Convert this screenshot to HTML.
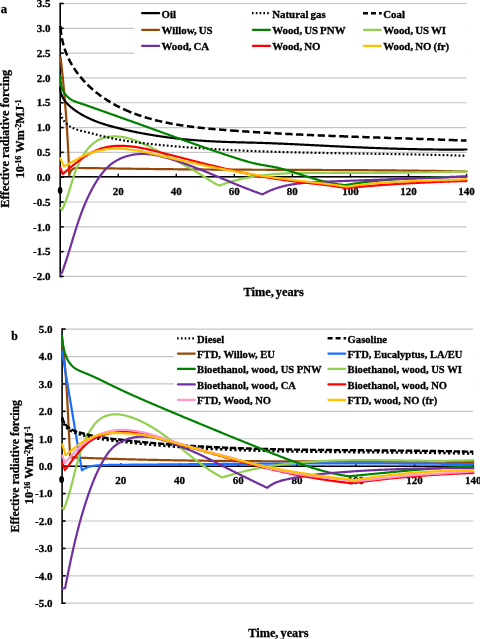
<!DOCTYPE html>
<html><head><meta charset="utf-8"><style>
html,body{margin:0;padding:0;background:#fff;}
body{width:480px;height:639px;overflow:hidden;}
svg{display:block;will-change:transform;}
text{font-family:"Liberation Serif", serif;font-weight:bold;fill:#000;stroke:#000;stroke-width:0.3px;}
</style></head><body>
<svg width="480" height="639" viewBox="0 0 480 639">
<rect width="480" height="639" fill="#fff"/>
<line x1="60.20" y1="3.50" x2="466.50" y2="3.50" stroke="#C6C6C6" stroke-width="1.2"/>
<line x1="60.20" y1="28.31" x2="466.50" y2="28.31" stroke="#C6C6C6" stroke-width="1.2"/>
<line x1="60.20" y1="53.13" x2="466.50" y2="53.13" stroke="#C6C6C6" stroke-width="1.2"/>
<line x1="60.20" y1="77.94" x2="466.50" y2="77.94" stroke="#C6C6C6" stroke-width="1.2"/>
<line x1="60.20" y1="102.75" x2="466.50" y2="102.75" stroke="#C6C6C6" stroke-width="1.2"/>
<line x1="60.20" y1="127.57" x2="466.50" y2="127.57" stroke="#C6C6C6" stroke-width="1.2"/>
<line x1="60.20" y1="152.38" x2="466.50" y2="152.38" stroke="#C6C6C6" stroke-width="1.2"/>
<line x1="60.20" y1="177.20" x2="466.50" y2="177.20" stroke="#C6C6C6" stroke-width="1.2"/>
<line x1="60.20" y1="202.01" x2="466.50" y2="202.01" stroke="#C6C6C6" stroke-width="1.2"/>
<line x1="60.20" y1="226.82" x2="466.50" y2="226.82" stroke="#C6C6C6" stroke-width="1.2"/>
<line x1="60.20" y1="251.64" x2="466.50" y2="251.64" stroke="#C6C6C6" stroke-width="1.2"/>
<line x1="60.20" y1="276.45" x2="466.50" y2="276.45" stroke="#C6C6C6" stroke-width="1.2"/>
<rect x="134" y="6" width="332" height="50" fill="#fff"/>
<line x1="60.20" y1="2.70" x2="60.20" y2="277.25" stroke="#000" stroke-width="1.6"/>
<line x1="60.20" y1="3.50" x2="63.70" y2="3.50" stroke="#000" stroke-width="1.6"/>
<text x="50.50" y="7.24" text-anchor="end" font-size="11.00">3.5</text>
<line x1="60.20" y1="28.31" x2="63.70" y2="28.31" stroke="#000" stroke-width="1.6"/>
<text x="50.50" y="32.05" text-anchor="end" font-size="11.00">3.0</text>
<line x1="60.20" y1="53.13" x2="63.70" y2="53.13" stroke="#000" stroke-width="1.6"/>
<text x="50.50" y="56.87" text-anchor="end" font-size="11.00">2.5</text>
<line x1="60.20" y1="77.94" x2="63.70" y2="77.94" stroke="#000" stroke-width="1.6"/>
<text x="50.50" y="81.68" text-anchor="end" font-size="11.00">2.0</text>
<line x1="60.20" y1="102.75" x2="63.70" y2="102.75" stroke="#000" stroke-width="1.6"/>
<text x="50.50" y="106.49" text-anchor="end" font-size="11.00">1.5</text>
<line x1="60.20" y1="127.57" x2="63.70" y2="127.57" stroke="#000" stroke-width="1.6"/>
<text x="50.50" y="131.31" text-anchor="end" font-size="11.00">1.0</text>
<line x1="60.20" y1="152.38" x2="63.70" y2="152.38" stroke="#000" stroke-width="1.6"/>
<text x="50.50" y="156.12" text-anchor="end" font-size="11.00">0.5</text>
<line x1="60.20" y1="177.20" x2="63.70" y2="177.20" stroke="#000" stroke-width="1.6"/>
<text x="50.50" y="180.94" text-anchor="end" font-size="11.00">0.0</text>
<line x1="60.20" y1="202.01" x2="63.70" y2="202.01" stroke="#000" stroke-width="1.6"/>
<text x="50.50" y="205.75" text-anchor="end" font-size="11.00">-0.5</text>
<line x1="60.20" y1="226.82" x2="63.70" y2="226.82" stroke="#000" stroke-width="1.6"/>
<text x="50.50" y="230.56" text-anchor="end" font-size="11.00">-1.0</text>
<line x1="60.20" y1="251.64" x2="63.70" y2="251.64" stroke="#000" stroke-width="1.6"/>
<text x="50.50" y="255.38" text-anchor="end" font-size="11.00">-1.5</text>
<line x1="60.20" y1="276.45" x2="63.70" y2="276.45" stroke="#000" stroke-width="1.6"/>
<text x="50.50" y="280.19" text-anchor="end" font-size="11.00">-2.0</text>
<line x1="60.20" y1="176.80" x2="466.50" y2="176.80" stroke="#000" stroke-width="1.6"/>
<line x1="118.24" y1="176.80" x2="118.24" y2="173.80" stroke="#000" stroke-width="1.4"/>
<text x="118.24" y="194.50" text-anchor="middle" font-size="11.00">20</text>
<line x1="176.29" y1="176.80" x2="176.29" y2="173.80" stroke="#000" stroke-width="1.4"/>
<text x="176.29" y="194.50" text-anchor="middle" font-size="11.00">40</text>
<line x1="234.33" y1="176.80" x2="234.33" y2="173.80" stroke="#000" stroke-width="1.4"/>
<text x="234.33" y="194.50" text-anchor="middle" font-size="11.00">60</text>
<line x1="292.37" y1="176.80" x2="292.37" y2="173.80" stroke="#000" stroke-width="1.4"/>
<text x="292.37" y="194.50" text-anchor="middle" font-size="11.00">80</text>
<line x1="350.41" y1="176.80" x2="350.41" y2="173.80" stroke="#000" stroke-width="1.4"/>
<text x="350.41" y="194.50" text-anchor="middle" font-size="11.00">100</text>
<line x1="408.46" y1="176.80" x2="408.46" y2="173.80" stroke="#000" stroke-width="1.4"/>
<text x="408.46" y="194.50" text-anchor="middle" font-size="11.00">120</text>
<line x1="466.50" y1="176.80" x2="466.50" y2="173.80" stroke="#000" stroke-width="1.4"/>
<text x="466.50" y="194.50" text-anchor="middle" font-size="11.00">140</text>
<path d="M60.60,57.50 L60.71,58.49 L60.83,59.49 L60.94,60.49 L61.05,61.48 L61.16,62.48 L61.27,63.47 L61.38,64.47 L61.49,65.46 L61.60,66.46 L61.71,67.45 L61.81,68.45 L61.92,69.44 L62.02,70.44 L62.13,71.44 L62.23,72.43 L62.34,73.43 L62.44,74.42 L62.54,75.42 L62.64,76.41 L62.74,77.41 L62.84,78.41 L62.94,79.40 L63.04,80.40 L63.14,81.40 L63.23,82.39 L63.33,83.39 L63.43,84.39 L63.52,85.38 L63.61,86.38 L63.71,87.38 L63.80,88.37 L63.89,89.37 L63.98,90.37 L64.07,91.36 L64.16,92.36 L64.25,93.36 L64.34,94.35 L64.43,95.35 L64.52,96.35 L64.60,97.34 L64.69,98.34 L64.77,99.34 L64.86,100.34 L64.94,101.33 L65.03,102.33 L65.11,103.33 L65.19,104.33 L65.27,105.32 L65.35,106.32 L65.43,107.32 L65.51,108.32 L65.59,109.32 L65.66,110.31 L65.74,111.31 L65.82,112.31 L65.89,113.31 L65.97,114.31 L66.04,115.30 L66.11,116.30 L66.19,117.30 L66.26,118.30 L66.33,119.30 L66.40,120.30 L66.47,121.29 L66.54,122.29 L66.61,123.29 L66.68,124.29 L66.74,125.29 L66.81,126.29 L66.87,127.29 L66.94,128.29 L67.00,129.29 L67.07,130.28 L67.13,131.28 L67.19,132.28 L67.25,133.28 L67.31,134.28 L67.37,135.28 L67.43,136.28 L67.49,137.28 L67.55,138.28 L67.61,139.28 L67.66,140.28 L67.72,141.28 L67.77,142.28 L67.83,143.28 L67.88,144.28 L67.93,145.28 L67.99,146.28 L68.04,147.28 L68.09,148.28 L68.14,149.28 L68.19,150.28 L68.24,151.28 L68.29,152.28 L68.33,153.28 L68.38,154.28 L68.43,155.28 L68.47,156.28 L68.52,157.28 L68.56,158.28 L68.60,159.28 L68.65,160.28 L68.69,161.28 L68.73,162.28 L68.77,163.28 L68.81,164.29 L68.85,165.29 L68.89,166.29 L68.92,167.29 L68.96,168.29 L69.00,169.29 L69.03,170.29 L69.07,171.29 L69.10,172.30 L69.14,173.30 L69.17,174.30 L69.20,175.30 L69.47,174.09 L69.85,172.96 L70.33,171.92 L70.88,170.98 L71.51,170.16 L72.21,169.48 L72.97,168.94 L73.78,168.54 L74.63,168.27 L75.52,168.11 L76.44,168.02 L77.38,167.99 L78.33,167.99 L79.28,168.00 L80.24,168.00 L81.20,168.01 L82.16,168.02 L83.12,168.03 L84.08,168.04 L85.05,168.05 L86.02,168.06 L86.99,168.07 L87.96,168.08 L88.93,168.09 L89.90,168.10 L90.88,168.12 L91.86,168.13 L92.84,168.14 L93.82,168.15 L94.80,168.17 L95.78,168.18 L96.77,168.19 L97.76,168.20 L98.74,168.22 L99.73,168.23 L100.72,168.25 L101.71,168.26 L102.71,168.28 L103.70,168.29 L104.69,168.31 L105.69,168.32 L106.69,168.34 L107.68,168.35 L108.68,168.37 L109.68,168.38 L110.68,168.40 L111.68,168.41 L112.69,168.43 L113.69,168.44 L114.69,168.46 L115.70,168.48 L116.70,168.49 L117.71,168.51 L118.71,168.52 L119.72,168.54 L120.72,168.55 L121.73,168.57 L122.74,168.59 L123.75,168.60 L124.75,168.62 L125.76,168.63 L126.77,168.65 L127.78,168.67 L128.79,168.68 L129.80,168.70 L130.81,168.71 L131.82,168.73 L132.83,168.74 L133.84,168.76 L134.85,168.77 L135.85,168.79 L136.86,168.80 L137.87,168.82 L138.88,168.83 L139.89,168.84 L140.90,168.86 L141.91,168.87 L142.91,168.88 L143.92,168.90 L144.93,168.91 L145.94,168.92 L146.95,168.94 L147.96,168.95 L148.96,168.96 L149.97,168.98 L150.98,168.99 L151.99,169.00 L152.99,169.01 L154.00,169.03 L155.01,169.04 L156.01,169.05 L157.02,169.06 L158.03,169.07 L159.03,169.08 L160.04,169.09 L161.05,169.11 L162.05,169.12 L163.06,169.13 L164.07,169.14 L165.07,169.15 L166.08,169.16 L167.09,169.17 L168.09,169.18 L169.10,169.19 L170.10,169.20 L171.11,169.21 L172.11,169.22 L173.12,169.23 L174.12,169.24 L175.13,169.25 L176.13,169.26 L177.14,169.27 L178.15,169.28 L179.15,169.29 L180.15,169.30 L181.16,169.30 L182.16,169.31 L183.17,169.32 L184.17,169.33 L185.18,169.34 L186.18,169.35 L187.19,169.36 L188.19,169.36 L189.20,169.37 L190.20,169.38 L191.20,169.39 L192.21,169.40 L193.21,169.40 L194.21,169.41 L195.22,169.42 L196.22,169.43 L197.23,169.43 L198.23,169.44 L199.23,169.45 L200.24,169.45 L201.24,169.46 L202.24,169.47 L203.25,169.47 L204.25,169.48 L205.25,169.49 L206.25,169.49 L207.26,169.50 L208.26,169.51 L209.26,169.51 L210.27,169.52 L211.27,169.53 L212.27,169.53 L213.27,169.54 L214.28,169.54 L215.28,169.55 L216.28,169.56 L217.28,169.56 L218.28,169.57 L219.29,169.57 L220.29,169.58 L221.29,169.58 L222.29,169.59 L223.29,169.59 L224.30,169.60 L225.30,169.60 L226.30,169.61 L227.30,169.61 L228.30,169.62 L229.30,169.62 L230.31,169.63 L231.31,169.63 L232.31,169.64 L233.31,169.64 L234.31,169.65 L235.31,169.65 L236.31,169.66 L237.32,169.66 L238.32,169.67 L239.32,169.67 L240.32,169.68 L241.32,169.68 L242.32,169.68 L243.32,169.69 L244.32,169.69 L245.32,169.70 L246.32,169.70 L247.32,169.71 L248.32,169.71 L249.33,169.71 L250.33,169.72 L251.33,169.72 L252.33,169.73 L253.33,169.73 L254.33,169.73 L255.33,169.74 L256.33,169.74 L257.33,169.74 L258.33,169.75 L259.33,169.75 L260.33,169.76 L261.33,169.76 L262.33,169.76 L263.33,169.77 L264.33,169.77 L265.33,169.77 L266.33,169.78 L267.33,169.78 L268.33,169.78 L269.33,169.79 L270.33,169.79 L271.33,169.80 L272.33,169.80 L273.33,169.80 L274.33,169.81 L275.33,169.81 L276.33,169.81 L277.33,169.82 L278.33,169.82 L279.33,169.82 L280.33,169.83 L281.33,169.83 L282.33,169.83 L283.32,169.84 L284.32,169.84 L285.32,169.84 L286.32,169.85 L287.32,169.85 L288.32,169.85 L289.32,169.86 L290.32,169.86 L291.32,169.86 L292.32,169.87 L293.32,169.87 L294.32,169.87 L295.32,169.88 L296.32,169.88 L297.32,169.88 L298.32,169.89 L299.32,169.89 L300.31,169.89 L301.31,169.90 L302.31,169.90 L303.31,169.91 L304.31,169.91 L305.31,169.91 L306.31,169.92 L307.31,169.92 L308.31,169.92 L309.31,169.93 L310.31,169.93 L311.31,169.94 L312.30,169.94 L313.30,169.94 L314.30,169.95 L315.30,169.95 L316.30,169.95 L317.30,169.96 L318.30,169.96 L319.30,169.97 L320.30,169.97 L321.30,169.97 L322.30,169.98 L323.30,169.98 L324.29,169.99 L325.29,169.99 L326.29,170.00 L327.29,170.00 L328.29,170.00 L329.29,170.01 L330.29,170.01 L331.29,170.02 L332.29,170.02 L333.29,170.03 L334.29,170.03 L335.29,170.04 L336.29,170.04 L337.28,170.05 L338.28,170.05 L339.28,170.06 L340.28,170.06 L341.28,170.07 L342.28,170.07 L343.28,170.08 L344.28,170.08 L345.28,170.09 L346.28,170.09 L347.28,170.10 L348.28,170.10 L349.28,170.11 L350.28,170.12 L351.28,170.12 L352.28,170.13 L353.28,170.13 L354.27,170.14 L355.27,170.14 L356.27,170.15 L357.27,170.16 L358.27,170.16 L359.27,170.17 L360.27,170.18 L361.27,170.18 L362.27,170.19 L363.27,170.20 L364.27,170.20 L365.27,170.21 L366.27,170.22 L367.27,170.22 L368.27,170.23 L369.27,170.24 L370.27,170.24 L371.27,170.25 L372.27,170.26 L373.27,170.27 L374.27,170.27 L375.27,170.28 L376.27,170.29 L377.27,170.30 L378.27,170.30 L379.27,170.31 L380.27,170.32 L381.27,170.33 L382.27,170.34 L383.27,170.35 L384.27,170.35 L385.27,170.36 L386.27,170.37 L387.28,170.38 L388.28,170.39 L389.28,170.40 L390.28,170.41 L391.28,170.42 L392.28,170.43 L393.28,170.44 L394.28,170.45 L395.28,170.46 L396.28,170.47 L397.28,170.48 L398.28,170.49 L399.29,170.50 L400.29,170.51 L401.29,170.52 L402.29,170.53 L403.29,170.54 L404.29,170.55 L405.29,170.56 L406.30,170.57 L407.30,170.58 L408.30,170.59 L409.30,170.60 L410.30,170.62 L411.30,170.63 L412.30,170.64 L413.31,170.65 L414.31,170.66 L415.31,170.68 L416.31,170.69 L417.31,170.70 L418.32,170.71 L419.32,170.73 L420.32,170.74 L421.32,170.75 L422.33,170.77 L423.33,170.78 L424.33,170.79 L425.33,170.81 L426.34,170.82 L427.34,170.83 L428.34,170.85 L429.34,170.86 L430.35,170.88 L431.35,170.89 L432.35,170.91 L433.36,170.92 L434.36,170.94 L435.36,170.95 L436.37,170.97 L437.37,170.98 L438.37,171.00 L439.38,171.01 L440.38,171.03 L441.38,171.05 L442.39,171.06 L443.39,171.08 L444.40,171.09 L445.40,171.11 L446.40,171.13 L447.41,171.15 L448.41,171.16 L449.42,171.18 L450.42,171.20 L451.42,171.22 L452.43,171.23 L453.43,171.25 L454.44,171.27 L455.44,171.29 L456.45,171.31 L457.45,171.33 L458.46,171.34 L459.46,171.36 L460.47,171.38 L461.47,171.40 L462.48,171.42 L463.48,171.44 L464.49,171.46 L465.50,171.48 L466.50,171.50" fill="none" stroke="#974706" stroke-width="2.20" stroke-linejoin="round" stroke-linecap="round"/>
<path d="M60.40,87.00 L60.37,88.08 L60.40,89.14 L60.48,90.18 L60.61,91.19 L60.80,92.18 L61.03,93.15 L61.31,94.09 L61.63,95.02 L61.99,95.92 L62.40,96.81 L62.84,97.67 L63.32,98.52 L63.84,99.35 L64.38,100.16 L64.96,100.95 L65.57,101.72 L66.20,102.48 L66.85,103.22 L67.53,103.94 L68.23,104.65 L68.95,105.34 L69.69,106.02 L70.44,106.69 L71.21,107.34 L71.99,107.97 L72.78,108.60 L73.58,109.21 L74.39,109.81 L75.20,110.40 L76.03,110.97 L76.85,111.54 L77.69,112.09 L78.53,112.63 L79.37,113.16 L80.22,113.69 L81.08,114.20 L81.94,114.70 L82.80,115.19 L83.68,115.67 L84.55,116.14 L85.43,116.60 L86.32,117.05 L87.21,117.50 L88.10,117.93 L89.00,118.36 L89.91,118.77 L90.81,119.18 L91.72,119.58 L92.64,119.98 L93.56,120.36 L94.48,120.74 L95.41,121.11 L96.34,121.47 L97.27,121.82 L98.21,122.17 L99.15,122.51 L100.09,122.85 L101.04,123.17 L101.98,123.49 L102.93,123.81 L103.89,124.12 L104.84,124.42 L105.80,124.72 L106.76,125.02 L107.72,125.30 L108.69,125.59 L109.65,125.87 L110.62,126.14 L111.59,126.41 L112.56,126.67 L113.54,126.93 L114.51,127.19 L115.48,127.44 L116.46,127.69 L117.44,127.94 L118.42,128.18 L119.39,128.42 L120.37,128.66 L121.35,128.89 L122.33,129.13 L123.31,129.36 L124.29,129.58 L125.27,129.81 L126.26,130.03 L127.24,130.25 L128.22,130.47 L129.20,130.68 L130.18,130.90 L131.17,131.11 L132.15,131.32 L133.13,131.52 L134.12,131.73 L135.10,131.93 L136.08,132.13 L137.07,132.32 L138.05,132.52 L139.04,132.71 L140.02,132.90 L141.01,133.09 L142.00,133.28 L142.98,133.46 L143.97,133.64 L144.95,133.82 L145.94,134.00 L146.93,134.17 L147.92,134.34 L148.90,134.51 L149.89,134.68 L150.88,134.85 L151.87,135.01 L152.86,135.18 L153.85,135.34 L154.83,135.49 L155.82,135.65 L156.81,135.80 L157.80,135.95 L158.79,136.10 L159.78,136.25 L160.77,136.40 L161.76,136.54 L162.76,136.68 L163.75,136.82 L164.74,136.96 L165.73,137.09 L166.72,137.23 L167.71,137.36 L168.70,137.49 L169.70,137.61 L170.69,137.74 L171.68,137.86 L172.67,137.98 L173.67,138.10 L174.66,138.22 L175.65,138.34 L176.65,138.45 L177.64,138.56 L178.63,138.67 L179.63,138.78 L180.62,138.89 L181.62,138.99 L182.61,139.09 L183.60,139.19 L184.60,139.29 L185.59,139.39 L186.59,139.49 L187.58,139.58 L188.58,139.67 L189.57,139.76 L190.57,139.85 L191.56,139.94 L192.56,140.02 L193.55,140.10 L194.55,140.18 L195.55,140.26 L196.54,140.34 L197.54,140.42 L198.53,140.49 L199.53,140.56 L200.53,140.63 L201.52,140.70 L202.52,140.77 L203.52,140.84 L204.51,140.90 L205.51,140.96 L206.51,141.03 L207.50,141.09 L208.50,141.14 L209.50,141.20 L210.50,141.25 L211.49,141.31 L212.49,141.36 L213.49,141.41 L214.48,141.46 L215.48,141.50 L216.48,141.55 L217.48,141.59 L218.47,141.64 L219.47,141.68 L220.47,141.72 L221.47,141.76 L222.47,141.80 L223.46,141.84 L224.46,141.87 L225.46,141.91 L226.46,141.94 L227.46,141.98 L228.45,142.01 L229.45,142.04 L230.45,142.07 L231.45,142.11 L232.45,142.14 L233.44,142.17 L234.44,142.19 L235.44,142.22 L236.44,142.25 L237.44,142.28 L238.44,142.31 L239.44,142.33 L240.43,142.36 L241.43,142.38 L242.43,142.41 L243.43,142.44 L244.43,142.46 L245.43,142.49 L246.43,142.51 L247.43,142.54 L248.43,142.56 L249.43,142.59 L250.42,142.62 L251.42,142.64 L252.42,142.67 L253.42,142.69 L254.42,142.72 L255.42,142.75 L256.42,142.77 L257.42,142.80 L258.42,142.83 L259.42,142.86 L260.42,142.89 L261.42,142.92 L262.42,142.95 L263.42,142.98 L264.42,143.01 L265.42,143.05 L266.42,143.08 L267.42,143.11 L268.42,143.15 L269.42,143.18 L270.42,143.22 L271.42,143.26 L272.42,143.30 L273.42,143.33 L274.42,143.37 L275.42,143.41 L276.42,143.45 L277.42,143.49 L278.42,143.54 L279.42,143.58 L280.42,143.62 L281.42,143.66 L282.42,143.71 L283.42,143.75 L284.42,143.80 L285.42,143.84 L286.42,143.89 L287.42,143.93 L288.42,143.98 L289.42,144.02 L290.42,144.07 L291.42,144.12 L292.42,144.17 L293.42,144.21 L294.42,144.26 L295.43,144.31 L296.43,144.36 L297.43,144.41 L298.43,144.46 L299.43,144.51 L300.43,144.56 L301.43,144.61 L302.43,144.66 L303.43,144.71 L304.43,144.76 L305.43,144.81 L306.43,144.86 L307.43,144.91 L308.44,144.96 L309.44,145.01 L310.44,145.06 L311.44,145.11 L312.44,145.16 L313.44,145.21 L314.44,145.26 L315.44,145.31 L316.44,145.36 L317.44,145.41 L318.45,145.46 L319.45,145.51 L320.45,145.56 L321.45,145.61 L322.45,145.66 L323.45,145.71 L324.45,145.76 L325.45,145.81 L326.45,145.86 L327.46,145.91 L328.46,145.96 L329.46,146.01 L330.46,146.05 L331.46,146.10 L332.46,146.15 L333.46,146.20 L334.46,146.25 L335.47,146.29 L336.47,146.34 L337.47,146.39 L338.47,146.44 L339.47,146.48 L340.47,146.53 L341.47,146.58 L342.47,146.62 L343.48,146.67 L344.48,146.72 L345.48,146.76 L346.48,146.81 L347.48,146.85 L348.48,146.90 L349.48,146.94 L350.48,146.99 L351.49,147.03 L352.49,147.08 L353.49,147.12 L354.49,147.16 L355.49,147.21 L356.49,147.25 L357.49,147.29 L358.49,147.34 L359.49,147.38 L360.50,147.42 L361.50,147.46 L362.50,147.51 L363.50,147.55 L364.50,147.59 L365.50,147.63 L366.50,147.67 L367.50,147.71 L368.51,147.75 L369.51,147.79 L370.51,147.83 L371.51,147.87 L372.51,147.91 L373.51,147.94 L374.51,147.98 L375.51,148.02 L376.51,148.06 L377.52,148.09 L378.52,148.13 L379.52,148.17 L380.52,148.20 L381.52,148.24 L382.52,148.27 L383.52,148.31 L384.52,148.34 L385.52,148.38 L386.52,148.41 L387.52,148.44 L388.53,148.48 L389.53,148.51 L390.53,148.54 L391.53,148.57 L392.53,148.60 L393.53,148.63 L394.53,148.66 L395.53,148.70 L396.53,148.72 L397.53,148.75 L398.53,148.78 L399.53,148.81 L400.53,148.84 L401.53,148.87 L402.54,148.89 L403.54,148.92 L404.54,148.95 L405.54,148.97 L406.54,149.00 L407.54,149.02 L408.54,149.05 L409.54,149.07 L410.54,149.09 L411.54,149.12 L412.54,149.14 L413.54,149.16 L414.54,149.18 L415.54,149.20 L416.54,149.22 L417.54,149.24 L418.54,149.26 L419.54,149.28 L420.54,149.30 L421.54,149.32 L422.54,149.33 L423.54,149.35 L424.54,149.37 L425.54,149.38 L426.54,149.40 L427.54,149.41 L428.54,149.42 L429.54,149.44 L430.54,149.45 L431.54,149.46 L432.54,149.47 L433.54,149.49 L434.54,149.50 L435.54,149.51 L436.54,149.52 L437.54,149.52 L438.54,149.53 L439.53,149.54 L440.53,149.55 L441.53,149.55 L442.53,149.56 L443.53,149.56 L444.53,149.57 L445.53,149.57 L446.53,149.58 L447.53,149.58 L448.53,149.58 L449.53,149.58 L450.52,149.58 L451.52,149.58 L452.52,149.58 L453.52,149.58 L454.52,149.58 L455.52,149.57 L456.52,149.57 L457.52,149.57 L458.51,149.56 L459.51,149.56 L460.51,149.55 L461.51,149.54 L462.51,149.54 L463.51,149.53 L464.50,149.52 L465.50,149.51 L466.50,149.50" fill="none" stroke="#000" stroke-width="2.20" stroke-linejoin="round" stroke-linecap="round"/>
<path d="M60.30,208.00 L62.10,209.80 L62.55,208.85 L62.99,207.89 L63.42,206.94 L63.83,205.99 L64.23,205.04 L64.62,204.09 L65.00,203.15 L65.37,202.20 L65.72,201.26 L66.07,200.31 L66.41,199.37 L66.75,198.43 L67.07,197.49 L67.39,196.55 L67.70,195.61 L68.01,194.67 L68.31,193.73 L68.61,192.80 L68.90,191.86 L69.19,190.92 L69.48,189.99 L69.77,189.05 L70.05,188.12 L70.33,187.18 L70.61,186.25 L70.89,185.31 L71.17,184.38 L71.46,183.45 L71.74,182.51 L72.03,181.58 L72.32,180.64 L72.61,179.71 L72.91,178.77 L73.21,177.84 L73.52,176.90 L73.83,175.96 L74.15,175.03 L74.47,174.09 L74.80,173.15 L75.14,172.21 L75.49,171.27 L75.85,170.33 L76.22,169.39 L76.59,168.44 L76.98,167.50 L77.38,166.55 L77.79,165.61 L78.22,164.66 L78.65,163.71 L79.10,162.77 L79.56,161.83 L80.03,160.89 L80.52,159.95 L81.02,159.02 L81.53,158.09 L82.05,157.18 L82.59,156.27 L83.14,155.37 L83.70,154.47 L84.28,153.60 L84.86,152.73 L85.46,151.87 L86.08,151.03 L86.71,150.21 L87.35,149.40 L88.00,148.61 L88.67,147.84 L89.35,147.08 L90.05,146.35 L90.75,145.64 L91.48,144.94 L92.21,144.28 L92.96,143.63 L93.72,143.01 L94.50,142.42 L95.29,141.86 L96.10,141.32 L96.92,140.81 L97.75,140.33 L98.60,139.89 L99.46,139.47 L100.33,139.08 L101.22,138.72 L102.11,138.38 L103.02,138.08 L103.94,137.80 L104.86,137.55 L105.80,137.33 L106.74,137.13 L107.69,136.95 L108.65,136.80 L109.61,136.68 L110.58,136.58 L111.55,136.50 L112.53,136.44 L113.51,136.41 L114.50,136.40 L115.49,136.41 L116.47,136.44 L117.46,136.50 L118.46,136.57 L119.45,136.66 L120.44,136.77 L121.43,136.90 L122.41,137.05 L123.40,137.21 L124.38,137.39 L125.36,137.59 L126.34,137.81 L127.32,138.04 L128.29,138.28 L129.27,138.54 L130.24,138.82 L131.21,139.11 L132.18,139.41 L133.14,139.72 L134.11,140.05 L135.07,140.39 L136.03,140.74 L136.98,141.10 L137.94,141.47 L138.89,141.85 L139.84,142.24 L140.79,142.64 L141.74,143.04 L142.69,143.46 L143.63,143.88 L144.57,144.31 L145.51,144.75 L146.44,145.19 L147.38,145.64 L148.31,146.09 L149.24,146.55 L150.17,147.01 L151.09,147.48 L152.02,147.94 L152.94,148.42 L153.86,148.89 L154.77,149.36 L155.69,149.84 L156.60,150.32 L157.51,150.79 L158.42,151.27 L159.32,151.75 L160.22,152.22 L161.13,152.70 L162.02,153.17 L162.92,153.64 L163.81,154.11 L164.70,154.58 L165.59,155.04 L166.48,155.51 L167.37,155.97 L168.25,156.44 L169.13,156.90 L170.01,157.36 L170.89,157.82 L171.77,158.29 L172.65,158.75 L173.52,159.21 L174.39,159.67 L175.26,160.13 L176.13,160.60 L177.00,161.06 L177.87,161.52 L178.74,161.99 L179.60,162.45 L180.47,162.92 L181.33,163.39 L182.19,163.86 L183.06,164.33 L183.92,164.80 L184.78,165.27 L185.64,165.75 L186.50,166.23 L187.36,166.71 L188.22,167.19 L189.08,167.67 L189.93,168.16 L190.79,168.65 L191.65,169.14 L192.51,169.64 L193.36,170.13 L194.22,170.64 L195.08,171.14 L195.94,171.65 L196.80,172.16 L197.66,172.67 L198.51,173.19 L199.37,173.72 L200.23,174.24 L201.09,174.77 L201.96,175.31 L202.82,175.85 L203.68,176.39 L204.54,176.94 L205.41,177.50 L206.27,178.05 L207.14,178.61 L208.00,179.17 L208.87,179.73 L209.74,180.29 L210.61,180.84 L211.48,181.38 L212.36,181.91 L213.23,182.43 L214.11,182.94 L214.99,183.43 L215.87,183.91 L216.75,184.36 L217.63,184.80 L218.51,185.21 L219.40,185.60 L220.36,185.24 L221.32,184.89 L222.28,184.55 L223.24,184.21 L224.20,183.88 L225.17,183.56 L226.13,183.24 L227.10,182.93 L228.06,182.63 L229.03,182.33 L229.99,182.04 L230.96,181.75 L231.93,181.47 L232.90,181.19 L233.87,180.93 L234.84,180.66 L235.81,180.41 L236.78,180.15 L237.75,179.91 L238.72,179.67 L239.69,179.43 L240.66,179.20 L241.64,178.98 L242.61,178.76 L243.59,178.54 L244.56,178.34 L245.54,178.13 L246.51,177.93 L247.49,177.74 L248.47,177.55 L249.45,177.37 L250.42,177.19 L251.40,177.01 L252.38,176.84 L253.36,176.68 L254.34,176.52 L255.32,176.36 L256.30,176.21 L257.29,176.06 L258.27,175.92 L259.25,175.78 L260.24,175.65 L261.22,175.51 L262.20,175.39 L263.19,175.27 L264.17,175.15 L265.16,175.03 L266.14,174.92 L267.13,174.81 L268.12,174.71 L269.11,174.61 L270.09,174.51 L271.08,174.42 L272.07,174.33 L273.06,174.24 L274.05,174.16 L275.04,174.08 L276.03,174.00 L277.02,173.93 L278.01,173.86 L279.00,173.79 L279.99,173.73 L280.99,173.67 L281.98,173.61 L282.97,173.55 L283.97,173.50 L284.96,173.45 L285.95,173.40 L286.95,173.35 L287.94,173.31 L288.94,173.27 L289.93,173.23 L290.93,173.20 L291.93,173.16 L292.92,173.13 L293.92,173.10 L294.92,173.07 L295.91,173.05 L296.91,173.02 L297.91,173.00 L298.91,172.98 L299.91,172.96 L300.91,172.94 L301.91,172.93 L302.91,172.92 L303.91,172.90 L304.91,172.89 L305.91,172.88 L306.91,172.87 L307.91,172.87 L308.91,172.86 L309.91,172.86 L310.91,172.85 L311.92,172.85 L312.92,172.85 L313.92,172.85 L314.92,172.84 L315.93,172.85 L316.93,172.85 L317.93,172.85 L318.94,172.85 L319.94,172.85 L320.95,172.86 L321.95,172.86 L322.95,172.86 L323.96,172.87 L324.96,172.87 L325.97,172.87 L326.97,172.88 L327.98,172.88 L328.99,172.89 L329.99,172.89 L331.00,172.89 L332.00,172.90 L333.01,172.90 L334.02,172.90 L335.02,172.91 L336.03,172.91 L337.04,172.91 L338.04,172.92 L339.05,172.92 L340.06,172.92 L341.07,172.92 L342.07,172.92 L343.08,172.93 L344.09,172.93 L345.10,172.93 L346.10,172.93 L347.11,172.93 L348.12,172.93 L349.13,172.93 L350.14,172.93 L351.14,172.93 L352.15,172.93 L353.16,172.93 L354.17,172.93 L355.18,172.93 L356.19,172.93 L357.20,172.93 L358.21,172.92 L359.21,172.92 L360.22,172.92 L361.23,172.92 L362.24,172.92 L363.25,172.91 L364.26,172.91 L365.27,172.91 L366.28,172.90 L367.29,172.90 L368.30,172.90 L369.30,172.89 L370.31,172.89 L371.32,172.89 L372.33,172.88 L373.34,172.88 L374.35,172.87 L375.36,172.87 L376.37,172.86 L377.38,172.86 L378.39,172.85 L379.39,172.84 L380.40,172.84 L381.41,172.83 L382.42,172.82 L383.43,172.82 L384.44,172.81 L385.45,172.80 L386.45,172.80 L387.46,172.79 L388.47,172.78 L389.48,172.77 L390.49,172.76 L391.50,172.76 L392.50,172.75 L393.51,172.74 L394.52,172.73 L395.53,172.72 L396.53,172.71 L397.54,172.70 L398.55,172.69 L399.56,172.68 L400.56,172.67 L401.57,172.66 L402.58,172.64 L403.58,172.63 L404.59,172.62 L405.59,172.61 L406.60,172.60 L407.61,172.58 L408.61,172.57 L409.62,172.56 L410.62,172.55 L411.63,172.53 L412.63,172.52 L413.64,172.51 L414.64,172.49 L415.65,172.48 L416.65,172.46 L417.65,172.45 L418.66,172.43 L419.66,172.42 L420.67,172.40 L421.67,172.39 L422.67,172.37 L423.67,172.35 L424.68,172.34 L425.68,172.32 L426.68,172.30 L427.68,172.28 L428.68,172.27 L429.68,172.25 L430.68,172.23 L431.69,172.21 L432.69,172.19 L433.69,172.17 L434.69,172.16 L435.68,172.14 L436.68,172.12 L437.68,172.10 L438.68,172.08 L439.68,172.06 L440.68,172.03 L441.67,172.01 L442.67,171.99 L443.67,171.97 L444.67,171.95 L445.66,171.93 L446.66,171.90 L447.65,171.88 L448.65,171.86 L449.64,171.84 L450.64,171.81 L451.63,171.79 L452.63,171.76 L453.62,171.74 L454.61,171.72 L455.61,171.69 L456.60,171.67 L457.59,171.64 L458.58,171.61 L459.57,171.59 L460.56,171.56 L461.55,171.54 L462.54,171.51 L463.53,171.48 L464.52,171.45 L465.51,171.43 L466.50,171.40" fill="none" stroke="#92D050" stroke-width="2.20" stroke-linejoin="round" stroke-linecap="round"/>
<path d="M60.50,113.00 L60.73,114.02 L61.00,115.02 L61.33,115.99 L61.70,116.94 L62.12,117.86 L62.58,118.76 L63.10,119.63 L63.66,120.46 L64.27,121.27 L64.92,122.05 L65.61,122.80 L66.34,123.51 L67.10,124.19 L67.89,124.84 L68.70,125.46 L69.54,126.05 L70.39,126.60 L71.26,127.11 L72.14,127.59 L73.03,128.04 L73.93,128.45 L74.83,128.83 L75.73,129.18 L76.64,129.51 L77.56,129.81 L78.48,130.09 L79.41,130.36 L80.34,130.61 L81.27,130.85 L82.21,131.08 L83.16,131.31 L84.10,131.53 L85.05,131.76 L86.01,131.98 L86.97,132.21 L87.93,132.45 L88.89,132.69 L89.86,132.93 L90.83,133.18 L91.80,133.43 L92.77,133.68 L93.75,133.93 L94.73,134.18 L95.71,134.44 L96.69,134.69 L97.68,134.95 L98.66,135.20 L99.65,135.45 L100.64,135.70 L101.62,135.95 L102.61,136.20 L103.60,136.44 L104.59,136.68 L105.58,136.91 L106.57,137.14 L107.56,137.37 L108.55,137.59 L109.54,137.81 L110.53,138.02 L111.52,138.23 L112.52,138.44 L113.51,138.64 L114.50,138.84 L115.49,139.03 L116.48,139.22 L117.47,139.41 L118.46,139.59 L119.45,139.77 L120.44,139.95 L121.44,140.12 L122.43,140.29 L123.42,140.46 L124.41,140.62 L125.40,140.78 L126.40,140.94 L127.39,141.10 L128.38,141.25 L129.37,141.40 L130.37,141.55 L131.36,141.69 L132.35,141.83 L133.34,141.97 L134.34,142.11 L135.33,142.24 L136.32,142.37 L137.32,142.50 L138.31,142.63 L139.30,142.75 L140.30,142.88 L141.29,143.00 L142.28,143.12 L143.28,143.23 L144.27,143.35 L145.27,143.46 L146.26,143.58 L147.25,143.69 L148.25,143.79 L149.24,143.90 L150.24,144.01 L151.23,144.11 L152.23,144.21 L153.22,144.32 L154.22,144.42 L155.21,144.52 L156.21,144.62 L157.20,144.71 L158.20,144.81 L159.19,144.90 L160.19,145.00 L161.18,145.09 L162.18,145.19 L163.17,145.28 L164.17,145.37 L165.16,145.46 L166.16,145.55 L167.16,145.64 L168.15,145.73 L169.15,145.82 L170.14,145.91 L171.14,146.00 L172.14,146.08 L173.13,146.17 L174.13,146.25 L175.13,146.34 L176.12,146.42 L177.12,146.50 L178.12,146.59 L179.11,146.67 L180.11,146.75 L181.11,146.83 L182.10,146.91 L183.10,146.99 L184.10,147.07 L185.10,147.14 L186.09,147.22 L187.09,147.30 L188.09,147.37 L189.09,147.45 L190.08,147.52 L191.08,147.59 L192.08,147.67 L193.08,147.74 L194.07,147.81 L195.07,147.88 L196.07,147.95 L197.07,148.02 L198.07,148.09 L199.06,148.16 L200.06,148.23 L201.06,148.30 L202.06,148.36 L203.06,148.43 L204.06,148.49 L205.06,148.56 L206.05,148.62 L207.05,148.69 L208.05,148.75 L209.05,148.81 L210.05,148.87 L211.05,148.93 L212.05,148.99 L213.05,149.05 L214.05,149.11 L215.05,149.17 L216.04,149.23 L217.04,149.29 L218.04,149.35 L219.04,149.40 L220.04,149.46 L221.04,149.51 L222.04,149.57 L223.04,149.62 L224.04,149.68 L225.04,149.73 L226.04,149.78 L227.04,149.84 L228.04,149.89 L229.04,149.94 L230.04,149.99 L231.04,150.04 L232.04,150.09 L233.04,150.14 L234.04,150.19 L235.04,150.24 L236.04,150.28 L237.04,150.33 L238.04,150.38 L239.04,150.42 L240.04,150.47 L241.05,150.51 L242.05,150.56 L243.05,150.60 L244.05,150.65 L245.05,150.69 L246.05,150.73 L247.05,150.78 L248.05,150.82 L249.05,150.86 L250.05,150.90 L251.05,150.94 L252.06,150.98 L253.06,151.02 L254.06,151.06 L255.06,151.10 L256.06,151.14 L257.06,151.18 L258.06,151.21 L259.06,151.25 L260.07,151.29 L261.07,151.32 L262.07,151.36 L263.07,151.40 L264.07,151.43 L265.07,151.47 L266.08,151.50 L267.08,151.53 L268.08,151.57 L269.08,151.60 L270.08,151.63 L271.08,151.67 L272.09,151.70 L273.09,151.73 L274.09,151.76 L275.09,151.79 L276.09,151.82 L277.10,151.85 L278.10,151.89 L279.10,151.91 L280.10,151.94 L281.10,151.97 L282.11,152.00 L283.11,152.03 L284.11,152.06 L285.11,152.09 L286.12,152.11 L287.12,152.14 L288.12,152.17 L289.12,152.20 L290.12,152.22 L291.13,152.25 L292.13,152.27 L293.13,152.30 L294.13,152.32 L295.14,152.35 L296.14,152.37 L297.14,152.40 L298.14,152.42 L299.15,152.45 L300.15,152.47 L301.15,152.49 L302.16,152.52 L303.16,152.54 L304.16,152.56 L305.16,152.59 L306.17,152.61 L307.17,152.63 L308.17,152.65 L309.17,152.67 L310.18,152.69 L311.18,152.72 L312.18,152.74 L313.19,152.76 L314.19,152.78 L315.19,152.80 L316.19,152.82 L317.20,152.84 L318.20,152.86 L319.20,152.88 L320.21,152.90 L321.21,152.92 L322.21,152.93 L323.21,152.95 L324.22,152.97 L325.22,152.99 L326.22,153.01 L327.23,153.03 L328.23,153.05 L329.23,153.06 L330.24,153.08 L331.24,153.10 L332.24,153.12 L333.24,153.13 L334.25,153.15 L335.25,153.17 L336.25,153.19 L337.26,153.20 L338.26,153.22 L339.26,153.24 L340.27,153.25 L341.27,153.27 L342.27,153.28 L343.27,153.30 L344.28,153.32 L345.28,153.33 L346.28,153.35 L347.29,153.37 L348.29,153.38 L349.29,153.40 L350.30,153.41 L351.30,153.43 L352.30,153.44 L353.30,153.46 L354.31,153.48 L355.31,153.49 L356.31,153.51 L357.32,153.52 L358.32,153.54 L359.32,153.55 L360.33,153.57 L361.33,153.58 L362.33,153.60 L363.33,153.61 L364.34,153.63 L365.34,153.64 L366.34,153.66 L367.35,153.67 L368.35,153.69 L369.35,153.70 L370.35,153.72 L371.36,153.73 L372.36,153.75 L373.36,153.77 L374.37,153.78 L375.37,153.80 L376.37,153.81 L377.37,153.83 L378.38,153.84 L379.38,153.86 L380.38,153.87 L381.38,153.89 L382.39,153.90 L383.39,153.92 L384.39,153.94 L385.40,153.95 L386.40,153.97 L387.40,153.98 L388.40,154.00 L389.41,154.02 L390.41,154.03 L391.41,154.05 L392.41,154.06 L393.42,154.08 L394.42,154.10 L395.42,154.11 L396.42,154.13 L397.43,154.15 L398.43,154.16 L399.43,154.18 L400.43,154.20 L401.43,154.22 L402.44,154.23 L403.44,154.25 L404.44,154.27 L405.44,154.29 L406.44,154.31 L407.45,154.32 L408.45,154.34 L409.45,154.36 L410.45,154.38 L411.46,154.40 L412.46,154.42 L413.46,154.44 L414.46,154.46 L415.46,154.48 L416.46,154.49 L417.47,154.51 L418.47,154.53 L419.47,154.56 L420.47,154.58 L421.47,154.60 L422.47,154.62 L423.48,154.64 L424.48,154.66 L425.48,154.68 L426.48,154.70 L427.48,154.73 L428.48,154.75 L429.48,154.77 L430.49,154.79 L431.49,154.82 L432.49,154.84 L433.49,154.86 L434.49,154.89 L435.49,154.91 L436.49,154.93 L437.49,154.96 L438.49,154.98 L439.49,155.01 L440.50,155.03 L441.50,155.06 L442.50,155.09 L443.50,155.11 L444.50,155.14 L445.50,155.16 L446.50,155.19 L447.50,155.22 L448.50,155.25 L449.50,155.27 L450.50,155.30 L451.50,155.33 L452.50,155.36 L453.50,155.39 L454.50,155.42 L455.50,155.45 L456.50,155.48 L457.50,155.51 L458.50,155.54 L459.50,155.57 L460.50,155.60 L461.50,155.63 L462.50,155.67 L463.50,155.70 L464.50,155.73 L465.50,155.77 L466.50,155.80" fill="none" stroke="#000" stroke-width="2.20" stroke-linejoin="round" stroke-linecap="butt" stroke-dasharray="1.8 2.2"/>
<path d="M60.49,25.98 L60.54,27.06 L60.61,28.14 L60.68,29.21 L60.77,30.27 L60.88,31.33 L60.99,32.38 L61.12,33.43 L61.26,34.47 L61.42,35.50 L61.58,36.53 L61.76,37.55 L61.95,38.57 L62.16,39.58 L62.37,40.58 L62.60,41.58 L62.84,42.58 L63.09,43.56 L63.35,44.55 L63.62,45.52 L63.91,46.49 L64.20,47.46 L64.51,48.41 L64.83,49.37 L65.15,50.31 L65.49,51.25 L65.84,52.19 L66.21,53.11 L66.58,54.04 L66.96,54.95 L67.35,55.86 L67.75,56.77 L68.16,57.67 L68.59,58.56 L69.02,59.44 L69.46,60.33 L69.91,61.20 L70.37,62.07 L70.84,62.93 L71.32,63.79 L71.81,64.64 L72.31,65.48 L72.82,66.32 L73.33,67.15 L73.86,67.98 L74.39,68.80 L74.94,69.61 L75.49,70.42 L76.05,71.22 L76.62,72.02 L77.19,72.81 L77.78,73.59 L78.37,74.37 L78.97,75.14 L79.58,75.91 L80.19,76.67 L80.81,77.42 L81.45,78.17 L82.08,78.91 L82.73,79.64 L83.38,80.37 L84.04,81.09 L84.71,81.81 L85.38,82.52 L86.06,83.22 L86.75,83.92 L87.44,84.61 L88.14,85.30 L88.85,85.98 L89.56,86.65 L90.28,87.31 L91.01,87.97 L91.74,88.63 L92.47,89.28 L93.22,89.92 L93.97,90.55 L94.72,91.18 L95.48,91.81 L96.24,92.42 L97.01,93.03 L97.79,93.64 L98.57,94.23 L99.35,94.83 L100.14,95.41 L100.94,95.99 L101.73,96.56 L102.54,97.13 L103.35,97.69 L104.16,98.24 L104.97,98.79 L105.79,99.33 L106.62,99.86 L107.45,100.39 L108.28,100.91 L109.11,101.43 L109.95,101.94 L110.80,102.44 L111.64,102.94 L112.49,103.43 L113.35,103.91 L114.20,104.39 L115.06,104.86 L115.92,105.32 L116.79,105.78 L117.66,106.24 L118.53,106.68 L119.41,107.12 L120.28,107.56 L121.17,107.99 L122.05,108.41 L122.94,108.83 L123.83,109.24 L124.72,109.65 L125.62,110.05 L126.52,110.44 L127.42,110.83 L128.32,111.22 L129.23,111.60 L130.14,111.97 L131.05,112.34 L131.97,112.70 L132.88,113.06 L133.80,113.41 L134.73,113.76 L135.65,114.10 L136.58,114.44 L137.51,114.77 L138.44,115.10 L139.38,115.42 L140.32,115.74 L141.26,116.05 L142.20,116.36 L143.14,116.66 L144.09,116.96 L145.04,117.25 L145.99,117.54 L146.94,117.83 L147.90,118.11 L148.86,118.38 L149.82,118.65 L150.78,118.92 L151.74,119.18 L152.71,119.44 L153.67,119.70 L154.64,119.95 L155.61,120.19 L156.58,120.44 L157.56,120.67 L158.54,120.91 L159.51,121.14 L160.49,121.37 L161.47,121.59 L162.46,121.81 L163.44,122.02 L164.43,122.23 L165.41,122.44 L166.40,122.65 L167.39,122.85 L168.38,123.05 L169.38,123.24 L170.37,123.43 L171.37,123.62 L172.36,123.80 L173.36,123.98 L174.36,124.16 L175.36,124.33 L176.36,124.51 L177.37,124.67 L178.37,124.84 L179.38,125.00 L180.38,125.16 L181.39,125.32 L182.40,125.47 L183.41,125.62 L184.42,125.77 L185.43,125.92 L186.44,126.06 L187.45,126.20 L188.46,126.34 L189.48,126.47 L190.49,126.61 L191.51,126.74 L192.52,126.86 L193.54,126.99 L194.55,127.11 L195.57,127.24 L196.59,127.35 L197.61,127.47 L198.63,127.59 L199.65,127.70 L200.67,127.81 L201.69,127.92 L202.71,128.03 L203.73,128.13 L204.75,128.24 L205.77,128.34 L206.79,128.44 L207.81,128.54 L208.83,128.64 L209.85,128.73 L210.87,128.83 L211.89,128.92 L212.92,129.01 L213.94,129.10 L214.96,129.19 L215.98,129.28 L217.00,129.37 L218.02,129.45 L219.04,129.54 L220.06,129.62 L221.08,129.70 L222.10,129.78 L223.12,129.86 L224.14,129.94 L225.16,130.02 L226.18,130.10 L227.19,130.18 L228.21,130.25 L229.23,130.33 L230.24,130.40 L231.26,130.48 L232.27,130.55 L233.29,130.63 L234.30,130.70 L235.31,130.77 L236.33,130.84 L237.34,130.92 L238.35,130.99 L239.36,131.06 L240.37,131.13 L241.38,131.20 L242.39,131.27 L243.39,131.34 L244.40,131.41 L245.41,131.47 L246.42,131.54 L247.42,131.61 L248.43,131.67 L249.43,131.74 L250.44,131.81 L251.44,131.87 L252.45,131.94 L253.45,132.00 L254.45,132.06 L255.45,132.13 L256.45,132.19 L257.46,132.25 L258.46,132.31 L259.46,132.38 L260.46,132.44 L261.46,132.50 L262.45,132.56 L263.45,132.62 L264.45,132.68 L265.45,132.74 L266.45,132.79 L267.44,132.85 L268.44,132.91 L269.43,132.97 L270.43,133.03 L271.43,133.08 L272.42,133.14 L273.41,133.19 L274.41,133.25 L275.40,133.30 L276.40,133.36 L277.39,133.41 L278.38,133.47 L279.37,133.52 L280.37,133.57 L281.36,133.63 L282.35,133.68 L283.34,133.73 L284.33,133.78 L285.32,133.84 L286.31,133.89 L287.30,133.94 L288.29,133.99 L289.28,134.04 L290.27,134.09 L291.26,134.14 L292.25,134.19 L293.23,134.24 L294.22,134.28 L295.21,134.33 L296.20,134.38 L297.18,134.43 L298.17,134.47 L299.16,134.52 L300.14,134.57 L301.13,134.61 L302.12,134.66 L303.10,134.71 L304.09,134.75 L305.07,134.80 L306.06,134.84 L307.04,134.89 L308.03,134.93 L309.01,134.98 L310.00,135.02 L310.98,135.06 L311.97,135.11 L312.95,135.15 L313.94,135.19 L314.92,135.23 L315.90,135.28 L316.89,135.32 L317.87,135.36 L318.85,135.40 L319.84,135.44 L320.82,135.48 L321.80,135.52 L322.79,135.57 L323.77,135.61 L324.75,135.65 L325.74,135.69 L326.72,135.73 L327.70,135.76 L328.68,135.80 L329.67,135.84 L330.65,135.88 L331.63,135.92 L332.62,135.96 L333.60,136.00 L334.58,136.04 L335.56,136.07 L336.55,136.11 L337.53,136.15 L338.51,136.19 L339.49,136.22 L340.48,136.26 L341.46,136.30 L342.44,136.33 L343.42,136.37 L344.41,136.41 L345.39,136.44 L346.37,136.48 L347.36,136.51 L348.34,136.55 L349.32,136.59 L350.31,136.62 L351.29,136.66 L352.27,136.69 L353.26,136.73 L354.24,136.76 L355.22,136.80 L356.21,136.83 L357.19,136.87 L358.18,136.90 L359.16,136.93 L360.14,136.97 L361.13,137.00 L362.11,137.04 L363.10,137.07 L364.08,137.10 L365.07,137.14 L366.05,137.17 L367.04,137.20 L368.03,137.24 L369.01,137.27 L370.00,137.30 L370.98,137.34 L371.97,137.37 L372.96,137.40 L373.94,137.44 L374.93,137.47 L375.92,137.50 L376.91,137.54 L377.89,137.57 L378.88,137.60 L379.87,137.63 L380.86,137.67 L381.85,137.70 L382.84,137.73 L383.83,137.76 L384.82,137.80 L385.81,137.83 L386.80,137.86 L387.79,137.89 L388.78,137.93 L389.77,137.96 L390.76,137.99 L391.76,138.02 L392.75,138.05 L393.74,138.09 L394.73,138.12 L395.73,138.15 L396.72,138.18 L397.72,138.22 L398.71,138.25 L399.70,138.28 L400.70,138.31 L401.70,138.34 L402.69,138.38 L403.69,138.41 L404.69,138.44 L405.68,138.47 L406.68,138.51 L407.68,138.54 L408.68,138.57 L409.68,138.60 L410.68,138.64 L411.68,138.67 L412.68,138.70 L413.68,138.74 L414.68,138.77 L415.68,138.80 L416.68,138.83 L417.68,138.87 L418.69,138.90 L419.69,138.93 L420.70,138.97 L421.70,139.00 L422.71,139.03 L423.71,139.07 L424.72,139.10 L425.73,139.14 L426.73,139.17 L427.74,139.20 L428.75,139.24 L429.76,139.27 L430.77,139.31 L431.78,139.34 L432.79,139.38 L433.80,139.41 L434.81,139.44 L435.82,139.48 L436.84,139.51 L437.85,139.55 L438.86,139.59 L439.88,139.62 L440.90,139.66 L441.91,139.69 L442.93,139.73 L443.95,139.76 L444.96,139.80 L445.98,139.84 L447.00,139.87 L448.02,139.91 L449.04,139.95 L450.06,139.98 L451.09,140.02 L452.11,140.06 L453.13,140.10 L454.16,140.13 L455.18,140.17 L456.21,140.21 L457.23,140.25 L458.26,140.29 L459.29,140.32 L460.31,140.36 L461.34,140.40 L462.37,140.44 L463.40,140.48 L464.44,140.52 L465.47,140.56 L466.50,140.60" fill="none" stroke="#000" stroke-width="2.50" stroke-linejoin="round" stroke-linecap="butt" stroke-dasharray="9 3.3 7.3 3.5 7.3 3.5 7.3 3.5 7.3 3.5 7.3 3.5 7.3 3.5 7.3 3.5 7.3 3.5 7.3 3.5"/>
<path d="M60.40,76.00 L60.37,77.00 L60.37,78.01 L60.40,79.02 L60.45,80.03 L60.53,81.04 L60.65,82.05 L60.79,83.05 L60.97,84.05 L61.17,85.04 L61.42,86.02 L61.69,86.99 L62.00,87.95 L62.35,88.89 L62.73,89.81 L63.15,90.71 L63.60,91.60 L64.10,92.46 L64.63,93.30 L65.21,94.11 L65.82,94.89 L66.46,95.64 L67.14,96.36 L67.85,97.05 L68.59,97.71 L69.36,98.32 L70.16,98.90 L70.98,99.44 L71.84,99.94 L72.71,100.40 L73.60,100.84 L74.51,101.24 L75.44,101.62 L76.38,101.98 L77.32,102.33 L78.28,102.66 L79.24,102.98 L80.20,103.29 L81.17,103.61 L82.13,103.92 L83.09,104.24 L84.05,104.56 L85.00,104.88 L85.95,105.21 L86.89,105.54 L87.84,105.87 L88.78,106.20 L89.72,106.54 L90.66,106.87 L91.60,107.21 L92.54,107.55 L93.48,107.88 L94.42,108.22 L95.36,108.56 L96.30,108.90 L97.24,109.23 L98.19,109.57 L99.13,109.90 L100.07,110.24 L101.02,110.57 L101.96,110.91 L102.91,111.24 L103.85,111.58 L104.80,111.91 L105.75,112.25 L106.70,112.58 L107.64,112.91 L108.59,113.25 L109.54,113.58 L110.49,113.91 L111.44,114.25 L112.38,114.58 L113.33,114.91 L114.28,115.25 L115.23,115.58 L116.18,115.91 L117.13,116.25 L118.08,116.58 L119.03,116.92 L119.97,117.25 L120.92,117.59 L121.87,117.92 L122.82,118.26 L123.76,118.59 L124.71,118.93 L125.65,119.26 L126.60,119.60 L127.55,119.94 L128.49,120.27 L129.44,120.61 L130.38,120.95 L131.32,121.29 L132.27,121.62 L133.21,121.96 L134.16,122.30 L135.10,122.64 L136.04,122.98 L136.98,123.32 L137.93,123.65 L138.87,123.99 L139.81,124.33 L140.75,124.67 L141.69,125.01 L142.64,125.35 L143.58,125.69 L144.52,126.03 L145.46,126.37 L146.40,126.71 L147.34,127.05 L148.28,127.39 L149.22,127.73 L150.16,128.07 L151.10,128.41 L152.04,128.75 L152.98,129.10 L153.92,129.44 L154.86,129.78 L155.80,130.12 L156.74,130.46 L157.68,130.80 L158.62,131.14 L159.56,131.48 L160.50,131.82 L161.44,132.16 L162.38,132.50 L163.32,132.84 L164.26,133.18 L165.20,133.52 L166.13,133.86 L167.07,134.20 L168.01,134.54 L168.95,134.88 L169.89,135.22 L170.83,135.56 L171.77,135.90 L172.71,136.24 L173.65,136.58 L174.59,136.92 L175.53,137.26 L176.47,137.60 L177.41,137.93 L178.35,138.27 L179.29,138.61 L180.23,138.95 L181.17,139.29 L182.11,139.62 L183.06,139.96 L184.00,140.30 L184.94,140.63 L185.88,140.97 L186.82,141.31 L187.76,141.64 L188.71,141.98 L189.65,142.31 L190.59,142.65 L191.53,142.98 L192.48,143.31 L193.42,143.65 L194.36,143.98 L195.31,144.32 L196.25,144.65 L197.20,144.98 L198.14,145.31 L199.09,145.64 L200.03,145.98 L200.98,146.31 L201.92,146.64 L202.87,146.97 L203.82,147.30 L204.77,147.62 L205.71,147.95 L206.66,148.28 L207.61,148.61 L208.56,148.94 L209.51,149.26 L210.46,149.59 L211.41,149.92 L212.36,150.24 L213.31,150.56 L214.26,150.89 L215.21,151.21 L216.16,151.54 L217.11,151.86 L218.07,152.18 L219.02,152.50 L219.97,152.82 L220.93,153.14 L221.88,153.46 L222.84,153.78 L223.79,154.10 L224.75,154.42 L225.71,154.73 L226.66,155.05 L227.62,155.37 L228.58,155.68 L229.54,156.00 L230.50,156.31 L231.46,156.62 L232.42,156.94 L233.38,157.25 L234.34,157.56 L235.31,157.87 L236.27,158.18 L237.23,158.49 L238.20,158.79 L239.16,159.10 L240.13,159.40 L241.09,159.70 L242.06,160.00 L243.03,160.29 L244.00,160.58 L244.96,160.87 L245.93,161.15 L246.90,161.43 L247.87,161.70 L248.84,161.96 L249.81,162.23 L250.78,162.48 L251.75,162.73 L252.72,162.97 L253.69,163.20 L254.66,163.43 L255.63,163.64 L256.61,163.85 L257.58,164.05 L258.55,164.25 L259.52,164.44 L260.50,164.63 L261.47,164.81 L262.44,164.98 L263.41,165.16 L264.39,165.33 L265.36,165.50 L266.33,165.67 L267.31,165.83 L268.28,166.00 L269.25,166.17 L270.22,166.34 L271.20,166.52 L272.17,166.70 L273.14,166.88 L274.11,167.06 L275.09,167.25 L276.06,167.45 L277.03,167.65 L278.00,167.86 L278.98,168.08 L279.95,168.31 L280.92,168.54 L281.89,168.79 L282.86,169.04 L283.83,169.30 L284.80,169.57 L285.77,169.84 L286.74,170.12 L287.71,170.41 L288.68,170.70 L289.64,171.00 L290.61,171.30 L291.58,171.60 L292.54,171.91 L293.51,172.22 L294.48,172.53 L295.44,172.84 L296.41,173.15 L297.37,173.47 L298.33,173.79 L299.30,174.10 L300.26,174.41 L301.22,174.73 L302.18,175.04 L303.14,175.35 L304.10,175.66 L305.06,175.96 L306.02,176.26 L306.98,176.56 L307.94,176.86 L308.90,177.16 L309.86,177.45 L310.81,177.74 L311.77,178.03 L312.73,178.31 L313.69,178.60 L314.65,178.87 L315.61,179.15 L316.57,179.42 L317.53,179.69 L318.49,179.95 L319.46,180.21 L320.42,180.47 L321.39,180.72 L322.35,180.97 L323.32,181.21 L324.28,181.45 L325.25,181.68 L326.22,181.91 L327.20,182.13 L328.17,182.35 L329.14,182.57 L330.12,182.78 L331.10,182.98 L332.08,183.18 L333.06,183.37 L334.04,183.56 L335.02,183.74 L336.01,183.91 L337.00,184.08 L337.99,184.25 L338.99,184.40 L339.98,184.55 L340.98,184.70 L341.98,184.83 L342.98,184.96 L343.99,185.08 L345.00,185.20 L345.99,185.02 L346.99,184.85 L347.98,184.68 L348.98,184.51 L349.97,184.35 L350.97,184.19 L351.97,184.03 L352.96,183.87 L353.96,183.71 L354.96,183.56 L355.95,183.41 L356.95,183.27 L357.95,183.12 L358.95,182.98 L359.94,182.84 L360.94,182.70 L361.94,182.57 L362.94,182.44 L363.94,182.31 L364.94,182.18 L365.94,182.05 L366.94,181.93 L367.94,181.81 L368.94,181.69 L369.94,181.57 L370.94,181.46 L371.94,181.35 L372.94,181.24 L373.94,181.13 L374.94,181.02 L375.95,180.92 L376.95,180.82 L377.95,180.72 L378.95,180.62 L379.95,180.52 L380.96,180.43 L381.96,180.34 L382.96,180.24 L383.97,180.16 L384.97,180.07 L385.97,179.98 L386.98,179.90 L387.98,179.82 L388.98,179.74 L389.99,179.66 L390.99,179.58 L392.00,179.51 L393.00,179.43 L394.01,179.36 L395.01,179.29 L396.02,179.22 L397.02,179.15 L398.03,179.09 L399.03,179.02 L400.04,178.96 L401.04,178.90 L402.05,178.83 L403.05,178.77 L404.06,178.72 L405.07,178.66 L406.07,178.60 L407.08,178.55 L408.08,178.50 L409.09,178.44 L410.10,178.39 L411.10,178.34 L412.11,178.29 L413.12,178.24 L414.12,178.20 L415.13,178.15 L416.14,178.11 L417.14,178.06 L418.15,178.02 L419.16,177.98 L420.17,177.94 L421.17,177.90 L422.18,177.86 L423.19,177.82 L424.20,177.78 L425.20,177.74 L426.21,177.70 L427.22,177.67 L428.23,177.63 L429.23,177.60 L430.24,177.56 L431.25,177.53 L432.26,177.50 L433.26,177.46 L434.27,177.43 L435.28,177.40 L436.29,177.37 L437.29,177.34 L438.30,177.31 L439.31,177.28 L440.32,177.25 L441.32,177.22 L442.33,177.19 L443.34,177.16 L444.35,177.13 L445.35,177.10 L446.36,177.07 L447.37,177.04 L448.38,177.02 L449.38,176.99 L450.39,176.96 L451.40,176.93 L452.41,176.90 L453.41,176.88 L454.42,176.85 L455.43,176.82 L456.43,176.79 L457.44,176.76 L458.45,176.74 L459.45,176.71 L460.46,176.68 L461.47,176.65 L462.47,176.62 L463.48,176.59 L464.49,176.56 L465.49,176.53 L466.50,176.50" fill="none" stroke="#008000" stroke-width="2.20" stroke-linejoin="round" stroke-linecap="round"/>
<path d="M60.50,274.30 L62.00,272.60 L62.35,271.64 L62.70,270.69 L63.04,269.73 L63.38,268.77 L63.71,267.82 L64.04,266.86 L64.37,265.91 L64.69,264.95 L65.01,264.00 L65.33,263.04 L65.65,262.09 L65.96,261.14 L66.27,260.18 L66.58,259.23 L66.88,258.28 L67.18,257.33 L67.48,256.38 L67.78,255.43 L68.08,254.48 L68.38,253.53 L68.67,252.58 L68.96,251.63 L69.25,250.68 L69.54,249.73 L69.83,248.78 L70.12,247.83 L70.41,246.88 L70.69,245.94 L70.98,244.99 L71.27,244.04 L71.55,243.10 L71.84,242.15 L72.12,241.21 L72.41,240.26 L72.70,239.31 L72.98,238.37 L73.27,237.43 L73.56,236.48 L73.85,235.54 L74.14,234.59 L74.43,233.65 L74.72,232.71 L75.01,231.76 L75.31,230.82 L75.61,229.88 L75.90,228.94 L76.20,228.00 L76.51,227.05 L76.81,226.11 L77.12,225.17 L77.43,224.23 L77.74,223.29 L78.05,222.35 L78.37,221.41 L78.69,220.47 L79.01,219.53 L79.34,218.59 L79.67,217.65 L80.00,216.71 L80.34,215.78 L80.68,214.84 L81.02,213.90 L81.37,212.96 L81.72,212.02 L82.08,211.08 L82.44,210.15 L82.80,209.21 L83.17,208.27 L83.55,207.34 L83.93,206.40 L84.31,205.46 L84.70,204.53 L85.10,203.59 L85.50,202.65 L85.91,201.72 L86.32,200.78 L86.73,199.85 L87.16,198.91 L87.59,197.97 L88.02,197.04 L88.46,196.11 L88.91,195.18 L89.36,194.25 L89.82,193.32 L90.29,192.40 L90.76,191.48 L91.23,190.56 L91.72,189.64 L92.21,188.73 L92.70,187.83 L93.20,186.93 L93.71,186.03 L94.22,185.14 L94.74,184.26 L95.26,183.38 L95.79,182.51 L96.32,181.64 L96.87,180.78 L97.41,179.93 L97.97,179.09 L98.53,178.26 L99.09,177.43 L99.66,176.62 L100.24,175.81 L100.82,175.01 L101.42,174.22 L102.02,173.45 L102.63,172.68 L103.25,171.92 L103.87,171.18 L104.51,170.45 L105.16,169.73 L105.82,169.02 L106.49,168.32 L107.17,167.64 L107.86,166.97 L108.57,166.32 L109.29,165.68 L110.03,165.05 L110.77,164.44 L111.54,163.84 L112.32,163.26 L113.11,162.70 L113.92,162.15 L114.74,161.62 L115.58,161.10 L116.44,160.61 L117.31,160.12 L118.19,159.66 L119.08,159.21 L119.98,158.78 L120.90,158.37 L121.82,157.97 L122.76,157.60 L123.70,157.24 L124.65,156.89 L125.61,156.57 L126.57,156.26 L127.54,155.98 L128.51,155.71 L129.49,155.46 L130.48,155.22 L131.46,155.01 L132.45,154.82 L133.44,154.64 L134.43,154.49 L135.43,154.35 L136.42,154.24 L137.41,154.14 L138.40,154.06 L139.39,154.00 L140.38,153.95 L141.37,153.93 L142.36,153.92 L143.35,153.93 L144.34,153.95 L145.33,153.99 L146.32,154.04 L147.31,154.11 L148.29,154.19 L149.28,154.29 L150.27,154.40 L151.25,154.52 L152.24,154.65 L153.22,154.80 L154.21,154.96 L155.19,155.13 L156.17,155.31 L157.15,155.50 L158.13,155.70 L159.11,155.92 L160.09,156.14 L161.07,156.36 L162.05,156.60 L163.02,156.85 L164.00,157.10 L164.97,157.36 L165.94,157.62 L166.91,157.90 L167.88,158.17 L168.85,158.46 L169.82,158.74 L170.79,159.04 L171.75,159.33 L172.72,159.63 L173.68,159.94 L174.64,160.24 L175.60,160.55 L176.56,160.87 L177.52,161.18 L178.47,161.50 L179.43,161.82 L180.38,162.15 L181.34,162.47 L182.29,162.80 L183.24,163.14 L184.19,163.47 L185.14,163.81 L186.08,164.15 L187.03,164.49 L187.97,164.83 L188.92,165.18 L189.86,165.53 L190.80,165.88 L191.75,166.24 L192.69,166.59 L193.63,166.95 L194.57,167.31 L195.50,167.67 L196.44,168.03 L197.38,168.40 L198.31,168.76 L199.25,169.13 L200.18,169.50 L201.12,169.87 L202.05,170.24 L202.98,170.61 L203.92,170.99 L204.85,171.36 L205.78,171.74 L206.71,172.12 L207.64,172.50 L208.57,172.88 L209.50,173.26 L210.43,173.64 L211.35,174.02 L212.28,174.41 L213.21,174.79 L214.14,175.17 L215.06,175.56 L215.99,175.94 L216.92,176.33 L217.84,176.72 L218.77,177.10 L219.69,177.49 L220.62,177.88 L221.55,178.26 L222.47,178.65 L223.40,179.04 L224.32,179.42 L225.25,179.81 L226.17,180.19 L227.10,180.58 L228.02,180.97 L228.95,181.35 L229.87,181.73 L230.80,182.12 L231.72,182.50 L232.65,182.88 L233.58,183.27 L234.50,183.65 L235.43,184.03 L236.36,184.41 L237.28,184.79 L238.21,185.16 L239.14,185.54 L240.07,185.91 L240.99,186.29 L241.92,186.66 L242.85,187.03 L243.78,187.40 L244.71,187.77 L245.64,188.14 L246.57,188.50 L247.50,188.86 L248.44,189.23 L249.37,189.59 L250.30,189.94 L251.24,190.30 L252.17,190.65 L253.11,191.01 L254.04,191.36 L254.98,191.70 L255.92,192.05 L256.85,192.39 L257.79,192.73 L258.73,193.07 L259.67,193.41 L260.61,193.74 L261.56,194.07 L262.50,194.40 L263.40,193.89 L264.31,193.40 L265.23,192.92 L266.14,192.46 L267.06,192.01 L267.98,191.58 L268.90,191.16 L269.83,190.75 L270.76,190.36 L271.69,189.98 L272.62,189.61 L273.55,189.25 L274.49,188.91 L275.43,188.57 L276.37,188.25 L277.31,187.94 L278.26,187.65 L279.20,187.36 L280.15,187.08 L281.10,186.82 L282.05,186.56 L283.00,186.31 L283.96,186.08 L284.92,185.85 L285.88,185.63 L286.84,185.43 L287.80,185.23 L288.76,185.03 L289.73,184.85 L290.69,184.68 L291.66,184.51 L292.63,184.35 L293.60,184.20 L294.57,184.05 L295.55,183.91 L296.52,183.78 L297.50,183.66 L298.48,183.54 L299.45,183.42 L300.43,183.31 L301.41,183.21 L302.40,183.11 L303.38,183.02 L304.36,182.93 L305.35,182.85 L306.33,182.77 L307.32,182.70 L308.31,182.63 L309.30,182.56 L310.28,182.49 L311.27,182.43 L312.26,182.37 L313.26,182.32 L314.25,182.26 L315.24,182.21 L316.23,182.16 L317.23,182.11 L318.22,182.07 L319.22,182.02 L320.21,181.97 L321.21,181.93 L322.20,181.89 L323.20,181.84 L324.20,181.80 L325.19,181.75 L326.19,181.71 L327.19,181.67 L328.19,181.63 L329.18,181.58 L330.18,181.54 L331.18,181.50 L332.18,181.46 L333.18,181.42 L334.18,181.38 L335.18,181.34 L336.18,181.30 L337.18,181.26 L338.18,181.22 L339.18,181.18 L340.18,181.14 L341.19,181.10 L342.19,181.06 L343.19,181.02 L344.19,180.98 L345.19,180.95 L346.20,180.91 L347.20,180.87 L348.20,180.83 L349.21,180.80 L350.21,180.76 L351.22,180.72 L352.22,180.69 L353.22,180.65 L354.23,180.61 L355.23,180.58 L356.24,180.54 L357.24,180.50 L358.25,180.47 L359.25,180.43 L360.26,180.40 L361.26,180.36 L362.27,180.33 L363.28,180.29 L364.28,180.26 L365.29,180.22 L366.29,180.19 L367.30,180.15 L368.31,180.12 L369.31,180.08 L370.32,180.05 L371.33,180.02 L372.33,179.98 L373.34,179.95 L374.35,179.91 L375.35,179.88 L376.36,179.85 L377.37,179.81 L378.37,179.78 L379.38,179.74 L380.39,179.71 L381.40,179.68 L382.40,179.64 L383.41,179.61 L384.42,179.58 L385.42,179.54 L386.43,179.51 L387.44,179.48 L388.45,179.44 L389.45,179.41 L390.46,179.38 L391.47,179.34 L392.47,179.31 L393.48,179.28 L394.49,179.24 L395.50,179.21 L396.50,179.18 L397.51,179.14 L398.52,179.11 L399.52,179.08 L400.53,179.04 L401.54,179.01 L402.54,178.97 L403.55,178.94 L404.56,178.91 L405.56,178.87 L406.57,178.84 L407.57,178.81 L408.58,178.77 L409.58,178.74 L410.59,178.70 L411.60,178.67 L412.60,178.63 L413.61,178.60 L414.61,178.57 L415.61,178.53 L416.62,178.50 L417.62,178.46 L418.63,178.43 L419.63,178.39 L420.64,178.35 L421.64,178.32 L422.64,178.28 L423.65,178.25 L424.65,178.21 L425.65,178.18 L426.65,178.14 L427.66,178.10 L428.66,178.07 L429.66,178.03 L430.66,177.99 L431.66,177.95 L432.66,177.92 L433.66,177.88 L434.66,177.84 L435.66,177.80 L436.66,177.77 L437.66,177.73 L438.66,177.69 L439.66,177.65 L440.66,177.61 L441.66,177.57 L442.66,177.53 L443.66,177.49 L444.65,177.45 L445.65,177.41 L446.65,177.37 L447.64,177.33 L448.64,177.29 L449.63,177.25 L450.63,177.21 L451.62,177.16 L452.62,177.12 L453.61,177.08 L454.61,177.04 L455.60,176.99 L456.59,176.95 L457.59,176.91 L458.58,176.86 L459.57,176.82 L460.56,176.77 L461.55,176.73 L462.54,176.68 L463.53,176.64 L464.52,176.59 L465.51,176.55 L466.50,176.50" fill="none" stroke="#7030A0" stroke-width="2.20" stroke-linejoin="round" stroke-linecap="round"/>
<path d="M60.30,167.60 L62.70,174.00 L63.44,173.40 L64.17,172.79 L64.91,172.17 L65.66,171.55 L66.41,170.92 L67.16,170.29 L67.91,169.66 L68.67,169.02 L69.44,168.38 L70.21,167.74 L70.98,167.10 L71.76,166.45 L72.54,165.81 L73.32,165.17 L74.11,164.53 L74.91,163.89 L75.71,163.26 L76.51,162.62 L77.32,162.00 L78.14,161.37 L78.96,160.75 L79.78,160.14 L80.61,159.53 L81.44,158.93 L82.28,158.34 L83.13,157.75 L83.98,157.17 L84.83,156.60 L85.69,156.05 L86.56,155.50 L87.43,154.96 L88.30,154.43 L89.18,153.92 L90.07,153.42 L90.96,152.93 L91.85,152.46 L92.75,152.00 L93.65,151.55 L94.56,151.12 L95.47,150.71 L96.39,150.31 L97.31,149.93 L98.24,149.57 L99.17,149.23 L100.11,148.90 L101.05,148.60 L101.99,148.31 L102.94,148.04 L103.89,147.78 L104.84,147.54 L105.80,147.32 L106.76,147.12 L107.72,146.93 L108.69,146.76 L109.66,146.60 L110.63,146.46 L111.60,146.33 L112.57,146.21 L113.55,146.12 L114.53,146.03 L115.51,145.96 L116.49,145.90 L117.47,145.86 L118.45,145.82 L119.44,145.80 L120.42,145.80 L121.41,145.80 L122.39,145.82 L123.38,145.84 L124.36,145.88 L125.35,145.93 L126.33,145.99 L127.32,146.06 L128.30,146.14 L129.29,146.23 L130.27,146.33 L131.26,146.44 L132.24,146.56 L133.23,146.68 L134.22,146.81 L135.20,146.96 L136.19,147.11 L137.17,147.26 L138.16,147.43 L139.15,147.60 L140.13,147.77 L141.12,147.96 L142.10,148.15 L143.09,148.34 L144.08,148.54 L145.06,148.74 L146.05,148.95 L147.03,149.17 L148.02,149.39 L149.00,149.61 L149.99,149.84 L150.97,150.06 L151.96,150.30 L152.94,150.53 L153.93,150.77 L154.91,151.01 L155.90,151.25 L156.88,151.49 L157.87,151.74 L158.85,151.98 L159.84,152.23 L160.82,152.48 L161.80,152.73 L162.79,152.97 L163.77,153.22 L164.75,153.47 L165.73,153.72 L166.72,153.97 L167.70,154.22 L168.68,154.47 L169.66,154.72 L170.64,154.97 L171.63,155.22 L172.61,155.47 L173.59,155.72 L174.57,155.97 L175.55,156.23 L176.53,156.48 L177.51,156.73 L178.49,156.98 L179.47,157.23 L180.45,157.49 L181.43,157.74 L182.41,157.99 L183.39,158.24 L184.37,158.49 L185.35,158.75 L186.33,159.00 L187.31,159.25 L188.29,159.50 L189.27,159.75 L190.25,160.00 L191.23,160.25 L192.21,160.51 L193.19,160.76 L194.16,161.01 L195.14,161.26 L196.12,161.51 L197.10,161.76 L198.08,162.01 L199.06,162.25 L200.03,162.50 L201.01,162.75 L201.99,163.00 L202.97,163.25 L203.95,163.49 L204.92,163.74 L205.90,163.98 L206.88,164.23 L207.86,164.47 L208.84,164.72 L209.81,164.96 L210.79,165.21 L211.77,165.45 L212.75,165.69 L213.72,165.93 L214.70,166.17 L215.68,166.41 L216.66,166.65 L217.64,166.89 L218.61,167.12 L219.59,167.36 L220.57,167.60 L221.55,167.83 L222.52,168.06 L223.50,168.30 L224.48,168.53 L225.46,168.76 L226.43,168.99 L227.41,169.22 L228.39,169.45 L229.37,169.67 L230.35,169.90 L231.32,170.12 L232.30,170.35 L233.28,170.57 L234.26,170.79 L235.24,171.01 L236.21,171.23 L237.19,171.45 L238.17,171.67 L239.15,171.88 L240.13,172.10 L241.11,172.31 L242.08,172.52 L243.06,172.73 L244.04,172.94 L245.02,173.15 L246.00,173.35 L246.98,173.56 L247.96,173.76 L248.94,173.97 L249.92,174.17 L250.90,174.36 L251.88,174.56 L252.86,174.76 L253.84,174.95 L254.82,175.14 L255.80,175.34 L256.78,175.53 L257.76,175.71 L258.74,175.90 L259.72,176.08 L260.70,176.27 L261.68,176.45 L262.66,176.63 L263.64,176.80 L264.62,176.98 L265.61,177.15 L266.59,177.33 L267.57,177.50 L268.55,177.66 L269.53,177.83 L270.52,177.99 L271.50,178.16 L272.48,178.32 L273.47,178.48 L274.45,178.63 L275.43,178.79 L276.42,178.94 L277.40,179.09 L278.39,179.24 L279.37,179.38 L280.35,179.53 L281.34,179.67 L282.32,179.81 L283.31,179.95 L284.30,180.08 L285.28,180.21 L286.27,180.35 L287.25,180.48 L288.24,180.61 L289.23,180.73 L290.21,180.86 L291.20,180.98 L292.19,181.11 L293.18,181.23 L294.16,181.35 L295.15,181.47 L296.14,181.59 L297.13,181.71 L298.12,181.83 L299.11,181.94 L300.10,182.06 L301.09,182.17 L302.08,182.29 L303.07,182.40 L304.06,182.52 L305.05,182.63 L306.04,182.75 L307.04,182.86 L308.03,182.97 L309.02,183.09 L310.01,183.20 L311.01,183.32 L312.00,183.43 L312.99,183.55 L313.99,183.66 L314.98,183.78 L315.98,183.90 L316.97,184.01 L317.97,184.13 L318.96,184.25 L319.96,184.37 L320.96,184.49 L321.95,184.62 L322.95,184.74 L323.95,184.86 L324.95,184.99 L325.95,185.12 L326.94,185.25 L327.94,185.38 L328.94,185.51 L329.94,185.65 L330.94,185.78 L331.95,185.92 L332.95,186.06 L333.95,186.20 L334.95,186.35 L335.95,186.49 L336.96,186.64 L337.96,186.79 L338.96,186.95 L339.97,187.10 L340.97,187.26 L341.98,187.42 L342.98,187.59 L343.99,187.76 L344.99,187.93 L346.00,188.10 L347.00,188.00 L348.00,187.90 L349.00,187.81 L350.01,187.71 L351.01,187.61 L352.01,187.52 L353.01,187.42 L354.01,187.33 L355.02,187.24 L356.02,187.15 L357.02,187.06 L358.02,186.97 L359.03,186.88 L360.03,186.79 L361.03,186.70 L362.03,186.61 L363.03,186.53 L364.04,186.44 L365.04,186.36 L366.04,186.27 L367.04,186.19 L368.05,186.11 L369.05,186.02 L370.05,185.94 L371.06,185.86 L372.06,185.78 L373.06,185.70 L374.07,185.63 L375.07,185.55 L376.07,185.47 L377.07,185.40 L378.08,185.32 L379.08,185.25 L380.08,185.17 L381.09,185.10 L382.09,185.03 L383.09,184.95 L384.10,184.88 L385.10,184.81 L386.10,184.74 L387.11,184.67 L388.11,184.60 L389.12,184.54 L390.12,184.47 L391.12,184.40 L392.13,184.34 L393.13,184.27 L394.14,184.21 L395.14,184.14 L396.14,184.08 L397.15,184.02 L398.15,183.96 L399.16,183.89 L400.16,183.83 L401.16,183.77 L402.17,183.71 L403.17,183.65 L404.18,183.60 L405.18,183.54 L406.19,183.48 L407.19,183.42 L408.19,183.37 L409.20,183.31 L410.20,183.26 L411.21,183.20 L412.21,183.15 L413.22,183.10 L414.22,183.04 L415.23,182.99 L416.23,182.94 L417.24,182.89 L418.24,182.84 L419.25,182.79 L420.25,182.74 L421.25,182.69 L422.26,182.64 L423.26,182.60 L424.27,182.55 L425.27,182.50 L426.28,182.46 L427.28,182.41 L428.29,182.37 L429.29,182.32 L430.30,182.28 L431.31,182.23 L432.31,182.19 L433.32,182.15 L434.32,182.11 L435.33,182.06 L436.33,182.02 L437.34,181.98 L438.34,181.94 L439.35,181.90 L440.35,181.86 L441.36,181.83 L442.36,181.79 L443.37,181.75 L444.37,181.71 L445.38,181.68 L446.39,181.64 L447.39,181.60 L448.40,181.57 L449.40,181.53 L450.41,181.50 L451.41,181.46 L452.42,181.43 L453.42,181.40 L454.43,181.36 L455.44,181.33 L456.44,181.30 L457.45,181.27 L458.45,181.24 L459.46,181.21 L460.46,181.18 L461.47,181.15 L462.48,181.12 L463.48,181.09 L464.49,181.06 L465.49,181.03 L466.50,181.00" fill="none" stroke="#FF0000" stroke-width="2.20" stroke-linejoin="round" stroke-linecap="round"/>
<path d="M60.30,158.20 L63.90,166.40 L64.74,166.00 L65.59,165.58 L66.45,165.14 L67.30,164.69 L68.16,164.23 L69.03,163.76 L69.90,163.28 L70.78,162.79 L71.66,162.30 L72.54,161.80 L73.42,161.29 L74.31,160.79 L75.21,160.28 L76.11,159.78 L77.01,159.28 L77.91,158.78 L78.82,158.29 L79.73,157.81 L80.65,157.33 L81.56,156.87 L82.48,156.42 L83.41,155.98 L84.33,155.55 L85.26,155.13 L86.19,154.73 L87.13,154.34 L88.06,153.96 L89.00,153.60 L89.94,153.25 L90.88,152.91 L91.83,152.58 L92.78,152.27 L93.72,151.97 L94.67,151.68 L95.63,151.41 L96.58,151.15 L97.53,150.90 L98.49,150.67 L99.45,150.45 L100.41,150.24 L101.37,150.05 L102.33,149.87 L103.29,149.70 L104.25,149.54 L105.22,149.40 L106.19,149.27 L107.15,149.15 L108.12,149.05 L109.09,148.95 L110.06,148.87 L111.03,148.80 L112.00,148.74 L112.98,148.69 L113.95,148.65 L114.93,148.63 L115.90,148.61 L116.88,148.61 L117.86,148.62 L118.84,148.63 L119.81,148.66 L120.79,148.70 L121.78,148.75 L122.76,148.81 L123.74,148.87 L124.72,148.95 L125.71,149.04 L126.69,149.13 L127.67,149.24 L128.66,149.35 L129.64,149.47 L130.63,149.59 L131.62,149.73 L132.61,149.87 L133.59,150.02 L134.58,150.18 L135.57,150.34 L136.56,150.51 L137.55,150.68 L138.54,150.86 L139.53,151.05 L140.52,151.24 L141.51,151.43 L142.50,151.63 L143.49,151.83 L144.48,152.04 L145.47,152.25 L146.46,152.47 L147.45,152.68 L148.44,152.90 L149.43,153.13 L150.43,153.35 L151.42,153.58 L152.41,153.81 L153.40,154.04 L154.39,154.27 L155.38,154.50 L156.37,154.74 L157.36,154.97 L158.35,155.20 L159.35,155.44 L160.34,155.67 L161.33,155.90 L162.32,156.13 L163.30,156.37 L164.29,156.60 L165.28,156.83 L166.27,157.06 L167.26,157.29 L168.25,157.51 L169.24,157.74 L170.22,157.97 L171.21,158.20 L172.20,158.42 L173.19,158.65 L174.17,158.87 L175.16,159.10 L176.15,159.32 L177.14,159.55 L178.12,159.77 L179.11,159.99 L180.09,160.21 L181.08,160.43 L182.07,160.65 L183.05,160.87 L184.04,161.09 L185.02,161.31 L186.01,161.52 L186.99,161.74 L187.98,161.96 L188.96,162.17 L189.95,162.39 L190.93,162.60 L191.91,162.81 L192.90,163.03 L193.88,163.24 L194.87,163.45 L195.85,163.66 L196.83,163.87 L197.82,164.08 L198.80,164.28 L199.78,164.49 L200.77,164.70 L201.75,164.90 L202.73,165.11 L203.72,165.31 L204.70,165.52 L205.68,165.72 L206.66,165.92 L207.65,166.12 L208.63,166.32 L209.61,166.52 L210.59,166.72 L211.58,166.92 L212.56,167.11 L213.54,167.31 L214.52,167.51 L215.51,167.70 L216.49,167.89 L217.47,168.09 L218.45,168.28 L219.43,168.47 L220.41,168.66 L221.40,168.85 L222.38,169.04 L223.36,169.23 L224.34,169.41 L225.32,169.60 L226.31,169.79 L227.29,169.97 L228.27,170.15 L229.25,170.34 L230.23,170.52 L231.21,170.70 L232.20,170.88 L233.18,171.06 L234.16,171.23 L235.14,171.41 L236.12,171.59 L237.10,171.76 L238.09,171.94 L239.07,172.11 L240.05,172.28 L241.03,172.45 L242.01,172.62 L243.00,172.79 L243.98,172.96 L244.96,173.13 L245.94,173.30 L246.92,173.46 L247.91,173.63 L248.89,173.79 L249.87,173.95 L250.85,174.11 L251.84,174.28 L252.82,174.43 L253.80,174.59 L254.78,174.75 L255.77,174.91 L256.75,175.06 L257.73,175.22 L258.71,175.37 L259.70,175.52 L260.68,175.67 L261.66,175.82 L262.65,175.97 L263.63,176.12 L264.62,176.27 L265.60,176.41 L266.58,176.56 L267.57,176.70 L268.55,176.85 L269.54,176.99 L270.52,177.13 L271.51,177.27 L272.49,177.41 L273.48,177.54 L274.46,177.68 L275.45,177.81 L276.43,177.95 L277.42,178.08 L278.40,178.21 L279.39,178.34 L280.37,178.47 L281.36,178.60 L282.35,178.73 L283.33,178.85 L284.32,178.98 L285.31,179.10 L286.29,179.22 L287.28,179.35 L288.27,179.47 L289.26,179.59 L290.24,179.71 L291.23,179.83 L292.22,179.94 L293.21,180.06 L294.20,180.18 L295.19,180.30 L296.18,180.41 L297.17,180.53 L298.16,180.64 L299.15,180.76 L300.14,180.87 L301.13,180.99 L302.12,181.10 L303.11,181.22 L304.10,181.33 L305.09,181.44 L306.08,181.56 L307.07,181.67 L308.07,181.78 L309.06,181.90 L310.05,182.01 L311.04,182.13 L312.04,182.24 L313.03,182.35 L314.02,182.47 L315.02,182.58 L316.01,182.70 L317.01,182.82 L318.00,182.93 L319.00,183.05 L319.99,183.17 L320.99,183.28 L321.99,183.40 L322.98,183.52 L323.98,183.64 L324.98,183.76 L325.97,183.88 L326.97,184.01 L327.97,184.13 L328.97,184.25 L329.97,184.38 L330.97,184.51 L331.97,184.63 L332.97,184.76 L333.97,184.89 L334.97,185.02 L335.97,185.15 L336.97,185.29 L337.97,185.42 L338.97,185.56 L339.97,185.69 L340.98,185.83 L341.98,185.97 L342.98,186.12 L343.99,186.26 L344.99,186.40 L346.00,186.55 L347.00,186.70 L347.99,186.54 L348.99,186.38 L349.98,186.23 L350.98,186.07 L351.97,185.93 L352.97,185.78 L353.97,185.64 L354.96,185.50 L355.96,185.36 L356.96,185.23 L357.96,185.10 L358.95,184.97 L359.95,184.85 L360.95,184.72 L361.95,184.60 L362.95,184.49 L363.95,184.37 L364.95,184.26 L365.95,184.15 L366.95,184.04 L367.95,183.94 L368.95,183.84 L369.95,183.74 L370.95,183.64 L371.95,183.54 L372.95,183.45 L373.95,183.36 L374.96,183.27 L375.96,183.18 L376.96,183.10 L377.96,183.01 L378.97,182.93 L379.97,182.86 L380.97,182.78 L381.98,182.70 L382.98,182.63 L383.98,182.56 L384.99,182.49 L385.99,182.42 L387.00,182.36 L388.00,182.29 L389.01,182.23 L390.01,182.17 L391.02,182.11 L392.02,182.05 L393.03,181.99 L394.03,181.94 L395.04,181.89 L396.04,181.83 L397.05,181.78 L398.06,181.73 L399.06,181.68 L400.07,181.64 L401.08,181.59 L402.08,181.54 L403.09,181.50 L404.09,181.46 L405.10,181.41 L406.11,181.37 L407.12,181.33 L408.12,181.29 L409.13,181.26 L410.14,181.22 L411.14,181.18 L412.15,181.14 L413.16,181.11 L414.17,181.07 L415.17,181.04 L416.18,181.01 L417.19,180.97 L418.20,180.94 L419.20,180.91 L420.21,180.88 L421.22,180.84 L422.23,180.81 L423.23,180.78 L424.24,180.75 L425.25,180.72 L426.26,180.69 L427.26,180.66 L428.27,180.63 L429.28,180.60 L430.29,180.57 L431.29,180.54 L432.30,180.51 L433.31,180.48 L434.32,180.45 L435.32,180.42 L436.33,180.39 L437.34,180.36 L438.34,180.33 L439.35,180.30 L440.36,180.27 L441.37,180.24 L442.37,180.21 L443.38,180.17 L444.39,180.14 L445.39,180.11 L446.40,180.07 L447.40,180.04 L448.41,180.00 L449.42,179.96 L450.42,179.93 L451.43,179.89 L452.43,179.85 L453.44,179.81 L454.45,179.77 L455.45,179.73 L456.46,179.69 L457.46,179.64 L458.47,179.60 L459.47,179.55 L460.48,179.51 L461.48,179.46 L462.48,179.41 L463.49,179.36 L464.49,179.31 L465.50,179.25 L466.50,179.20" fill="none" stroke="#FFC000" stroke-width="2.20" stroke-linejoin="round" stroke-linecap="round"/>
<ellipse cx="60.1" cy="190.4" rx="2.3" ry="3.4" fill="#000"/>
<line x1="142.10" y1="13.20" x2="159.20" y2="13.20" stroke="#000" stroke-width="2.2" stroke-linecap="round"/>
<text x="161.50" y="17.50" font-size="10.90" word-spacing="-0.70">Oil</text>
<line x1="252.00" y1="13.20" x2="270.70" y2="13.20" stroke="#000" stroke-width="2.2" stroke-dasharray="1.6 2.2"/>
<text x="272.20" y="17.50" font-size="10.90" word-spacing="-0.70">Natural gas</text>
<line x1="363.00" y1="13.20" x2="381.70" y2="13.20" stroke="#000" stroke-width="2.4" stroke-dasharray="5 3"/>
<text x="383.20" y="17.50" font-size="10.90" word-spacing="-0.70">Coal</text>
<line x1="142.10" y1="29.80" x2="159.20" y2="29.80" stroke="#974706" stroke-width="2.2" stroke-linecap="round"/>
<text x="161.50" y="34.10" font-size="10.90" word-spacing="-0.70">Willow, US</text>
<line x1="252.80" y1="29.80" x2="269.90" y2="29.80" stroke="#008000" stroke-width="2.2" stroke-linecap="round"/>
<text x="272.20" y="34.10" font-size="10.90" word-spacing="-0.70">Wood, US PNW</text>
<line x1="363.80" y1="29.80" x2="380.90" y2="29.80" stroke="#92D050" stroke-width="2.2" stroke-linecap="round"/>
<text x="383.20" y="34.10" font-size="10.90" word-spacing="-0.70">Wood, US WI</text>
<line x1="142.10" y1="45.90" x2="159.20" y2="45.90" stroke="#7030A0" stroke-width="2.2" stroke-linecap="round"/>
<text x="161.50" y="50.20" font-size="10.90" word-spacing="-0.70">Wood, CA</text>
<line x1="252.80" y1="45.90" x2="269.90" y2="45.90" stroke="#FF0000" stroke-width="2.2" stroke-linecap="round"/>
<text x="272.20" y="50.20" font-size="10.90" word-spacing="-0.70">Wood, NO</text>
<line x1="363.80" y1="45.90" x2="380.90" y2="45.90" stroke="#FFC000" stroke-width="2.2" stroke-linecap="round"/>
<text x="383.20" y="50.20" font-size="10.90" word-spacing="-0.70">Wood, NO (fr)</text>
<text x="0.7" y="12.6" font-size="12.6">a</text>
<text x="273.7" y="296.3" text-anchor="middle" font-size="12.3" word-spacing="-1">Time, years</text>
<text transform="translate(9.2,138.8) rotate(-90)" text-anchor="middle" font-size="12.4">Effective radiative forcing</text>
<text transform="translate(24.3,138.9) rotate(-90)" text-anchor="middle" font-size="12.4">10<tspan dy="-3.4" font-size="7.7">-16</tspan><tspan dy="3.4"> Wm</tspan><tspan dy="-3.4" font-size="7.7">-2</tspan><tspan dy="3.4">MJ</tspan><tspan dy="-3.4" font-size="7.7">-1</tspan></text>
<line x1="62.10" y1="329.12" x2="473.30" y2="329.12" stroke="#C6C6C6" stroke-width="1.2"/>
<line x1="62.10" y1="356.53" x2="473.30" y2="356.53" stroke="#C6C6C6" stroke-width="1.2"/>
<line x1="62.10" y1="383.94" x2="473.30" y2="383.94" stroke="#C6C6C6" stroke-width="1.2"/>
<line x1="62.10" y1="411.35" x2="473.30" y2="411.35" stroke="#C6C6C6" stroke-width="1.2"/>
<line x1="62.10" y1="438.76" x2="473.30" y2="438.76" stroke="#C6C6C6" stroke-width="1.2"/>
<line x1="62.10" y1="466.17" x2="473.30" y2="466.17" stroke="#C6C6C6" stroke-width="1.2"/>
<line x1="62.10" y1="493.58" x2="473.30" y2="493.58" stroke="#C6C6C6" stroke-width="1.2"/>
<line x1="62.10" y1="520.99" x2="473.30" y2="520.99" stroke="#C6C6C6" stroke-width="1.2"/>
<line x1="62.10" y1="548.40" x2="473.30" y2="548.40" stroke="#C6C6C6" stroke-width="1.2"/>
<line x1="62.10" y1="575.81" x2="473.30" y2="575.81" stroke="#C6C6C6" stroke-width="1.2"/>
<line x1="62.10" y1="603.22" x2="473.30" y2="603.22" stroke="#C6C6C6" stroke-width="1.2"/>
<rect x="174" y="331" width="299" height="77" fill="#fff"/>
<line x1="62.10" y1="328.32" x2="62.10" y2="604.02" stroke="#000" stroke-width="1.6"/>
<line x1="62.10" y1="329.12" x2="65.60" y2="329.12" stroke="#000" stroke-width="1.6"/>
<text x="52.50" y="332.86" text-anchor="end" font-size="11.00">5.0</text>
<line x1="62.10" y1="356.53" x2="65.60" y2="356.53" stroke="#000" stroke-width="1.6"/>
<text x="52.50" y="360.27" text-anchor="end" font-size="11.00">4.0</text>
<line x1="62.10" y1="383.94" x2="65.60" y2="383.94" stroke="#000" stroke-width="1.6"/>
<text x="52.50" y="387.68" text-anchor="end" font-size="11.00">3.0</text>
<line x1="62.10" y1="411.35" x2="65.60" y2="411.35" stroke="#000" stroke-width="1.6"/>
<text x="52.50" y="415.09" text-anchor="end" font-size="11.00">2.0</text>
<line x1="62.10" y1="438.76" x2="65.60" y2="438.76" stroke="#000" stroke-width="1.6"/>
<text x="52.50" y="442.50" text-anchor="end" font-size="11.00">1.0</text>
<line x1="62.10" y1="466.17" x2="65.60" y2="466.17" stroke="#000" stroke-width="1.6"/>
<text x="52.50" y="469.91" text-anchor="end" font-size="11.00">0.0</text>
<line x1="62.10" y1="493.58" x2="65.60" y2="493.58" stroke="#000" stroke-width="1.6"/>
<text x="52.50" y="497.32" text-anchor="end" font-size="11.00">-1.0</text>
<line x1="62.10" y1="520.99" x2="65.60" y2="520.99" stroke="#000" stroke-width="1.6"/>
<text x="52.50" y="524.73" text-anchor="end" font-size="11.00">-2.0</text>
<line x1="62.10" y1="548.40" x2="65.60" y2="548.40" stroke="#000" stroke-width="1.6"/>
<text x="52.50" y="552.14" text-anchor="end" font-size="11.00">-3.0</text>
<line x1="62.10" y1="575.81" x2="65.60" y2="575.81" stroke="#000" stroke-width="1.6"/>
<text x="52.50" y="579.55" text-anchor="end" font-size="11.00">-4.0</text>
<line x1="62.10" y1="603.22" x2="65.60" y2="603.22" stroke="#000" stroke-width="1.6"/>
<text x="52.50" y="606.96" text-anchor="end" font-size="11.00">-5.0</text>
<line x1="62.10" y1="466.30" x2="473.30" y2="466.30" stroke="#000" stroke-width="1.6"/>
<line x1="120.84" y1="466.30" x2="120.84" y2="463.30" stroke="#000" stroke-width="1.4"/>
<text x="120.84" y="483.50" text-anchor="middle" font-size="11.00">20</text>
<line x1="179.59" y1="466.30" x2="179.59" y2="463.30" stroke="#000" stroke-width="1.4"/>
<text x="179.59" y="483.50" text-anchor="middle" font-size="11.00">40</text>
<line x1="238.33" y1="466.30" x2="238.33" y2="463.30" stroke="#000" stroke-width="1.4"/>
<text x="238.33" y="483.50" text-anchor="middle" font-size="11.00">60</text>
<line x1="297.07" y1="466.30" x2="297.07" y2="463.30" stroke="#000" stroke-width="1.4"/>
<text x="297.07" y="483.50" text-anchor="middle" font-size="11.00">80</text>
<line x1="355.81" y1="466.30" x2="355.81" y2="463.30" stroke="#000" stroke-width="1.4"/>
<text x="355.81" y="483.50" text-anchor="middle" font-size="11.00">100</text>
<line x1="414.56" y1="466.30" x2="414.56" y2="463.30" stroke="#000" stroke-width="1.4"/>
<text x="414.56" y="483.50" text-anchor="middle" font-size="11.00">120</text>
<line x1="473.30" y1="466.30" x2="473.30" y2="463.30" stroke="#000" stroke-width="1.4"/>
<text x="473.30" y="483.50" text-anchor="middle" font-size="11.00">140</text>
<path d="M62.10,338.00 L62.22,339.00 L62.34,340.00 L62.46,340.99 L62.58,341.99 L62.70,342.99 L62.81,343.99 L62.93,344.99 L63.04,345.99 L63.15,346.99 L63.26,347.99 L63.36,348.98 L63.47,349.98 L63.57,350.98 L63.68,351.98 L63.78,352.98 L63.88,353.98 L63.97,354.98 L64.07,355.98 L64.17,356.98 L64.26,357.98 L64.35,358.98 L64.45,359.99 L64.54,360.99 L64.63,361.99 L64.71,362.99 L64.80,363.99 L64.89,364.99 L64.97,365.99 L65.05,366.99 L65.14,367.99 L65.22,369.00 L65.30,370.00 L65.38,371.00 L65.45,372.00 L65.53,373.00 L65.61,374.00 L65.68,375.01 L65.75,376.01 L65.83,377.01 L65.90,378.01 L65.97,379.02 L66.04,380.02 L66.11,381.02 L66.18,382.02 L66.24,383.03 L66.31,384.03 L66.37,385.03 L66.44,386.04 L66.50,387.04 L66.57,388.04 L66.63,389.04 L66.69,390.05 L66.75,391.05 L66.81,392.05 L66.87,393.06 L66.93,394.06 L66.99,395.06 L67.05,396.07 L67.11,397.07 L67.16,398.08 L67.22,399.08 L67.27,400.08 L67.33,401.09 L67.38,402.09 L67.44,403.09 L67.49,404.10 L67.55,405.10 L67.60,406.11 L67.65,407.11 L67.70,408.11 L67.75,409.12 L67.81,410.12 L67.86,411.12 L67.91,412.13 L67.96,413.13 L68.01,414.14 L68.06,415.14 L68.11,416.15 L68.16,417.15 L68.21,418.15 L68.26,419.16 L68.31,420.16 L68.36,421.17 L68.40,422.17 L68.45,423.17 L68.50,424.18 L68.55,425.18 L68.60,426.19 L68.65,427.19 L68.70,428.19 L68.75,429.20 L68.79,430.20 L68.84,431.21 L68.89,432.21 L68.94,433.21 L68.99,434.22 L69.04,435.22 L69.09,436.23 L69.14,437.23 L69.19,438.23 L69.24,439.24 L69.29,440.24 L69.34,441.25 L69.39,442.25 L69.44,443.25 L69.49,444.26 L69.55,445.26 L69.60,446.26 L69.65,447.27 L69.70,448.27 L69.76,449.27 L69.81,450.28 L69.86,451.28 L69.92,452.28 L69.97,453.29 L70.03,454.29 L70.09,455.29 L70.14,456.30 L70.20,457.30 L71.20,457.34 L72.20,457.38 L73.20,457.42 L74.20,457.46 L75.20,457.51 L76.20,457.55 L77.20,457.59 L78.20,457.63 L79.20,457.67 L80.20,457.71 L81.20,457.74 L82.20,457.78 L83.19,457.82 L84.19,457.86 L85.19,457.90 L86.19,457.94 L87.19,457.97 L88.19,458.01 L89.19,458.05 L90.19,458.08 L91.19,458.12 L92.19,458.16 L93.19,458.19 L94.19,458.23 L95.19,458.26 L96.19,458.30 L97.19,458.33 L98.19,458.37 L99.19,458.40 L100.19,458.44 L101.19,458.47 L102.19,458.50 L103.19,458.54 L104.19,458.57 L105.19,458.60 L106.19,458.63 L107.19,458.67 L108.19,458.70 L109.19,458.73 L110.19,458.76 L111.19,458.79 L112.19,458.82 L113.19,458.85 L114.19,458.88 L115.19,458.91 L116.19,458.94 L117.19,458.97 L118.19,459.00 L119.19,459.03 L120.19,459.06 L121.19,459.09 L122.19,459.12 L123.19,459.15 L124.19,459.17 L125.19,459.20 L126.19,459.23 L127.19,459.26 L128.19,459.28 L129.19,459.31 L130.19,459.34 L131.19,459.36 L132.19,459.39 L133.19,459.41 L134.19,459.44 L135.19,459.47 L136.19,459.49 L137.19,459.52 L138.19,459.54 L139.19,459.57 L140.19,459.59 L141.19,459.61 L142.19,459.64 L143.19,459.66 L144.19,459.68 L145.19,459.71 L146.19,459.73 L147.19,459.75 L148.19,459.78 L149.19,459.80 L150.19,459.82 L151.19,459.84 L152.19,459.86 L153.19,459.89 L154.19,459.91 L155.19,459.93 L156.19,459.95 L157.19,459.97 L158.19,459.99 L159.19,460.01 L160.19,460.03 L161.19,460.05 L162.19,460.07 L163.19,460.09 L164.19,460.11 L165.19,460.13 L166.19,460.15 L167.19,460.17 L168.19,460.18 L169.19,460.20 L170.19,460.22 L171.19,460.24 L172.19,460.26 L173.19,460.27 L174.19,460.29 L175.19,460.31 L176.19,460.33 L177.19,460.34 L178.19,460.36 L179.19,460.38 L180.19,460.39 L181.19,460.41 L182.19,460.42 L183.19,460.44 L184.19,460.46 L185.19,460.47 L186.19,460.49 L187.19,460.50 L188.19,460.52 L189.19,460.53 L190.19,460.55 L191.19,460.56 L192.19,460.58 L193.19,460.59 L194.19,460.60 L195.19,460.62 L196.19,460.63 L197.19,460.64 L198.19,460.66 L199.19,460.67 L200.19,460.68 L201.19,460.70 L202.19,460.71 L203.19,460.72 L204.19,460.73 L205.19,460.75 L206.19,460.76 L207.20,460.77 L208.20,460.78 L209.20,460.79 L210.20,460.81 L211.20,460.82 L212.20,460.83 L213.20,460.84 L214.20,460.85 L215.20,460.86 L216.20,460.87 L217.20,460.88 L218.20,460.89 L219.20,460.90 L220.20,460.91 L221.20,460.92 L222.20,460.93 L223.20,460.94 L224.20,460.95 L225.20,460.96 L226.20,460.97 L227.20,460.98 L228.20,460.99 L229.20,461.00 L230.20,461.01 L231.20,461.01 L232.20,461.02 L233.20,461.03 L234.20,461.04 L235.20,461.05 L236.20,461.06 L237.20,461.06 L238.21,461.07 L239.21,461.08 L240.21,461.09 L241.21,461.09 L242.21,461.10 L243.21,461.11 L244.21,461.12 L245.21,461.12 L246.21,461.13 L247.21,461.14 L248.21,461.14 L249.21,461.15 L250.21,461.16 L251.21,461.16 L252.21,461.17 L253.21,461.18 L254.21,461.18 L255.21,461.19 L256.21,461.19 L257.21,461.20 L258.21,461.21 L259.21,461.21 L260.21,461.22 L261.21,461.22 L262.21,461.23 L263.22,461.23 L264.22,461.24 L265.22,461.24 L266.22,461.25 L267.22,461.25 L268.22,461.26 L269.22,461.26 L270.22,461.27 L271.22,461.27 L272.22,461.28 L273.22,461.28 L274.22,461.28 L275.22,461.29 L276.22,461.29 L277.22,461.30 L278.22,461.30 L279.22,461.31 L280.22,461.31 L281.22,461.31 L282.22,461.32 L283.22,461.32 L284.22,461.32 L285.23,461.33 L286.23,461.33 L287.23,461.33 L288.23,461.34 L289.23,461.34 L290.23,461.34 L291.23,461.35 L292.23,461.35 L293.23,461.35 L294.23,461.36 L295.23,461.36 L296.23,461.36 L297.23,461.37 L298.23,461.37 L299.23,461.37 L300.23,461.37 L301.23,461.38 L302.23,461.38 L303.23,461.38 L304.23,461.38 L305.23,461.39 L306.24,461.39 L307.24,461.39 L308.24,461.39 L309.24,461.40 L310.24,461.40 L311.24,461.40 L312.24,461.40 L313.24,461.40 L314.24,461.41 L315.24,461.41 L316.24,461.41 L317.24,461.41 L318.24,461.41 L319.24,461.42 L320.24,461.42 L321.24,461.42 L322.24,461.42 L323.24,461.42 L324.24,461.42 L325.24,461.43 L326.24,461.43 L327.25,461.43 L328.25,461.43 L329.25,461.43 L330.25,461.43 L331.25,461.44 L332.25,461.44 L333.25,461.44 L334.25,461.44 L335.25,461.44 L336.25,461.44 L337.25,461.45 L338.25,461.45 L339.25,461.45 L340.25,461.45 L341.25,461.45 L342.25,461.45 L343.25,461.45 L344.25,461.46 L345.25,461.46 L346.25,461.46 L347.25,461.46 L348.26,461.46 L349.26,461.46 L350.26,461.47 L351.26,461.47 L352.26,461.47 L353.26,461.47 L354.26,461.47 L355.26,461.47 L356.26,461.47 L357.26,461.48 L358.26,461.48 L359.26,461.48 L360.26,461.48 L361.26,461.48 L362.26,461.48 L363.26,461.49 L364.26,461.49 L365.26,461.49 L366.26,461.49 L367.26,461.49 L368.26,461.49 L369.26,461.50 L370.27,461.50 L371.27,461.50 L372.27,461.50 L373.27,461.50 L374.27,461.50 L375.27,461.51 L376.27,461.51 L377.27,461.51 L378.27,461.51 L379.27,461.51 L380.27,461.52 L381.27,461.52 L382.27,461.52 L383.27,461.52 L384.27,461.52 L385.27,461.53 L386.27,461.53 L387.27,461.53 L388.27,461.53 L389.27,461.54 L390.27,461.54 L391.27,461.54 L392.28,461.54 L393.28,461.55 L394.28,461.55 L395.28,461.55 L396.28,461.55 L397.28,461.56 L398.28,461.56 L399.28,461.56 L400.28,461.57 L401.28,461.57 L402.28,461.57 L403.28,461.57 L404.28,461.58 L405.28,461.58 L406.28,461.58 L407.28,461.59 L408.28,461.59 L409.28,461.59 L410.28,461.60 L411.28,461.60 L412.28,461.61 L413.28,461.61 L414.28,461.61 L415.28,461.62 L416.28,461.62 L417.28,461.62 L418.29,461.63 L419.29,461.63 L420.29,461.64 L421.29,461.64 L422.29,461.65 L423.29,461.65 L424.29,461.65 L425.29,461.66 L426.29,461.66 L427.29,461.67 L428.29,461.67 L429.29,461.68 L430.29,461.68 L431.29,461.69 L432.29,461.69 L433.29,461.70 L434.29,461.71 L435.29,461.71 L436.29,461.72 L437.29,461.72 L438.29,461.73 L439.29,461.73 L440.29,461.74 L441.29,461.75 L442.29,461.75 L443.29,461.76 L444.29,461.77 L445.29,461.77 L446.29,461.78 L447.29,461.78 L448.29,461.79 L449.29,461.80 L450.30,461.81 L451.30,461.81 L452.30,461.82 L453.30,461.83 L454.30,461.83 L455.30,461.84 L456.30,461.85 L457.30,461.86 L458.30,461.87 L459.30,461.87 L460.30,461.88 L461.30,461.89 L462.30,461.90 L463.30,461.91 L464.30,461.92 L465.30,461.93 L466.30,461.93 L467.30,461.94 L468.30,461.95 L469.30,461.96 L470.30,461.97 L471.30,461.98 L472.30,461.99 L473.30,462.00" fill="none" stroke="#974706" stroke-width="2.20" stroke-linejoin="round" stroke-linecap="round"/>
<path d="M62.00,351.25 L81.90,470.30 L82.81,469.69 L83.74,469.13 L84.67,468.63 L85.60,468.17 L86.54,467.76 L87.48,467.39 L88.42,467.06 L89.36,466.77 L90.31,466.52 L91.26,466.29 L92.22,466.10 L93.17,465.93 L94.13,465.79 L95.09,465.66 L96.06,465.56 L97.03,465.47 L97.99,465.40 L98.97,465.34 L99.94,465.28 L100.91,465.23 L101.89,465.18 L102.87,465.14 L103.85,465.10 L104.83,465.07 L105.82,465.03 L106.80,465.00 L107.79,464.98 L108.77,464.95 L109.76,464.93 L110.75,464.91 L111.74,464.90 L112.73,464.88 L113.73,464.87 L114.72,464.86 L115.71,464.84 L116.71,464.83 L117.70,464.83 L118.70,464.82 L119.69,464.81 L120.69,464.80 L121.68,464.79 L122.68,464.78 L123.67,464.77 L124.67,464.76 L125.66,464.76 L126.66,464.75 L127.66,464.74 L128.65,464.73 L129.65,464.72 L130.64,464.71 L131.64,464.70 L132.64,464.69 L133.63,464.69 L134.63,464.68 L135.63,464.67 L136.62,464.66 L137.62,464.65 L138.62,464.64 L139.62,464.63 L140.61,464.63 L141.61,464.62 L142.61,464.61 L143.60,464.60 L144.60,464.59 L145.60,464.58 L146.60,464.57 L147.60,464.56 L148.59,464.56 L149.59,464.55 L150.59,464.54 L151.59,464.53 L152.59,464.52 L153.59,464.51 L154.58,464.50 L155.58,464.50 L156.58,464.49 L157.58,464.48 L158.58,464.47 L159.58,464.46 L160.58,464.45 L161.58,464.45 L162.57,464.44 L163.57,464.43 L164.57,464.42 L165.57,464.41 L166.57,464.40 L167.57,464.39 L168.57,464.39 L169.57,464.38 L170.57,464.37 L171.57,464.36 L172.57,464.35 L173.57,464.34 L174.57,464.34 L175.57,464.33 L176.57,464.32 L177.57,464.31 L178.57,464.30 L179.57,464.29 L180.57,464.29 L181.57,464.28 L182.57,464.27 L183.58,464.26 L184.58,464.25 L185.58,464.25 L186.58,464.24 L187.58,464.23 L188.58,464.22 L189.58,464.21 L190.58,464.21 L191.58,464.20 L192.59,464.19 L193.59,464.18 L194.59,464.17 L195.59,464.17 L196.59,464.16 L197.59,464.15 L198.59,464.14 L199.60,464.13 L200.60,464.13 L201.60,464.12 L202.60,464.11 L203.60,464.10 L204.61,464.10 L205.61,464.09 L206.61,464.08 L207.61,464.07 L208.62,464.06 L209.62,464.06 L210.62,464.05 L211.62,464.04 L212.63,464.03 L213.63,464.03 L214.63,464.02 L215.63,464.01 L216.64,464.00 L217.64,464.00 L218.64,463.99 L219.64,463.98 L220.65,463.98 L221.65,463.97 L222.65,463.96 L223.66,463.95 L224.66,463.95 L225.66,463.94 L226.67,463.93 L227.67,463.93 L228.67,463.92 L229.68,463.91 L230.68,463.91 L231.68,463.90 L232.69,463.89 L233.69,463.88 L234.69,463.88 L235.70,463.87 L236.70,463.86 L237.70,463.86 L238.71,463.85 L239.71,463.85 L240.72,463.84 L241.72,463.83 L242.72,463.83 L243.73,463.82 L244.73,463.81 L245.73,463.81 L246.74,463.80 L247.74,463.79 L248.75,463.79 L249.75,463.78 L250.75,463.78 L251.76,463.77 L252.76,463.76 L253.77,463.76 L254.77,463.75 L255.78,463.75 L256.78,463.74 L257.78,463.73 L258.79,463.73 L259.79,463.72 L260.80,463.72 L261.80,463.71 L262.81,463.71 L263.81,463.70 L264.82,463.69 L265.82,463.69 L266.82,463.68 L267.83,463.68 L268.83,463.67 L269.84,463.67 L270.84,463.66 L271.85,463.66 L272.85,463.65 L273.86,463.65 L274.86,463.64 L275.87,463.64 L276.87,463.63 L277.87,463.63 L278.88,463.62 L279.88,463.62 L280.89,463.61 L281.89,463.61 L282.90,463.60 L283.90,463.60 L284.91,463.60 L285.91,463.59 L286.92,463.59 L287.92,463.58 L288.93,463.58 L289.93,463.57 L290.94,463.57 L291.94,463.57 L292.95,463.56 L293.95,463.56 L294.96,463.55 L295.96,463.55 L296.97,463.55 L297.97,463.54 L298.98,463.54 L299.98,463.53 L300.98,463.53 L301.99,463.53 L302.99,463.52 L304.00,463.52 L305.00,463.52 L306.01,463.51 L307.01,463.51 L308.02,463.51 L309.02,463.50 L310.03,463.50 L311.03,463.50 L312.04,463.50 L313.04,463.49 L314.05,463.49 L315.05,463.49 L316.06,463.48 L317.06,463.48 L318.07,463.48 L319.07,463.48 L320.08,463.47 L321.08,463.47 L322.09,463.47 L323.09,463.47 L324.09,463.47 L325.10,463.46 L326.10,463.46 L327.11,463.46 L328.11,463.46 L329.12,463.46 L330.12,463.45 L331.13,463.45 L332.13,463.45 L333.14,463.45 L334.14,463.45 L335.14,463.45 L336.15,463.45 L337.15,463.44 L338.16,463.44 L339.16,463.44 L340.17,463.44 L341.17,463.44 L342.18,463.44 L343.18,463.44 L344.18,463.44 L345.19,463.44 L346.19,463.44 L347.20,463.44 L348.20,463.44 L349.20,463.44 L350.21,463.44 L351.21,463.44 L352.22,463.44 L353.22,463.44 L354.23,463.44 L355.23,463.44 L356.23,463.44 L357.24,463.44 L358.24,463.44 L359.24,463.44 L360.25,463.44 L361.25,463.44 L362.26,463.44 L363.26,463.44 L364.26,463.44 L365.27,463.44 L366.27,463.44 L367.27,463.44 L368.28,463.45 L369.28,463.45 L370.28,463.45 L371.29,463.45 L372.29,463.45 L373.29,463.45 L374.30,463.45 L375.30,463.46 L376.30,463.46 L377.31,463.46 L378.31,463.46 L379.31,463.46 L380.32,463.47 L381.32,463.47 L382.32,463.47 L383.32,463.47 L384.33,463.48 L385.33,463.48 L386.33,463.48 L387.33,463.48 L388.34,463.49 L389.34,463.49 L390.34,463.49 L391.34,463.50 L392.35,463.50 L393.35,463.50 L394.35,463.51 L395.35,463.51 L396.36,463.51 L397.36,463.52 L398.36,463.52 L399.36,463.53 L400.36,463.53 L401.37,463.53 L402.37,463.54 L403.37,463.54 L404.37,463.55 L405.37,463.55 L406.37,463.56 L407.37,463.56 L408.38,463.56 L409.38,463.57 L410.38,463.57 L411.38,463.58 L412.38,463.59 L413.38,463.59 L414.38,463.60 L415.38,463.60 L416.38,463.61 L417.39,463.61 L418.39,463.62 L419.39,463.62 L420.39,463.63 L421.39,463.64 L422.39,463.64 L423.39,463.65 L424.39,463.66 L425.39,463.66 L426.39,463.67 L427.39,463.67 L428.39,463.68 L429.39,463.69 L430.39,463.70 L431.39,463.70 L432.39,463.71 L433.39,463.72 L434.39,463.72 L435.39,463.73 L436.39,463.74 L437.39,463.75 L438.38,463.76 L439.38,463.76 L440.38,463.77 L441.38,463.78 L442.38,463.79 L443.38,463.80 L444.38,463.80 L445.38,463.81 L446.38,463.82 L447.37,463.83 L448.37,463.84 L449.37,463.85 L450.37,463.86 L451.37,463.87 L452.36,463.88 L453.36,463.89 L454.36,463.90 L455.36,463.91 L456.36,463.92 L457.35,463.93 L458.35,463.94 L459.35,463.95 L460.34,463.96 L461.34,463.97 L462.34,463.98 L463.34,463.99 L464.33,464.00 L465.33,464.01 L466.33,464.02 L467.32,464.03 L468.32,464.04 L469.32,464.05 L470.31,464.07 L471.31,464.08 L472.30,464.09 L473.30,464.10" fill="none" stroke="#1A6EFF" stroke-width="2.20" stroke-linejoin="round" stroke-linecap="round"/>
<path d="M62.25,508.00 L63.75,509.30 L64.14,508.34 L64.52,507.39 L64.89,506.43 L65.26,505.48 L65.61,504.52 L65.96,503.57 L66.30,502.61 L66.63,501.66 L66.96,500.70 L67.28,499.75 L67.59,498.79 L67.90,497.84 L68.20,496.88 L68.50,495.93 L68.79,494.98 L69.08,494.02 L69.36,493.07 L69.63,492.12 L69.91,491.16 L70.18,490.21 L70.44,489.26 L70.70,488.30 L70.96,487.35 L71.21,486.39 L71.47,485.44 L71.72,484.49 L71.96,483.53 L72.21,482.58 L72.46,481.62 L72.70,480.66 L72.94,479.71 L73.18,478.75 L73.42,477.80 L73.66,476.84 L73.90,475.88 L74.14,474.93 L74.38,473.97 L74.62,473.01 L74.86,472.05 L75.11,471.09 L75.35,470.13 L75.60,469.17 L75.85,468.21 L76.10,467.25 L76.35,466.28 L76.61,465.32 L76.87,464.36 L77.13,463.39 L77.39,462.43 L77.66,461.46 L77.94,460.49 L78.21,459.53 L78.50,458.56 L78.79,457.59 L79.08,456.62 L79.38,455.65 L79.68,454.67 L79.99,453.70 L80.30,452.73 L80.63,451.75 L80.96,450.78 L81.29,449.81 L81.63,448.84 L81.98,447.87 L82.34,446.90 L82.71,445.93 L83.08,444.97 L83.47,444.01 L83.86,443.05 L84.26,442.10 L84.67,441.15 L85.09,440.20 L85.52,439.26 L85.96,438.32 L86.41,437.39 L86.87,436.46 L87.34,435.55 L87.82,434.63 L88.31,433.72 L88.82,432.83 L89.33,431.93 L89.86,431.05 L90.40,430.17 L90.96,429.30 L91.53,428.45 L92.11,427.60 L92.70,426.76 L93.31,425.94 L93.93,425.14 L94.56,424.35 L95.21,423.58 L95.88,422.84 L96.56,422.12 L97.25,421.42 L97.96,420.75 L98.69,420.11 L99.43,419.50 L100.19,418.92 L100.97,418.37 L101.76,417.87 L102.57,417.39 L103.39,416.96 L104.24,416.56 L105.09,416.20 L105.96,415.87 L106.84,415.58 L107.74,415.31 L108.65,415.09 L109.56,414.89 L110.49,414.73 L111.43,414.59 L112.37,414.49 L113.32,414.41 L114.28,414.36 L115.24,414.34 L116.21,414.35 L117.19,414.38 L118.16,414.44 L119.14,414.52 L120.12,414.62 L121.10,414.75 L122.09,414.91 L123.07,415.08 L124.05,415.27 L125.04,415.49 L126.02,415.72 L127.00,415.97 L127.98,416.24 L128.96,416.53 L129.94,416.83 L130.91,417.15 L131.89,417.48 L132.86,417.83 L133.82,418.19 L134.79,418.57 L135.75,418.95 L136.70,419.35 L137.65,419.76 L138.60,420.18 L139.54,420.60 L140.48,421.04 L141.41,421.48 L142.33,421.93 L143.25,422.39 L144.17,422.85 L145.07,423.32 L145.98,423.80 L146.87,424.28 L147.76,424.77 L148.65,425.27 L149.53,425.77 L150.41,426.28 L151.28,426.79 L152.15,427.31 L153.01,427.84 L153.87,428.37 L154.73,428.90 L155.58,429.44 L156.42,429.99 L157.26,430.54 L158.10,431.09 L158.94,431.65 L159.77,432.21 L160.60,432.78 L161.42,433.35 L162.24,433.93 L163.06,434.51 L163.88,435.09 L164.69,435.68 L165.50,436.27 L166.30,436.86 L167.11,437.46 L167.91,438.05 L168.71,438.66 L169.51,439.26 L170.30,439.87 L171.10,440.48 L171.89,441.09 L172.68,441.70 L173.47,442.32 L174.25,442.93 L175.04,443.55 L175.82,444.17 L176.61,444.79 L177.39,445.42 L178.17,446.04 L178.95,446.67 L179.73,447.29 L180.51,447.92 L181.29,448.55 L182.06,449.17 L182.84,449.80 L183.62,450.43 L184.40,451.06 L185.18,451.68 L185.96,452.31 L186.73,452.94 L187.51,453.57 L188.29,454.19 L189.07,454.82 L189.85,455.44 L190.64,456.06 L191.42,456.68 L192.20,457.30 L192.99,457.92 L193.78,458.54 L194.57,459.15 L195.36,459.77 L196.15,460.38 L196.94,460.99 L197.74,461.59 L198.54,462.20 L199.34,462.80 L200.14,463.40 L200.94,463.99 L201.75,464.58 L202.56,465.17 L203.37,465.76 L204.19,466.34 L205.01,466.92 L205.83,467.49 L206.66,468.06 L207.49,468.63 L208.32,469.19 L209.15,469.75 L209.99,470.30 L210.84,470.85 L211.68,471.39 L212.54,471.93 L213.39,472.47 L214.25,473.00 L215.11,473.52 L215.98,474.04 L216.86,474.55 L217.73,475.06 L218.62,475.56 L219.51,476.05 L220.40,476.54 L221.30,477.02 L222.20,477.50 L223.16,477.19 L224.13,476.88 L225.10,476.58 L226.06,476.28 L227.03,475.99 L228.00,475.70 L228.96,475.41 L229.93,475.12 L230.90,474.84 L231.87,474.57 L232.84,474.29 L233.81,474.02 L234.78,473.75 L235.75,473.49 L236.72,473.23 L237.70,472.97 L238.67,472.72 L239.64,472.47 L240.62,472.22 L241.59,471.97 L242.56,471.73 L243.54,471.50 L244.51,471.26 L245.49,471.03 L246.47,470.80 L247.44,470.58 L248.42,470.35 L249.40,470.13 L250.38,469.92 L251.35,469.70 L252.33,469.49 L253.31,469.29 L254.29,469.08 L255.27,468.88 L256.25,468.68 L257.23,468.49 L258.22,468.29 L259.20,468.10 L260.18,467.92 L261.16,467.73 L262.15,467.55 L263.13,467.37 L264.11,467.20 L265.10,467.02 L266.08,466.85 L267.07,466.69 L268.05,466.52 L269.04,466.36 L270.02,466.20 L271.01,466.04 L272.00,465.89 L272.98,465.74 L273.97,465.59 L274.96,465.44 L275.95,465.30 L276.94,465.16 L277.92,465.02 L278.91,464.88 L279.90,464.75 L280.89,464.61 L281.88,464.48 L282.87,464.36 L283.86,464.23 L284.86,464.11 L285.85,463.99 L286.84,463.87 L287.83,463.76 L288.82,463.64 L289.82,463.53 L290.81,463.42 L291.80,463.32 L292.80,463.21 L293.79,463.11 L294.78,463.01 L295.78,462.91 L296.77,462.82 L297.77,462.72 L298.76,462.63 L299.76,462.54 L300.76,462.46 L301.75,462.37 L302.75,462.29 L303.75,462.20 L304.74,462.12 L305.74,462.05 L306.74,461.97 L307.73,461.90 L308.73,461.83 L309.73,461.75 L310.73,461.69 L311.73,461.62 L312.73,461.55 L313.73,461.49 L314.72,461.43 L315.72,461.37 L316.72,461.31 L317.72,461.26 L318.72,461.20 L319.72,461.15 L320.73,461.10 L321.73,461.05 L322.73,461.00 L323.73,460.95 L324.73,460.91 L325.73,460.86 L326.73,460.82 L327.74,460.78 L328.74,460.74 L329.74,460.71 L330.74,460.67 L331.74,460.63 L332.75,460.60 L333.75,460.57 L334.75,460.54 L335.76,460.51 L336.76,460.48 L337.76,460.45 L338.77,460.43 L339.77,460.40 L340.78,460.38 L341.78,460.36 L342.78,460.34 L343.79,460.32 L344.79,460.30 L345.80,460.28 L346.80,460.27 L347.81,460.25 L348.81,460.24 L349.82,460.23 L350.82,460.21 L351.83,460.20 L352.83,460.19 L353.84,460.18 L354.85,460.18 L355.85,460.17 L356.86,460.16 L357.86,460.16 L358.87,460.15 L359.88,460.15 L360.88,460.15 L361.89,460.14 L362.89,460.14 L363.90,460.14 L364.91,460.14 L365.91,460.14 L366.92,460.14 L367.93,460.15 L368.93,460.15 L369.94,460.15 L370.95,460.16 L371.95,460.16 L372.96,460.17 L373.97,460.17 L374.97,460.18 L375.98,460.19 L376.99,460.19 L378.00,460.20 L379.00,460.21 L380.01,460.22 L381.02,460.23 L382.02,460.24 L383.03,460.25 L384.04,460.26 L385.05,460.27 L386.05,460.28 L387.06,460.29 L388.07,460.31 L389.07,460.32 L390.08,460.33 L391.09,460.34 L392.09,460.35 L393.10,460.37 L394.11,460.38 L395.12,460.39 L396.12,460.41 L397.13,460.42 L398.14,460.43 L399.14,460.45 L400.15,460.46 L401.16,460.47 L402.16,460.49 L403.17,460.50 L404.18,460.51 L405.18,460.53 L406.19,460.54 L407.20,460.55 L408.20,460.57 L409.21,460.58 L410.21,460.59 L411.22,460.61 L412.23,460.62 L413.23,460.63 L414.24,460.64 L415.24,460.65 L416.25,460.67 L417.25,460.68 L418.26,460.69 L419.26,460.70 L420.27,460.71 L421.27,460.72 L422.28,460.73 L423.28,460.74 L424.29,460.74 L425.29,460.75 L426.30,460.76 L427.30,460.77 L428.31,460.77 L429.31,460.78 L430.31,460.78 L431.32,460.79 L432.32,460.79 L433.33,460.80 L434.33,460.80 L435.33,460.80 L436.33,460.80 L437.34,460.80 L438.34,460.80 L439.34,460.80 L440.34,460.80 L441.35,460.80 L442.35,460.80 L443.35,460.79 L444.35,460.79 L445.35,460.78 L446.35,460.78 L447.35,460.77 L448.36,460.76 L449.36,460.75 L450.36,460.74 L451.36,460.73 L452.36,460.72 L453.36,460.71 L454.36,460.69 L455.35,460.68 L456.35,460.66 L457.35,460.64 L458.35,460.63 L459.35,460.61 L460.35,460.58 L461.35,460.56 L462.34,460.54 L463.34,460.52 L464.34,460.49 L465.33,460.46 L466.33,460.43 L467.33,460.40 L468.32,460.37 L469.32,460.34 L470.31,460.31 L471.31,460.27 L472.31,460.24 L473.30,460.20" fill="none" stroke="#92D050" stroke-width="2.20" stroke-linejoin="round" stroke-linecap="round"/>
<path d="M62.19,418.90 L62.47,420.05 L62.79,421.15 L63.16,422.18 L63.57,423.16 L64.03,424.08 L64.53,424.95 L65.07,425.77 L65.64,426.54 L66.26,427.27 L66.90,427.95 L67.58,428.59 L68.28,429.19 L69.02,429.75 L69.78,430.27 L70.57,430.77 L71.38,431.23 L72.21,431.66 L73.06,432.07 L73.93,432.45 L74.82,432.81 L75.71,433.15 L76.62,433.48 L77.54,433.79 L78.47,434.08 L79.41,434.36 L80.35,434.64 L81.29,434.91 L82.24,435.17 L83.19,435.42 L84.14,435.67 L85.10,435.91 L86.06,436.14 L87.02,436.37 L87.98,436.60 L88.95,436.81 L89.92,437.03 L90.89,437.23 L91.86,437.43 L92.84,437.63 L93.81,437.82 L94.79,438.01 L95.77,438.19 L96.76,438.37 L97.74,438.54 L98.73,438.71 L99.72,438.88 L100.71,439.04 L101.70,439.19 L102.69,439.35 L103.69,439.50 L104.68,439.65 L105.68,439.79 L106.68,439.93 L107.67,440.07 L108.67,440.21 L109.67,440.34 L110.67,440.47 L111.68,440.60 L112.68,440.72 L113.68,440.85 L114.69,440.97 L115.69,441.09 L116.69,441.21 L117.70,441.33 L118.70,441.45 L119.71,441.56 L120.71,441.68 L121.71,441.79 L122.72,441.90 L123.72,442.02 L124.73,442.13 L125.73,442.24 L126.73,442.35 L127.74,442.46 L128.74,442.57 L129.75,442.67 L130.75,442.78 L131.75,442.88 L132.76,442.99 L133.76,443.09 L134.76,443.20 L135.77,443.30 L136.77,443.40 L137.77,443.50 L138.78,443.60 L139.78,443.70 L140.78,443.80 L141.79,443.89 L142.79,443.99 L143.79,444.09 L144.79,444.18 L145.80,444.28 L146.80,444.37 L147.80,444.46 L148.81,444.55 L149.81,444.64 L150.81,444.74 L151.81,444.82 L152.82,444.91 L153.82,445.00 L154.82,445.09 L155.82,445.18 L156.83,445.26 L157.83,445.35 L158.83,445.43 L159.83,445.51 L160.84,445.60 L161.84,445.68 L162.84,445.76 L163.84,445.84 L164.85,445.92 L165.85,446.00 L166.85,446.08 L167.85,446.16 L168.85,446.23 L169.86,446.31 L170.86,446.39 L171.86,446.46 L172.86,446.53 L173.86,446.61 L174.86,446.68 L175.87,446.75 L176.87,446.82 L177.87,446.90 L178.87,446.97 L179.87,447.04 L180.87,447.10 L181.88,447.17 L182.88,447.24 L183.88,447.31 L184.88,447.37 L185.88,447.44 L186.88,447.50 L187.88,447.57 L188.89,447.63 L189.89,447.69 L190.89,447.76 L191.89,447.82 L192.89,447.88 L193.89,447.94 L194.89,448.00 L195.89,448.06 L196.89,448.12 L197.90,448.18 L198.90,448.23 L199.90,448.29 L200.90,448.35 L201.90,448.40 L202.90,448.46 L203.90,448.51 L204.90,448.57 L205.90,448.62 L206.90,448.67 L207.90,448.72 L208.90,448.78 L209.91,448.83 L210.91,448.88 L211.91,448.93 L212.91,448.98 L213.91,449.03 L214.91,449.08 L215.91,449.12 L216.91,449.17 L217.91,449.22 L218.91,449.26 L219.91,449.31 L220.91,449.35 L221.91,449.40 L222.91,449.44 L223.91,449.49 L224.91,449.53 L225.91,449.57 L226.91,449.61 L227.91,449.66 L228.91,449.70 L229.91,449.74 L230.91,449.78 L231.91,449.82 L232.92,449.86 L233.92,449.90 L234.92,449.93 L235.92,449.97 L236.92,450.01 L237.92,450.05 L238.92,450.08 L239.92,450.12 L240.92,450.15 L241.92,450.19 L242.92,450.22 L243.92,450.26 L244.92,450.29 L245.92,450.33 L246.92,450.36 L247.92,450.39 L248.92,450.42 L249.92,450.45 L250.92,450.49 L251.92,450.52 L252.92,450.55 L253.92,450.58 L254.92,450.61 L255.92,450.64 L256.92,450.66 L257.92,450.69 L258.92,450.72 L259.92,450.75 L260.92,450.78 L261.92,450.80 L262.92,450.83 L263.92,450.86 L264.92,450.88 L265.92,450.91 L266.92,450.93 L267.91,450.96 L268.91,450.98 L269.91,451.00 L270.91,451.03 L271.91,451.05 L272.91,451.07 L273.91,451.10 L274.91,451.12 L275.91,451.14 L276.91,451.16 L277.91,451.18 L278.91,451.21 L279.91,451.23 L280.91,451.25 L281.91,451.27 L282.91,451.29 L283.91,451.31 L284.91,451.33 L285.91,451.34 L286.91,451.36 L287.91,451.38 L288.91,451.40 L289.91,451.42 L290.91,451.43 L291.91,451.45 L292.91,451.47 L293.91,451.49 L294.91,451.50 L295.91,451.52 L296.91,451.53 L297.91,451.55 L298.91,451.57 L299.91,451.58 L300.91,451.60 L301.91,451.61 L302.91,451.62 L303.91,451.64 L304.91,451.65 L305.91,451.67 L306.91,451.68 L307.91,451.69 L308.91,451.71 L309.91,451.72 L310.91,451.73 L311.91,451.75 L312.91,451.76 L313.91,451.77 L314.91,451.78 L315.91,451.79 L316.91,451.81 L317.91,451.82 L318.91,451.83 L319.91,451.84 L320.91,451.85 L321.91,451.86 L322.91,451.87 L323.91,451.88 L324.91,451.89 L325.91,451.90 L326.91,451.91 L327.91,451.92 L328.91,451.93 L329.91,451.94 L330.91,451.95 L331.91,451.96 L332.91,451.97 L333.91,451.98 L334.91,451.99 L335.91,452.00 L336.91,452.01 L337.92,452.02 L338.92,452.02 L339.92,452.03 L340.92,452.04 L341.92,452.05 L342.92,452.06 L343.92,452.07 L344.92,452.07 L345.92,452.08 L346.92,452.09 L347.92,452.10 L348.92,452.10 L349.92,452.11 L350.92,452.12 L351.92,452.13 L352.92,452.14 L353.92,452.14 L354.93,452.15 L355.93,452.16 L356.93,452.16 L357.93,452.17 L358.93,452.18 L359.93,452.19 L360.93,452.19 L361.93,452.20 L362.93,452.21 L363.93,452.22 L364.94,452.22 L365.94,452.23 L366.94,452.24 L367.94,452.24 L368.94,452.25 L369.94,452.26 L370.94,452.27 L371.94,452.27 L372.94,452.28 L373.95,452.29 L374.95,452.29 L375.95,452.30 L376.95,452.31 L377.95,452.32 L378.95,452.32 L379.96,452.33 L380.96,452.34 L381.96,452.35 L382.96,452.35 L383.96,452.36 L384.96,452.37 L385.97,452.38 L386.97,452.38 L387.97,452.39 L388.97,452.40 L389.97,452.41 L390.97,452.42 L391.98,452.42 L392.98,452.43 L393.98,452.44 L394.98,452.45 L395.99,452.46 L396.99,452.47 L397.99,452.48 L398.99,452.48 L399.99,452.49 L401.00,452.50 L402.00,452.51 L403.00,452.52 L404.00,452.53 L405.01,452.54 L406.01,452.55 L407.01,452.56 L408.01,452.57 L409.02,452.58 L410.02,452.59 L411.02,452.60 L412.03,452.61 L413.03,452.62 L414.03,452.63 L415.03,452.65 L416.04,452.66 L417.04,452.67 L418.04,452.68 L419.05,452.69 L420.05,452.70 L421.05,452.72 L422.06,452.73 L423.06,452.74 L424.06,452.75 L425.07,452.77 L426.07,452.78 L427.07,452.79 L428.08,452.81 L429.08,452.82 L430.09,452.84 L431.09,452.85 L432.09,452.86 L433.10,452.88 L434.10,452.89 L435.10,452.91 L436.11,452.92 L437.11,452.94 L438.12,452.96 L439.12,452.97 L440.13,452.99 L441.13,453.01 L442.13,453.02 L443.14,453.04 L444.14,453.06 L445.15,453.08 L446.15,453.09 L447.16,453.11 L448.16,453.13 L449.17,453.15 L450.17,453.17 L451.18,453.19 L452.18,453.21 L453.19,453.23 L454.19,453.25 L455.20,453.27 L456.20,453.29 L457.21,453.31 L458.21,453.33 L459.22,453.36 L460.22,453.38 L461.23,453.40 L462.23,453.42 L463.24,453.45 L464.25,453.47 L465.25,453.50 L466.26,453.52 L467.26,453.54 L468.27,453.57 L469.28,453.59 L470.28,453.62 L471.29,453.65 L472.29,453.67 L473.30,453.70" fill="none" stroke="#000" stroke-width="2.50" stroke-linejoin="round" stroke-linecap="butt" stroke-dasharray="2.3 2.45"/>
<path d="M62.19,417.00 L62.47,418.15 L62.79,419.25 L63.16,420.28 L63.57,421.26 L64.03,422.18 L64.53,423.05 L65.07,423.87 L65.64,424.64 L66.26,425.37 L66.90,426.05 L67.58,426.69 L68.28,427.29 L69.02,427.85 L69.78,428.37 L70.57,428.87 L71.38,429.33 L72.21,429.76 L73.06,430.17 L73.93,430.55 L74.82,430.91 L75.71,431.25 L76.62,431.58 L77.54,431.89 L78.47,432.18 L79.41,432.46 L80.35,432.74 L81.29,433.01 L82.24,433.27 L83.19,433.52 L84.14,433.77 L85.10,434.01 L86.06,434.24 L87.02,434.47 L87.98,434.70 L88.95,434.91 L89.92,435.13 L90.89,435.33 L91.86,435.53 L92.84,435.73 L93.81,435.92 L94.79,436.11 L95.77,436.29 L96.76,436.47 L97.74,436.64 L98.73,436.81 L99.72,436.98 L100.71,437.14 L101.70,437.29 L102.69,437.45 L103.69,437.60 L104.68,437.75 L105.68,437.89 L106.68,438.03 L107.67,438.17 L108.67,438.31 L109.67,438.44 L110.67,438.57 L111.68,438.70 L112.68,438.82 L113.68,438.95 L114.69,439.07 L115.69,439.19 L116.69,439.31 L117.70,439.43 L118.70,439.55 L119.71,439.66 L120.71,439.78 L121.71,439.89 L122.72,440.00 L123.72,440.12 L124.73,440.23 L125.73,440.34 L126.73,440.45 L127.74,440.56 L128.74,440.67 L129.75,440.77 L130.75,440.88 L131.75,440.98 L132.76,441.09 L133.76,441.19 L134.76,441.30 L135.77,441.40 L136.77,441.50 L137.77,441.60 L138.78,441.70 L139.78,441.80 L140.78,441.90 L141.79,441.99 L142.79,442.09 L143.79,442.19 L144.79,442.28 L145.80,442.38 L146.80,442.47 L147.80,442.56 L148.81,442.65 L149.81,442.74 L150.81,442.84 L151.81,442.92 L152.82,443.01 L153.82,443.10 L154.82,443.19 L155.82,443.28 L156.83,443.36 L157.83,443.45 L158.83,443.53 L159.83,443.61 L160.84,443.70 L161.84,443.78 L162.84,443.86 L163.84,443.94 L164.85,444.02 L165.85,444.10 L166.85,444.18 L167.85,444.26 L168.85,444.33 L169.86,444.41 L170.86,444.49 L171.86,444.56 L172.86,444.63 L173.86,444.71 L174.86,444.78 L175.87,444.85 L176.87,444.92 L177.87,445.00 L178.87,445.07 L179.87,445.14 L180.87,445.20 L181.88,445.27 L182.88,445.34 L183.88,445.41 L184.88,445.47 L185.88,445.54 L186.88,445.60 L187.88,445.67 L188.89,445.73 L189.89,445.79 L190.89,445.86 L191.89,445.92 L192.89,445.98 L193.89,446.04 L194.89,446.10 L195.89,446.16 L196.89,446.22 L197.90,446.28 L198.90,446.33 L199.90,446.39 L200.90,446.45 L201.90,446.50 L202.90,446.56 L203.90,446.61 L204.90,446.67 L205.90,446.72 L206.90,446.77 L207.90,446.82 L208.90,446.88 L209.91,446.93 L210.91,446.98 L211.91,447.03 L212.91,447.08 L213.91,447.13 L214.91,447.18 L215.91,447.22 L216.91,447.27 L217.91,447.32 L218.91,447.36 L219.91,447.41 L220.91,447.45 L221.91,447.50 L222.91,447.54 L223.91,447.59 L224.91,447.63 L225.91,447.67 L226.91,447.71 L227.91,447.76 L228.91,447.80 L229.91,447.84 L230.91,447.88 L231.91,447.92 L232.92,447.96 L233.92,448.00 L234.92,448.03 L235.92,448.07 L236.92,448.11 L237.92,448.15 L238.92,448.18 L239.92,448.22 L240.92,448.25 L241.92,448.29 L242.92,448.32 L243.92,448.36 L244.92,448.39 L245.92,448.43 L246.92,448.46 L247.92,448.49 L248.92,448.52 L249.92,448.55 L250.92,448.59 L251.92,448.62 L252.92,448.65 L253.92,448.68 L254.92,448.71 L255.92,448.74 L256.92,448.76 L257.92,448.79 L258.92,448.82 L259.92,448.85 L260.92,448.88 L261.92,448.90 L262.92,448.93 L263.92,448.96 L264.92,448.98 L265.92,449.01 L266.92,449.03 L267.91,449.06 L268.91,449.08 L269.91,449.10 L270.91,449.13 L271.91,449.15 L272.91,449.17 L273.91,449.20 L274.91,449.22 L275.91,449.24 L276.91,449.26 L277.91,449.28 L278.91,449.31 L279.91,449.33 L280.91,449.35 L281.91,449.37 L282.91,449.39 L283.91,449.41 L284.91,449.43 L285.91,449.44 L286.91,449.46 L287.91,449.48 L288.91,449.50 L289.91,449.52 L290.91,449.53 L291.91,449.55 L292.91,449.57 L293.91,449.59 L294.91,449.60 L295.91,449.62 L296.91,449.63 L297.91,449.65 L298.91,449.67 L299.91,449.68 L300.91,449.70 L301.91,449.71 L302.91,449.72 L303.91,449.74 L304.91,449.75 L305.91,449.77 L306.91,449.78 L307.91,449.79 L308.91,449.81 L309.91,449.82 L310.91,449.83 L311.91,449.85 L312.91,449.86 L313.91,449.87 L314.91,449.88 L315.91,449.89 L316.91,449.91 L317.91,449.92 L318.91,449.93 L319.91,449.94 L320.91,449.95 L321.91,449.96 L322.91,449.97 L323.91,449.98 L324.91,449.99 L325.91,450.00 L326.91,450.01 L327.91,450.02 L328.91,450.03 L329.91,450.04 L330.91,450.05 L331.91,450.06 L332.91,450.07 L333.91,450.08 L334.91,450.09 L335.91,450.10 L336.91,450.11 L337.92,450.12 L338.92,450.12 L339.92,450.13 L340.92,450.14 L341.92,450.15 L342.92,450.16 L343.92,450.17 L344.92,450.17 L345.92,450.18 L346.92,450.19 L347.92,450.20 L348.92,450.20 L349.92,450.21 L350.92,450.22 L351.92,450.23 L352.92,450.24 L353.92,450.24 L354.93,450.25 L355.93,450.26 L356.93,450.26 L357.93,450.27 L358.93,450.28 L359.93,450.29 L360.93,450.29 L361.93,450.30 L362.93,450.31 L363.93,450.32 L364.94,450.32 L365.94,450.33 L366.94,450.34 L367.94,450.34 L368.94,450.35 L369.94,450.36 L370.94,450.37 L371.94,450.37 L372.94,450.38 L373.95,450.39 L374.95,450.39 L375.95,450.40 L376.95,450.41 L377.95,450.42 L378.95,450.42 L379.96,450.43 L380.96,450.44 L381.96,450.45 L382.96,450.45 L383.96,450.46 L384.96,450.47 L385.97,450.48 L386.97,450.48 L387.97,450.49 L388.97,450.50 L389.97,450.51 L390.97,450.52 L391.98,450.52 L392.98,450.53 L393.98,450.54 L394.98,450.55 L395.99,450.56 L396.99,450.57 L397.99,450.58 L398.99,450.58 L399.99,450.59 L401.00,450.60 L402.00,450.61 L403.00,450.62 L404.00,450.63 L405.01,450.64 L406.01,450.65 L407.01,450.66 L408.01,450.67 L409.02,450.68 L410.02,450.69 L411.02,450.70 L412.03,450.71 L413.03,450.72 L414.03,450.73 L415.03,450.75 L416.04,450.76 L417.04,450.77 L418.04,450.78 L419.05,450.79 L420.05,450.80 L421.05,450.82 L422.06,450.83 L423.06,450.84 L424.06,450.85 L425.07,450.87 L426.07,450.88 L427.07,450.89 L428.08,450.91 L429.08,450.92 L430.09,450.94 L431.09,450.95 L432.09,450.96 L433.10,450.98 L434.10,450.99 L435.10,451.01 L436.11,451.02 L437.11,451.04 L438.12,451.06 L439.12,451.07 L440.13,451.09 L441.13,451.11 L442.13,451.12 L443.14,451.14 L444.14,451.16 L445.15,451.18 L446.15,451.19 L447.16,451.21 L448.16,451.23 L449.17,451.25 L450.17,451.27 L451.18,451.29 L452.18,451.31 L453.19,451.33 L454.19,451.35 L455.20,451.37 L456.20,451.39 L457.21,451.41 L458.21,451.43 L459.22,451.46 L460.22,451.48 L461.23,451.50 L462.23,451.52 L463.24,451.55 L464.25,451.57 L465.25,451.60 L466.26,451.62 L467.26,451.64 L468.27,451.67 L469.28,451.69 L470.28,451.72 L471.29,451.75 L472.29,451.77 L473.30,451.80" fill="none" stroke="#000" stroke-width="2.40" stroke-linejoin="round" stroke-linecap="butt" stroke-dasharray="6.3 1.7"/>
<path d="M62.10,335.60 L62.15,336.50 L62.20,337.42 L62.27,338.36 L62.35,339.32 L62.44,340.29 L62.55,341.28 L62.67,342.27 L62.81,343.28 L62.96,344.30 L63.13,345.32 L63.31,346.35 L63.51,347.38 L63.73,348.41 L63.97,349.44 L64.22,350.46 L64.50,351.48 L64.79,352.50 L65.11,353.51 L65.44,354.50 L65.80,355.49 L66.18,356.46 L66.58,357.42 L67.01,358.36 L67.45,359.28 L67.93,360.18 L68.42,361.05 L68.94,361.90 L69.49,362.73 L70.07,363.53 L70.67,364.29 L71.29,365.03 L71.95,365.73 L72.64,366.39 L73.35,367.02 L74.09,367.61 L74.86,368.17 L75.65,368.69 L76.47,369.19 L77.31,369.65 L78.16,370.10 L79.03,370.52 L79.92,370.93 L80.82,371.33 L81.73,371.71 L82.64,372.08 L83.56,372.45 L84.48,372.82 L85.41,373.19 L86.33,373.57 L87.25,373.95 L88.17,374.33 L89.09,374.72 L90.01,375.11 L90.92,375.51 L91.84,375.92 L92.75,376.32 L93.66,376.74 L94.57,377.15 L95.48,377.57 L96.38,377.99 L97.29,378.42 L98.19,378.84 L99.10,379.27 L100.00,379.71 L100.91,380.14 L101.81,380.58 L102.71,381.01 L103.61,381.45 L104.52,381.89 L105.42,382.34 L106.32,382.78 L107.22,383.22 L108.12,383.66 L109.02,384.11 L109.93,384.55 L110.83,384.99 L111.73,385.43 L112.63,385.87 L113.54,386.31 L114.44,386.75 L115.35,387.19 L116.26,387.62 L117.16,388.06 L118.07,388.49 L118.98,388.92 L119.89,389.35 L120.80,389.78 L121.71,390.20 L122.62,390.63 L123.53,391.05 L124.44,391.48 L125.36,391.90 L126.27,392.32 L127.18,392.74 L128.10,393.16 L129.01,393.57 L129.93,393.99 L130.85,394.40 L131.76,394.82 L132.68,395.23 L133.60,395.64 L134.51,396.05 L135.43,396.46 L136.35,396.87 L137.27,397.28 L138.19,397.68 L139.11,398.09 L140.03,398.49 L140.95,398.90 L141.87,399.30 L142.79,399.70 L143.71,400.10 L144.64,400.50 L145.56,400.90 L146.48,401.30 L147.40,401.70 L148.32,402.10 L149.25,402.49 L150.17,402.89 L151.09,403.28 L152.01,403.68 L152.94,404.07 L153.86,404.47 L154.78,404.86 L155.71,405.25 L156.63,405.65 L157.55,406.04 L158.48,406.43 L159.40,406.82 L160.32,407.21 L161.25,407.60 L162.17,407.99 L163.09,408.38 L164.02,408.77 L164.94,409.16 L165.86,409.55 L166.78,409.93 L167.71,410.32 L168.63,410.71 L169.55,411.10 L170.47,411.48 L171.39,411.87 L172.31,412.26 L173.24,412.65 L174.16,413.03 L175.08,413.42 L176.00,413.80 L176.92,414.19 L177.84,414.58 L178.76,414.96 L179.68,415.35 L180.60,415.73 L181.53,416.12 L182.45,416.50 L183.37,416.89 L184.29,417.27 L185.21,417.66 L186.13,418.04 L187.05,418.42 L187.97,418.81 L188.89,419.19 L189.81,419.57 L190.73,419.96 L191.65,420.34 L192.57,420.72 L193.49,421.10 L194.41,421.49 L195.33,421.87 L196.25,422.25 L197.17,422.63 L198.09,423.02 L199.01,423.40 L199.93,423.78 L200.85,424.16 L201.77,424.54 L202.69,424.92 L203.61,425.30 L204.53,425.68 L205.45,426.06 L206.37,426.44 L207.29,426.83 L208.21,427.21 L209.13,427.59 L210.05,427.97 L210.97,428.35 L211.89,428.73 L212.81,429.10 L213.73,429.48 L214.65,429.86 L215.57,430.24 L216.50,430.62 L217.42,431.00 L218.34,431.38 L219.26,431.76 L220.18,432.14 L221.10,432.52 L222.02,432.90 L222.95,433.27 L223.87,433.65 L224.79,434.03 L225.71,434.41 L226.63,434.79 L227.56,435.16 L228.48,435.54 L229.40,435.92 L230.33,436.30 L231.25,436.68 L232.17,437.05 L233.10,437.43 L234.02,437.81 L234.95,438.19 L235.87,438.56 L236.79,438.94 L237.72,439.32 L238.64,439.70 L239.57,440.07 L240.49,440.45 L241.42,440.83 L242.35,441.20 L243.27,441.58 L244.20,441.96 L245.12,442.34 L246.05,442.71 L246.98,443.09 L247.91,443.47 L248.83,443.84 L249.76,444.22 L250.69,444.60 L251.62,444.97 L252.55,445.35 L253.48,445.73 L254.41,446.10 L255.34,446.48 L256.27,446.86 L257.20,447.23 L258.13,447.61 L259.06,447.99 L259.99,448.36 L260.92,448.74 L261.85,449.12 L262.78,449.49 L263.72,449.87 L264.65,450.24 L265.58,450.62 L266.52,451.00 L267.45,451.37 L268.39,451.75 L269.32,452.12 L270.26,452.50 L271.19,452.87 L272.13,453.24 L273.06,453.61 L274.00,453.99 L274.94,454.36 L275.87,454.73 L276.81,455.10 L277.75,455.46 L278.69,455.83 L279.63,456.20 L280.57,456.56 L281.51,456.93 L282.45,457.29 L283.39,457.65 L284.33,458.01 L285.27,458.37 L286.22,458.73 L287.16,459.08 L288.10,459.44 L289.05,459.79 L289.99,460.14 L290.94,460.49 L291.88,460.84 L292.83,461.18 L293.77,461.53 L294.72,461.87 L295.67,462.21 L296.61,462.55 L297.56,462.89 L298.51,463.22 L299.46,463.55 L300.41,463.88 L301.36,464.21 L302.31,464.53 L303.26,464.86 L304.22,465.18 L305.17,465.49 L306.12,465.81 L307.08,466.12 L308.03,466.43 L308.99,466.74 L309.94,467.04 L310.90,467.34 L311.85,467.64 L312.81,467.94 L313.77,468.23 L314.73,468.52 L315.69,468.80 L316.65,469.09 L317.61,469.37 L318.57,469.64 L319.53,469.92 L320.49,470.19 L321.46,470.45 L322.42,470.72 L323.38,470.98 L324.35,471.23 L325.31,471.48 L326.28,471.73 L327.25,471.98 L328.21,472.22 L329.18,472.46 L330.15,472.69 L331.12,472.92 L332.09,473.14 L333.06,473.36 L334.03,473.58 L335.01,473.79 L335.98,474.00 L336.95,474.21 L337.93,474.41 L338.90,474.60 L339.88,474.79 L340.86,474.98 L341.83,475.16 L342.81,475.34 L343.79,475.51 L344.77,475.68 L345.75,475.84 L346.73,476.00 L347.72,476.15 L348.70,476.30 L349.70,476.21 L350.71,476.11 L351.71,476.02 L352.71,475.93 L353.72,475.83 L354.72,475.74 L355.72,475.64 L356.73,475.54 L357.73,475.45 L358.73,475.35 L359.73,475.26 L360.74,475.16 L361.74,475.06 L362.74,474.96 L363.75,474.87 L364.75,474.77 L365.75,474.67 L366.75,474.57 L367.76,474.47 L368.76,474.37 L369.76,474.27 L370.77,474.18 L371.77,474.08 L372.77,473.98 L373.78,473.88 L374.78,473.78 L375.78,473.68 L376.78,473.58 L377.79,473.48 L378.79,473.38 L379.79,473.28 L380.80,473.19 L381.80,473.09 L382.80,472.99 L383.81,472.89 L384.81,472.79 L385.81,472.69 L386.82,472.59 L387.82,472.50 L388.82,472.40 L389.82,472.30 L390.83,472.20 L391.83,472.11 L392.83,472.01 L393.84,471.91 L394.84,471.82 L395.84,471.72 L396.85,471.63 L397.85,471.53 L398.86,471.44 L399.86,471.34 L400.86,471.25 L401.87,471.16 L402.87,471.07 L403.87,470.97 L404.88,470.88 L405.88,470.79 L406.88,470.70 L407.89,470.61 L408.89,470.52 L409.90,470.43 L410.90,470.34 L411.90,470.26 L412.91,470.17 L413.91,470.08 L414.92,470.00 L415.92,469.91 L416.93,469.83 L417.93,469.74 L418.93,469.66 L419.94,469.58 L420.94,469.50 L421.95,469.42 L422.95,469.34 L423.96,469.26 L424.96,469.18 L425.97,469.10 L426.97,469.03 L427.98,468.95 L428.98,468.88 L429.99,468.80 L430.99,468.73 L432.00,468.66 L433.00,468.59 L434.01,468.52 L435.02,468.45 L436.02,468.39 L437.03,468.32 L438.03,468.25 L439.04,468.19 L440.04,468.13 L441.05,468.07 L442.06,468.01 L443.06,467.95 L444.07,467.89 L445.08,467.83 L446.08,467.78 L447.09,467.72 L448.10,467.67 L449.10,467.62 L450.11,467.56 L451.12,467.52 L452.12,467.47 L453.13,467.42 L454.14,467.38 L455.15,467.33 L456.15,467.29 L457.16,467.25 L458.17,467.21 L459.18,467.17 L460.19,467.13 L461.19,467.10 L462.20,467.07 L463.21,467.03 L464.22,467.00 L465.23,466.97 L466.24,466.95 L467.24,466.92 L468.25,466.90 L469.26,466.87 L470.27,466.85 L471.28,466.83 L472.29,466.82 L473.30,466.80" fill="none" stroke="#008000" stroke-width="2.20" stroke-linejoin="round" stroke-linecap="round"/>
<path d="M62.25,588.75 L65.10,588.10 L65.29,587.11 L65.49,586.12 L65.68,585.13 L65.88,584.14 L66.07,583.15 L66.27,582.16 L66.46,581.18 L66.66,580.19 L66.85,579.20 L67.05,578.21 L67.25,577.23 L67.44,576.24 L67.64,575.26 L67.84,574.27 L68.04,573.28 L68.24,572.30 L68.44,571.32 L68.64,570.33 L68.84,569.35 L69.04,568.37 L69.24,567.38 L69.45,566.40 L69.65,565.42 L69.86,564.44 L70.06,563.46 L70.27,562.48 L70.47,561.49 L70.68,560.51 L70.89,559.54 L71.10,558.56 L71.31,557.58 L71.53,556.60 L71.74,555.62 L71.95,554.64 L72.17,553.67 L72.38,552.69 L72.60,551.71 L72.82,550.74 L73.04,549.76 L73.26,548.79 L73.48,547.81 L73.70,546.84 L73.93,545.86 L74.15,544.89 L74.38,543.91 L74.61,542.94 L74.84,541.97 L75.07,541.00 L75.30,540.02 L75.54,539.05 L75.77,538.08 L76.01,537.11 L76.25,536.14 L76.49,535.17 L76.73,534.20 L76.97,533.23 L77.22,532.26 L77.46,531.29 L77.71,530.33 L77.96,529.36 L78.21,528.39 L78.47,527.42 L78.72,526.46 L78.98,525.49 L79.24,524.53 L79.50,523.56 L79.76,522.59 L80.02,521.63 L80.29,520.67 L80.56,519.70 L80.83,518.74 L81.10,517.77 L81.37,516.81 L81.65,515.85 L81.93,514.89 L82.21,513.93 L82.49,512.96 L82.77,512.00 L83.06,511.04 L83.35,510.08 L83.64,509.12 L83.93,508.16 L84.23,507.20 L84.53,506.25 L84.83,505.29 L85.13,504.33 L85.43,503.37 L85.74,502.41 L86.05,501.46 L86.36,500.50 L86.68,499.55 L86.99,498.59 L87.31,497.63 L87.64,496.68 L87.96,495.72 L88.29,494.77 L88.62,493.82 L88.95,492.86 L89.29,491.91 L89.62,490.96 L89.97,490.01 L90.31,489.06 L90.66,488.11 L91.01,487.16 L91.37,486.22 L91.72,485.27 L92.09,484.33 L92.45,483.39 L92.82,482.45 L93.20,481.51 L93.58,480.58 L93.96,479.64 L94.34,478.71 L94.74,477.78 L95.13,476.86 L95.53,475.94 L95.94,475.01 L96.35,474.10 L96.76,473.18 L97.18,472.27 L97.60,471.36 L98.03,470.46 L98.47,469.56 L98.91,468.66 L99.36,467.77 L99.81,466.88 L100.27,465.99 L100.73,465.11 L101.20,464.23 L101.67,463.35 L102.16,462.48 L102.64,461.62 L103.14,460.76 L103.64,459.90 L104.15,459.05 L104.66,458.21 L105.18,457.37 L105.71,456.53 L106.24,455.70 L106.78,454.88 L107.34,454.06 L107.91,453.25 L108.49,452.46 L109.09,451.67 L109.71,450.90 L110.36,450.15 L111.02,449.40 L111.72,448.68 L112.44,447.97 L113.19,447.29 L113.97,446.62 L114.77,445.97 L115.59,445.35 L116.43,444.74 L117.29,444.15 L118.16,443.59 L119.04,443.05 L119.93,442.53 L120.83,442.03 L121.73,441.56 L122.64,441.10 L123.55,440.67 L124.47,440.27 L125.39,439.88 L126.32,439.52 L127.25,439.17 L128.19,438.85 L129.13,438.56 L130.07,438.28 L131.02,438.02 L131.97,437.79 L132.93,437.57 L133.89,437.38 L134.85,437.21 L135.81,437.05 L136.78,436.92 L137.75,436.81 L138.72,436.72 L139.70,436.65 L140.68,436.60 L141.65,436.57 L142.64,436.55 L143.62,436.56 L144.60,436.59 L145.59,436.63 L146.57,436.70 L147.56,436.78 L148.55,436.88 L149.54,436.99 L150.52,437.12 L151.51,437.27 L152.50,437.44 L153.49,437.62 L154.48,437.81 L155.47,438.02 L156.45,438.24 L157.44,438.47 L158.43,438.72 L159.41,438.98 L160.39,439.25 L161.37,439.54 L162.35,439.83 L163.33,440.13 L164.31,440.45 L165.28,440.77 L166.25,441.10 L167.22,441.44 L168.18,441.79 L169.15,442.14 L170.11,442.50 L171.07,442.86 L172.02,443.23 L172.98,443.60 L173.93,443.97 L174.88,444.35 L175.83,444.72 L176.77,445.10 L177.72,445.47 L178.66,445.84 L179.60,446.20 L180.53,446.57 L181.47,446.93 L182.40,447.30 L183.33,447.66 L184.26,448.02 L185.19,448.39 L186.12,448.75 L187.04,449.12 L187.97,449.48 L188.89,449.85 L189.81,450.22 L190.73,450.59 L191.64,450.97 L192.56,451.35 L193.47,451.74 L194.39,452.12 L195.30,452.52 L196.21,452.91 L197.11,453.32 L198.02,453.73 L198.93,454.14 L199.83,454.55 L200.74,454.97 L201.64,455.40 L202.54,455.83 L203.44,456.26 L204.34,456.69 L205.24,457.13 L206.14,457.57 L207.04,458.01 L207.93,458.46 L208.83,458.90 L209.72,459.35 L210.62,459.80 L211.51,460.26 L212.40,460.71 L213.30,461.17 L214.19,461.62 L215.08,462.08 L215.97,462.54 L216.86,463.00 L217.75,463.45 L218.64,463.91 L219.53,464.37 L220.42,464.83 L221.31,465.29 L222.19,465.74 L223.08,466.20 L223.97,466.65 L224.86,467.10 L225.75,467.56 L226.64,468.01 L227.52,468.46 L228.41,468.91 L229.30,469.35 L230.19,469.80 L231.08,470.25 L231.97,470.69 L232.85,471.14 L233.74,471.58 L234.63,472.02 L235.52,472.47 L236.41,472.91 L237.30,473.35 L238.20,473.79 L239.09,474.23 L239.98,474.67 L240.87,475.11 L241.77,475.54 L242.66,475.98 L243.56,476.42 L244.45,476.86 L245.35,477.29 L246.25,477.73 L247.14,478.17 L248.04,478.60 L248.94,479.04 L249.84,479.48 L250.75,479.91 L251.65,480.35 L252.55,480.78 L253.46,481.22 L254.37,481.66 L255.27,482.09 L256.18,482.53 L257.09,482.97 L258.00,483.40 L258.92,483.84 L259.83,484.28 L260.75,484.72 L261.66,485.16 L262.58,485.60 L263.50,486.04 L264.43,486.48 L265.35,486.92 L266.27,487.36 L267.20,487.80 L268.05,487.09 L268.90,486.43 L269.77,485.81 L270.64,485.23 L271.52,484.69 L272.40,484.19 L273.29,483.72 L274.18,483.28 L275.08,482.87 L275.99,482.48 L276.90,482.13 L277.81,481.79 L278.74,481.48 L279.66,481.19 L280.59,480.91 L281.52,480.65 L282.46,480.40 L283.40,480.16 L284.34,479.93 L285.29,479.70 L286.23,479.48 L287.19,479.27 L288.14,479.06 L289.10,478.85 L290.06,478.65 L291.02,478.45 L291.98,478.26 L292.95,478.07 L293.92,477.88 L294.89,477.70 L295.86,477.52 L296.84,477.34 L297.82,477.17 L298.80,477.00 L299.78,476.84 L300.76,476.68 L301.75,476.52 L302.73,476.37 L303.72,476.21 L304.71,476.07 L305.71,475.92 L306.70,475.78 L307.69,475.64 L308.69,475.50 L309.69,475.37 L310.69,475.24 L311.69,475.11 L312.69,474.99 L313.69,474.87 L314.69,474.75 L315.70,474.63 L316.70,474.51 L317.71,474.40 L318.72,474.29 L319.72,474.18 L320.73,474.07 L321.74,473.97 L322.75,473.87 L323.76,473.77 L324.77,473.67 L325.78,473.57 L326.79,473.47 L327.80,473.38 L328.81,473.29 L329.82,473.19 L330.83,473.11 L331.84,473.02 L332.86,472.93 L333.87,472.84 L334.88,472.76 L335.89,472.67 L336.90,472.59 L337.91,472.51 L338.92,472.43 L339.92,472.35 L340.93,472.27 L341.94,472.19 L342.95,472.11 L343.96,472.04 L344.96,471.96 L345.97,471.89 L346.98,471.81 L347.98,471.74 L348.99,471.67 L350.00,471.60 L351.00,471.53 L352.01,471.46 L353.01,471.39 L354.02,471.32 L355.02,471.26 L356.03,471.19 L357.03,471.12 L358.03,471.06 L359.04,471.00 L360.04,470.94 L361.04,470.87 L362.05,470.81 L363.05,470.75 L364.05,470.69 L365.05,470.64 L366.06,470.58 L367.06,470.52 L368.06,470.47 L369.06,470.41 L370.06,470.36 L371.06,470.30 L372.07,470.25 L373.07,470.20 L374.07,470.15 L375.07,470.10 L376.07,470.05 L377.07,470.00 L378.07,469.95 L379.07,469.91 L380.07,469.86 L381.07,469.81 L382.07,469.77 L383.07,469.73 L384.07,469.68 L385.07,469.64 L386.07,469.60 L387.06,469.56 L388.06,469.52 L389.06,469.48 L390.06,469.44 L391.06,469.40 L392.06,469.36 L393.06,469.32 L394.06,469.29 L395.06,469.25 L396.06,469.22 L397.05,469.18 L398.05,469.15 L399.05,469.12 L400.05,469.09 L401.05,469.05 L402.05,469.02 L403.05,468.99 L404.05,468.96 L405.04,468.93 L406.04,468.91 L407.04,468.88 L408.04,468.85 L409.04,468.82 L410.04,468.80 L411.04,468.77 L412.04,468.75 L413.04,468.72 L414.03,468.70 L415.03,468.68 L416.03,468.66 L417.03,468.63 L418.03,468.61 L419.03,468.59 L420.03,468.57 L421.03,468.55 L422.03,468.53 L423.03,468.52 L424.03,468.50 L425.03,468.48 L426.03,468.46 L427.03,468.45 L428.03,468.43 L429.03,468.42 L430.03,468.40 L431.04,468.39 L432.04,468.37 L433.04,468.36 L434.04,468.35 L435.04,468.34 L436.04,468.33 L437.05,468.31 L438.05,468.30 L439.05,468.29 L440.05,468.28 L441.06,468.27 L442.06,468.27 L443.06,468.26 L444.07,468.25 L445.07,468.24 L446.08,468.24 L447.08,468.23 L448.08,468.22 L449.09,468.22 L450.09,468.21 L451.10,468.21 L452.11,468.20 L453.11,468.20 L454.12,468.20 L455.12,468.19 L456.13,468.19 L457.14,468.19 L458.15,468.19 L459.15,468.18 L460.16,468.18 L461.17,468.18 L462.18,468.18 L463.19,468.18 L464.20,468.18 L465.21,468.18 L466.22,468.18 L467.23,468.18 L468.24,468.19 L469.25,468.19 L470.26,468.19 L471.27,468.19 L472.29,468.20 L473.30,468.20" fill="none" stroke="#7030A0" stroke-width="2.20" stroke-linejoin="round" stroke-linecap="round"/>
<path d="M62.40,463.10 L64.90,470.00 L65.48,469.30 L66.06,468.58 L66.63,467.85 L67.21,467.10 L67.79,466.35 L68.37,465.58 L68.95,464.81 L69.54,464.03 L70.13,463.24 L70.72,462.44 L71.31,461.64 L71.91,460.84 L72.52,460.03 L73.12,459.22 L73.73,458.41 L74.35,457.59 L74.97,456.78 L75.60,455.97 L76.23,455.16 L76.87,454.35 L77.52,453.55 L78.17,452.75 L78.83,451.96 L79.50,451.17 L80.17,450.39 L80.86,449.62 L81.55,448.86 L82.25,448.11 L82.95,447.38 L83.67,446.65 L84.40,445.93 L85.13,445.23 L85.88,444.55 L86.64,443.88 L87.41,443.23 L88.18,442.59 L88.97,441.98 L89.77,441.38 L90.59,440.81 L91.41,440.25 L92.25,439.72 L93.10,439.21 L93.96,438.72 L94.83,438.25 L95.71,437.80 L96.60,437.37 L97.50,436.96 L98.41,436.57 L99.33,436.20 L100.26,435.84 L101.19,435.51 L102.14,435.19 L103.08,434.89 L104.04,434.61 L105.00,434.34 L105.97,434.09 L106.94,433.86 L107.91,433.64 L108.89,433.44 L109.88,433.25 L110.87,433.08 L111.86,432.92 L112.85,432.78 L113.85,432.64 L114.84,432.53 L115.84,432.42 L116.84,432.33 L117.84,432.25 L118.83,432.18 L119.83,432.12 L120.83,432.07 L121.82,432.03 L122.82,432.01 L123.81,431.99 L124.80,431.99 L125.80,432.00 L126.79,432.01 L127.78,432.04 L128.76,432.08 L129.75,432.13 L130.74,432.19 L131.72,432.26 L132.71,432.35 L133.69,432.44 L134.67,432.54 L135.65,432.66 L136.64,432.78 L137.62,432.91 L138.59,433.06 L139.57,433.22 L140.55,433.38 L141.53,433.56 L142.51,433.75 L143.48,433.94 L144.46,434.15 L145.43,434.36 L146.40,434.59 L147.38,434.82 L148.35,435.06 L149.32,435.30 L150.29,435.55 L151.27,435.81 L152.24,436.07 L153.21,436.34 L154.18,436.62 L155.15,436.89 L156.11,437.17 L157.08,437.46 L158.05,437.75 L159.02,438.04 L159.99,438.33 L160.95,438.62 L161.92,438.92 L162.89,439.21 L163.85,439.51 L164.82,439.81 L165.79,440.10 L166.75,440.40 L167.72,440.69 L168.68,440.98 L169.65,441.27 L170.61,441.56 L171.58,441.85 L172.54,442.14 L173.51,442.42 L174.47,442.71 L175.44,443.00 L176.40,443.28 L177.37,443.56 L178.33,443.85 L179.30,444.13 L180.26,444.41 L181.22,444.69 L182.19,444.97 L183.15,445.25 L184.11,445.53 L185.08,445.81 L186.04,446.09 L187.00,446.36 L187.97,446.64 L188.93,446.92 L189.89,447.19 L190.86,447.47 L191.82,447.75 L192.78,448.02 L193.75,448.30 L194.71,448.57 L195.67,448.85 L196.63,449.12 L197.60,449.40 L198.56,449.67 L199.52,449.95 L200.48,450.22 L201.45,450.50 L202.41,450.77 L203.37,451.05 L204.33,451.32 L205.30,451.60 L206.26,451.87 L207.22,452.15 L208.18,452.42 L209.15,452.70 L210.11,452.97 L211.07,453.25 L212.03,453.52 L212.99,453.80 L213.96,454.07 L214.92,454.35 L215.88,454.62 L216.84,454.89 L217.81,455.17 L218.77,455.44 L219.73,455.71 L220.69,455.98 L221.66,456.26 L222.62,456.53 L223.58,456.80 L224.55,457.07 L225.51,457.34 L226.47,457.61 L227.44,457.88 L228.40,458.15 L229.36,458.42 L230.33,458.69 L231.29,458.95 L232.25,459.22 L233.22,459.49 L234.18,459.75 L235.14,460.02 L236.11,460.28 L237.07,460.55 L238.04,460.81 L239.00,461.07 L239.96,461.33 L240.93,461.59 L241.89,461.85 L242.86,462.11 L243.82,462.37 L244.79,462.63 L245.75,462.89 L246.72,463.14 L247.69,463.40 L248.65,463.65 L249.62,463.91 L250.58,464.16 L251.55,464.41 L252.52,464.66 L253.48,464.91 L254.45,465.16 L255.42,465.41 L256.38,465.66 L257.35,465.90 L258.32,466.15 L259.29,466.39 L260.25,466.63 L261.22,466.88 L262.19,467.12 L263.16,467.35 L264.13,467.59 L265.10,467.83 L266.07,468.06 L267.04,468.30 L268.01,468.53 L268.98,468.76 L269.95,469.00 L270.92,469.22 L271.89,469.45 L272.86,469.68 L273.83,469.91 L274.80,470.13 L275.77,470.35 L276.74,470.58 L277.72,470.80 L278.69,471.02 L279.66,471.24 L280.63,471.45 L281.61,471.67 L282.58,471.88 L283.56,472.10 L284.53,472.31 L285.51,472.52 L286.48,472.73 L287.46,472.93 L288.43,473.14 L289.41,473.35 L290.38,473.55 L291.36,473.75 L292.34,473.95 L293.31,474.15 L294.29,474.35 L295.27,474.55 L296.25,474.74 L297.23,474.94 L298.20,475.13 L299.18,475.32 L300.16,475.51 L301.14,475.70 L302.12,475.88 L303.11,476.07 L304.09,476.25 L305.07,476.44 L306.05,476.62 L307.03,476.80 L308.01,476.97 L309.00,477.15 L309.98,477.33 L310.97,477.50 L311.95,477.67 L312.93,477.84 L313.92,478.01 L314.91,478.18 L315.89,478.34 L316.88,478.51 L317.86,478.67 L318.85,478.83 L319.84,478.99 L320.83,479.15 L321.82,479.30 L322.81,479.46 L323.79,479.61 L324.78,479.76 L325.78,479.91 L326.77,480.06 L327.76,480.20 L328.75,480.35 L329.74,480.49 L330.73,480.63 L331.73,480.77 L332.72,480.91 L333.72,481.04 L334.71,481.18 L335.71,481.31 L336.70,481.44 L337.70,481.57 L338.69,481.70 L339.69,481.83 L340.69,481.95 L341.69,482.07 L342.69,482.19 L343.69,482.31 L344.69,482.43 L345.69,482.54 L346.69,482.66 L347.69,482.77 L348.69,482.88 L349.69,482.99 L350.70,483.09 L351.70,483.20 L352.69,483.06 L353.68,482.93 L354.68,482.79 L355.67,482.66 L356.66,482.53 L357.65,482.39 L358.64,482.26 L359.64,482.13 L360.63,482.00 L361.62,481.88 L362.61,481.75 L363.61,481.62 L364.60,481.49 L365.59,481.37 L366.58,481.25 L367.58,481.12 L368.57,481.00 L369.56,480.88 L370.56,480.76 L371.55,480.64 L372.54,480.52 L373.54,480.40 L374.53,480.28 L375.52,480.17 L376.52,480.05 L377.51,479.94 L378.51,479.82 L379.50,479.71 L380.49,479.60 L381.49,479.49 L382.48,479.38 L383.48,479.27 L384.47,479.16 L385.47,479.05 L386.46,478.95 L387.45,478.84 L388.45,478.74 L389.44,478.63 L390.44,478.53 L391.43,478.43 L392.43,478.33 L393.42,478.22 L394.42,478.13 L395.41,478.03 L396.41,477.93 L397.41,477.83 L398.40,477.74 L399.40,477.64 L400.39,477.55 L401.39,477.45 L402.38,477.36 L403.38,477.27 L404.38,477.18 L405.37,477.09 L406.37,477.00 L407.36,476.91 L408.36,476.82 L409.36,476.73 L410.35,476.65 L411.35,476.56 L412.35,476.48 L413.34,476.40 L414.34,476.31 L415.34,476.23 L416.33,476.15 L417.33,476.07 L418.33,475.99 L419.33,475.92 L420.32,475.84 L421.32,475.76 L422.32,475.69 L423.32,475.61 L424.31,475.54 L425.31,475.47 L426.31,475.39 L427.31,475.32 L428.31,475.25 L429.30,475.18 L430.30,475.12 L431.30,475.05 L432.30,474.98 L433.30,474.92 L434.30,474.85 L435.29,474.79 L436.29,474.72 L437.29,474.66 L438.29,474.60 L439.29,474.54 L440.29,474.48 L441.29,474.42 L442.29,474.36 L443.29,474.31 L444.28,474.25 L445.28,474.20 L446.28,474.14 L447.28,474.09 L448.28,474.03 L449.28,473.98 L450.28,473.93 L451.28,473.88 L452.28,473.83 L453.28,473.78 L454.28,473.74 L455.28,473.69 L456.28,473.64 L457.28,473.60 L458.28,473.56 L459.28,473.51 L460.28,473.47 L461.29,473.43 L462.29,473.39 L463.29,473.35 L464.29,473.31 L465.29,473.27 L466.29,473.23 L467.29,473.20 L468.29,473.16 L469.29,473.13 L470.30,473.10 L471.30,473.06 L472.30,473.03 L473.30,473.00" fill="none" stroke="#FF0000" stroke-width="2.20" stroke-linejoin="round" stroke-linecap="round"/>
<path d="M62.40,455.60 L64.90,463.10 L65.53,462.38 L66.16,461.64 L66.79,460.91 L67.43,460.17 L68.07,459.43 L68.72,458.68 L69.37,457.94 L70.03,457.20 L70.69,456.45 L71.36,455.71 L72.04,454.97 L72.72,454.23 L73.40,453.49 L74.10,452.76 L74.80,452.03 L75.50,451.30 L76.21,450.58 L76.93,449.86 L77.66,449.15 L78.39,448.45 L79.13,447.75 L79.87,447.06 L80.62,446.38 L81.38,445.71 L82.15,445.04 L82.93,444.39 L83.71,443.75 L84.50,443.11 L85.30,442.49 L86.10,441.88 L86.92,441.28 L87.74,440.70 L88.57,440.13 L89.41,439.57 L90.26,439.03 L91.12,438.50 L91.98,437.99 L92.86,437.49 L93.74,437.01 L94.63,436.55 L95.53,436.10 L96.44,435.67 L97.35,435.25 L98.27,434.85 L99.19,434.46 L100.13,434.09 L101.06,433.73 L102.01,433.40 L102.96,433.07 L103.91,432.76 L104.87,432.47 L105.83,432.20 L106.79,431.93 L107.76,431.69 L108.73,431.46 L109.71,431.24 L110.69,431.05 L111.67,430.86 L112.65,430.69 L113.63,430.54 L114.62,430.40 L115.60,430.28 L116.59,430.18 L117.58,430.09 L118.56,430.01 L119.55,429.95 L120.54,429.91 L121.52,429.88 L122.51,429.87 L123.49,429.87 L124.48,429.88 L125.46,429.91 L126.44,429.95 L127.42,430.01 L128.40,430.08 L129.38,430.16 L130.36,430.25 L131.34,430.36 L132.32,430.47 L133.30,430.60 L134.28,430.74 L135.25,430.89 L136.23,431.05 L137.21,431.22 L138.18,431.40 L139.16,431.59 L140.13,431.78 L141.10,431.99 L142.08,432.20 L143.05,432.42 L144.02,432.65 L145.00,432.89 L145.97,433.13 L146.94,433.38 L147.91,433.64 L148.88,433.90 L149.85,434.17 L150.82,434.44 L151.79,434.72 L152.76,435.00 L153.73,435.28 L154.70,435.57 L155.66,435.86 L156.63,436.16 L157.60,436.46 L158.57,436.76 L159.54,437.06 L160.50,437.37 L161.47,437.67 L162.44,437.98 L163.40,438.29 L164.37,438.60 L165.33,438.91 L166.30,439.22 L167.27,439.52 L168.23,439.83 L169.20,440.14 L170.16,440.44 L171.13,440.75 L172.09,441.05 L173.06,441.36 L174.02,441.66 L174.99,441.96 L175.95,442.27 L176.92,442.57 L177.88,442.87 L178.85,443.16 L179.81,443.46 L180.77,443.76 L181.74,444.05 L182.70,444.35 L183.67,444.64 L184.63,444.93 L185.59,445.22 L186.56,445.51 L187.52,445.80 L188.48,446.09 L189.45,446.37 L190.41,446.66 L191.37,446.94 L192.34,447.22 L193.30,447.50 L194.26,447.77 L195.23,448.05 L196.19,448.32 L197.15,448.60 L198.12,448.87 L199.08,449.13 L200.04,449.40 L201.01,449.66 L201.97,449.93 L202.93,450.19 L203.90,450.45 L204.86,450.71 L205.82,450.96 L206.78,451.22 L207.75,451.47 L208.71,451.73 L209.67,451.98 L210.64,452.23 L211.60,452.48 L212.56,452.73 L213.53,452.98 L214.49,453.23 L215.45,453.49 L216.42,453.74 L217.38,453.99 L218.34,454.24 L219.31,454.49 L220.27,454.74 L221.23,455.00 L222.20,455.25 L223.16,455.51 L224.13,455.76 L225.09,456.02 L226.05,456.28 L227.02,456.54 L227.98,456.80 L228.95,457.07 L229.91,457.33 L230.88,457.60 L231.84,457.87 L232.80,458.14 L233.77,458.42 L234.73,458.69 L235.70,458.97 L236.67,459.25 L237.63,459.53 L238.60,459.80 L239.56,460.08 L240.53,460.37 L241.49,460.65 L242.46,460.93 L243.43,461.21 L244.39,461.49 L245.36,461.77 L246.33,462.05 L247.29,462.33 L248.26,462.62 L249.23,462.89 L250.20,463.17 L251.16,463.45 L252.13,463.73 L253.10,464.00 L254.07,464.28 L255.04,464.55 L256.01,464.82 L256.97,465.08 L257.94,465.35 L258.91,465.61 L259.88,465.88 L260.85,466.13 L261.82,466.39 L262.79,466.64 L263.76,466.90 L264.73,467.14 L265.71,467.39 L266.68,467.63 L267.65,467.87 L268.62,468.11 L269.59,468.34 L270.56,468.58 L271.54,468.81 L272.51,469.03 L273.48,469.26 L274.46,469.48 L275.43,469.70 L276.40,469.91 L277.38,470.13 L278.35,470.34 L279.33,470.55 L280.30,470.75 L281.28,470.96 L282.25,471.16 L283.23,471.36 L284.21,471.55 L285.18,471.75 L286.16,471.94 L287.14,472.13 L288.12,472.31 L289.09,472.50 L290.07,472.68 L291.05,472.86 L292.03,473.03 L293.01,473.21 L293.99,473.38 L294.97,473.55 L295.95,473.71 L296.93,473.88 L297.91,474.04 L298.90,474.20 L299.88,474.36 L300.86,474.51 L301.84,474.67 L302.83,474.82 L303.81,474.96 L304.80,475.11 L305.78,475.25 L306.76,475.40 L307.75,475.53 L308.74,475.67 L309.72,475.81 L310.71,475.94 L311.70,476.07 L312.68,476.20 L313.67,476.32 L314.66,476.45 L315.65,476.57 L316.64,476.69 L317.63,476.81 L318.62,476.93 L319.61,477.04 L320.60,477.16 L321.59,477.27 L322.58,477.39 L323.58,477.50 L324.57,477.61 L325.56,477.73 L326.56,477.84 L327.55,477.95 L328.55,478.06 L329.54,478.17 L330.54,478.29 L331.53,478.40 L332.53,478.51 L333.53,478.63 L334.53,478.74 L335.52,478.86 L336.52,478.97 L337.52,479.09 L338.52,479.21 L339.52,479.33 L340.53,479.45 L341.53,479.58 L342.53,479.70 L343.53,479.83 L344.54,479.96 L345.54,480.09 L346.54,480.23 L347.55,480.36 L348.56,480.50 L349.56,480.64 L350.57,480.79 L351.58,480.94 L352.58,481.09 L353.59,481.24 L354.60,481.40 L410.00,475.30 L473.30,471.50" fill="none" stroke="#FF99CC" stroke-width="2.20" stroke-linejoin="round" stroke-linecap="round"/>
<path d="M62.40,444.40 L65.50,455.00 L66.24,454.50 L66.97,453.97 L67.71,453.42 L68.45,452.86 L69.20,452.27 L69.94,451.68 L70.70,451.07 L71.46,450.45 L72.23,449.82 L73.00,449.19 L73.78,448.55 L74.56,447.91 L75.36,447.27 L76.16,446.64 L76.97,446.00 L77.79,445.38 L78.61,444.76 L79.45,444.15 L80.30,443.55 L81.15,442.97 L82.02,442.40 L82.90,441.84 L83.79,441.30 L84.68,440.78 L85.58,440.27 L86.49,439.77 L87.41,439.29 L88.34,438.83 L89.27,438.39 L90.21,437.96 L91.15,437.55 L92.10,437.15 L93.05,436.78 L94.01,436.42 L94.97,436.08 L95.93,435.76 L96.90,435.46 L97.87,435.18 L98.84,434.91 L99.82,434.67 L100.79,434.45 L101.77,434.25 L102.75,434.06 L103.72,433.90 L104.70,433.76 L105.68,433.63 L106.66,433.52 L107.63,433.43 L108.61,433.35 L109.59,433.29 L110.57,433.23 L111.55,433.19 L112.53,433.16 L113.51,433.14 L114.49,433.13 L115.47,433.13 L116.45,433.13 L117.43,433.14 L118.41,433.16 L119.39,433.17 L120.38,433.19 L121.36,433.22 L122.34,433.24 L123.32,433.27 L124.30,433.30 L125.29,433.34 L126.27,433.38 L127.25,433.43 L128.23,433.47 L129.22,433.53 L130.20,433.59 L131.18,433.65 L132.16,433.73 L133.15,433.80 L134.13,433.89 L135.11,433.98 L136.10,434.08 L137.08,434.19 L138.06,434.30 L139.05,434.42 L140.03,434.56 L141.01,434.70 L142.00,434.85 L142.98,435.01 L143.96,435.18 L144.95,435.35 L145.93,435.54 L146.91,435.73 L147.89,435.93 L148.88,436.13 L149.86,436.34 L150.84,436.56 L151.82,436.78 L152.81,437.01 L153.79,437.25 L154.77,437.48 L155.75,437.73 L156.73,437.97 L157.71,438.22 L158.69,438.48 L159.67,438.73 L160.65,438.99 L161.63,439.26 L162.61,439.52 L163.59,439.78 L164.57,440.05 L165.55,440.32 L166.53,440.58 L167.51,440.85 L168.49,441.12 L169.46,441.39 L170.44,441.66 L171.42,441.93 L172.39,442.20 L173.37,442.47 L174.35,442.74 L175.32,443.01 L176.30,443.28 L177.27,443.55 L178.25,443.82 L179.22,444.09 L180.20,444.36 L181.17,444.64 L182.15,444.91 L183.12,445.18 L184.10,445.45 L185.07,445.72 L186.04,446.00 L187.02,446.27 L187.99,446.54 L188.96,446.81 L189.93,447.08 L190.91,447.36 L191.88,447.63 L192.85,447.90 L193.82,448.17 L194.79,448.44 L195.77,448.71 L196.74,448.98 L197.71,449.25 L198.68,449.52 L199.65,449.79 L200.62,450.06 L201.59,450.33 L202.56,450.60 L203.53,450.87 L204.50,451.14 L205.47,451.41 L206.44,451.68 L207.41,451.94 L208.38,452.21 L209.35,452.48 L210.32,452.74 L211.29,453.01 L212.26,453.27 L213.23,453.54 L214.20,453.80 L215.17,454.07 L216.14,454.33 L217.11,454.59 L218.07,454.85 L219.04,455.11 L220.01,455.37 L220.98,455.63 L221.95,455.89 L222.92,456.15 L223.89,456.41 L224.86,456.66 L225.83,456.92 L226.80,457.17 L227.76,457.43 L228.73,457.68 L229.70,457.93 L230.67,458.18 L231.64,458.43 L232.61,458.68 L233.58,458.93 L234.55,459.18 L235.52,459.43 L236.48,459.67 L237.45,459.92 L238.42,460.16 L239.39,460.40 L240.36,460.64 L241.33,460.88 L242.30,461.12 L243.27,461.36 L244.24,461.60 L245.21,461.83 L246.18,462.07 L247.15,462.30 L248.12,462.53 L249.09,462.76 L250.06,462.99 L251.03,463.22 L252.00,463.45 L252.97,463.67 L253.94,463.90 L254.91,464.12 L255.88,464.34 L256.86,464.56 L257.83,464.78 L258.80,464.99 L259.77,465.21 L260.74,465.42 L261.71,465.63 L262.69,465.84 L263.66,466.05 L264.63,466.26 L265.60,466.47 L266.58,466.67 L267.55,466.87 L268.52,467.08 L269.50,467.28 L270.47,467.47 L271.45,467.67 L272.42,467.87 L273.39,468.06 L274.37,468.25 L275.34,468.45 L276.32,468.64 L277.30,468.82 L278.27,469.01 L279.25,469.20 L280.22,469.38 L281.20,469.56 L282.18,469.75 L283.15,469.93 L284.13,470.11 L285.11,470.28 L286.09,470.46 L287.07,470.63 L288.05,470.81 L289.02,470.98 L290.00,471.15 L290.98,471.32 L291.96,471.49 L292.94,471.66 L293.93,471.82 L294.91,471.99 L295.89,472.15 L296.87,472.32 L297.85,472.48 L298.83,472.64 L299.82,472.80 L300.80,472.95 L301.78,473.11 L302.77,473.27 L303.75,473.42 L304.74,473.57 L305.72,473.73 L306.71,473.88 L307.69,474.03 L308.68,474.18 L309.67,474.32 L310.66,474.47 L311.64,474.62 L312.63,474.76 L313.62,474.90 L314.61,475.05 L315.60,475.19 L316.59,475.33 L317.58,475.47 L318.57,475.60 L319.56,475.74 L320.55,475.88 L321.55,476.01 L322.54,476.15 L323.53,476.28 L324.53,476.41 L325.52,476.55 L326.52,476.68 L327.51,476.81 L328.51,476.94 L329.50,477.06 L330.50,477.19 L331.50,477.32 L332.50,477.44 L333.50,477.57 L334.50,477.69 L335.49,477.81 L336.50,477.93 L337.50,478.06 L338.50,478.18 L339.50,478.30 L340.50,478.41 L341.51,478.53 L342.51,478.65 L343.51,478.77 L344.52,478.88 L345.52,479.00 L346.53,479.11 L347.54,479.22 L348.54,479.34 L349.55,479.45 L350.56,479.56 L351.57,479.67 L352.58,479.78 L353.59,479.89 L354.60,480.00 L355.59,479.84 L356.58,479.68 L357.57,479.52 L358.56,479.36 L359.55,479.21 L360.54,479.05 L361.53,478.90 L362.52,478.75 L363.51,478.60 L364.50,478.45 L365.49,478.31 L366.48,478.16 L367.47,478.02 L368.46,477.87 L369.45,477.73 L370.45,477.59 L371.44,477.45 L372.43,477.32 L373.42,477.18 L374.41,477.04 L375.41,476.91 L376.40,476.78 L377.39,476.65 L378.38,476.52 L379.38,476.39 L380.37,476.26 L381.36,476.14 L382.35,476.01 L383.35,475.89 L384.34,475.77 L385.33,475.65 L386.33,475.53 L387.32,475.42 L388.32,475.30 L389.31,475.18 L390.30,475.07 L391.30,474.96 L392.29,474.85 L393.29,474.74 L394.28,474.63 L395.28,474.53 L396.27,474.42 L397.27,474.32 L398.26,474.22 L399.26,474.11 L400.25,474.01 L401.25,473.92 L402.25,473.82 L403.24,473.72 L404.24,473.63 L405.23,473.54 L406.23,473.45 L407.23,473.36 L408.22,473.27 L409.22,473.18 L410.22,473.09 L411.21,473.01 L412.21,472.92 L413.21,472.84 L414.21,472.76 L415.20,472.68 L416.20,472.61 L417.20,472.53 L418.20,472.45 L419.20,472.38 L420.19,472.31 L421.19,472.24 L422.19,472.17 L423.19,472.10 L424.19,472.03 L425.19,471.96 L426.19,471.90 L427.19,471.84 L428.19,471.78 L429.18,471.72 L430.18,471.66 L431.18,471.60 L432.18,471.54 L433.18,471.49 L434.18,471.43 L435.18,471.38 L436.19,471.33 L437.19,471.28 L438.19,471.23 L439.19,471.19 L440.19,471.14 L441.19,471.10 L442.19,471.05 L443.19,471.01 L444.19,470.97 L445.20,470.93 L446.20,470.90 L447.20,470.86 L448.20,470.83 L449.20,470.79 L450.21,470.76 L451.21,470.73 L452.21,470.70 L453.21,470.67 L454.22,470.65 L455.22,470.62 L456.22,470.60 L457.23,470.58 L458.23,470.55 L459.23,470.53 L460.24,470.52 L461.24,470.50 L462.25,470.48 L463.25,470.47 L464.25,470.46 L465.26,470.44 L466.26,470.43 L467.27,470.43 L468.27,470.42 L469.28,470.41 L470.28,470.41 L471.29,470.40 L472.29,470.40 L473.30,470.40" fill="none" stroke="#FFC000" stroke-width="2.20" stroke-linejoin="round" stroke-linecap="round"/>
<ellipse cx="61.6" cy="479.4" rx="2.4" ry="3.5" fill="#000"/>
<line x1="177.10" y1="338.30" x2="195.60" y2="338.30" stroke="#000" stroke-width="2.2" stroke-dasharray="1.6 2.2"/>
<text x="197.10" y="342.60" font-size="10.60" word-spacing="0.00">Diesel</text>
<line x1="327.60" y1="338.30" x2="346.10" y2="338.30" stroke="#000" stroke-width="2.4" stroke-dasharray="5 3"/>
<text x="347.60" y="342.60" font-size="10.60" word-spacing="0.00">Gasoline</text>
<line x1="177.90" y1="353.60" x2="194.80" y2="353.60" stroke="#974706" stroke-width="2.2" stroke-linecap="round"/>
<text x="197.10" y="357.90" font-size="10.60" word-spacing="0.00">FTD, Willow, EU</text>
<line x1="328.40" y1="353.60" x2="345.30" y2="353.60" stroke="#1A6EFF" stroke-width="2.2" stroke-linecap="round"/>
<text x="347.60" y="357.90" font-size="10.60" word-spacing="0.00">FTD, Eucalyptus, LA/EU</text>
<line x1="177.90" y1="368.90" x2="194.80" y2="368.90" stroke="#008000" stroke-width="2.2" stroke-linecap="round"/>
<text x="197.10" y="373.20" font-size="10.60" word-spacing="0.00">Bioethanol, wood, US PNW</text>
<line x1="328.40" y1="368.90" x2="345.30" y2="368.90" stroke="#92D050" stroke-width="2.2" stroke-linecap="round"/>
<text x="347.60" y="373.20" font-size="10.60" word-spacing="0.00">Bioethanol, wood, US WI</text>
<line x1="177.90" y1="384.40" x2="194.80" y2="384.40" stroke="#7030A0" stroke-width="2.2" stroke-linecap="round"/>
<text x="197.10" y="388.70" font-size="10.60" word-spacing="0.00">Bioethanol, wood, CA</text>
<line x1="328.40" y1="384.40" x2="345.30" y2="384.40" stroke="#FF0000" stroke-width="2.2" stroke-linecap="round"/>
<text x="347.60" y="388.70" font-size="10.60" word-spacing="0.00">Bioethanol, wood, NO</text>
<line x1="177.90" y1="399.90" x2="194.80" y2="399.90" stroke="#FF99CC" stroke-width="2.2" stroke-linecap="round"/>
<text x="197.10" y="404.20" font-size="10.60" word-spacing="0.00">FTD, Wood, NO</text>
<line x1="328.40" y1="399.90" x2="345.30" y2="399.90" stroke="#FFC000" stroke-width="2.2" stroke-linecap="round"/>
<text x="347.60" y="404.20" font-size="10.60" word-spacing="0.00">FTD, wood, NO (fr)</text>
<text x="11.3" y="339.8" font-size="11.8">b</text>
<text x="278.4" y="637" text-anchor="middle" font-size="12.3" word-spacing="-1">Time, years</text>
<text transform="translate(18.8,466.2) rotate(-90)" text-anchor="middle" font-size="11.9">Effective radiative forcing</text>
<text transform="translate(33,465) rotate(-90)" text-anchor="middle" font-size="12.3">10<tspan dy="-3.3" font-size="7.6">-16</tspan><tspan dy="3.3"> Wm</tspan><tspan dy="-3.3" font-size="7.6">-2</tspan><tspan dy="3.3">MJ</tspan><tspan dy="-3.3" font-size="7.6">-1</tspan></text>
</svg>
</body></html>
